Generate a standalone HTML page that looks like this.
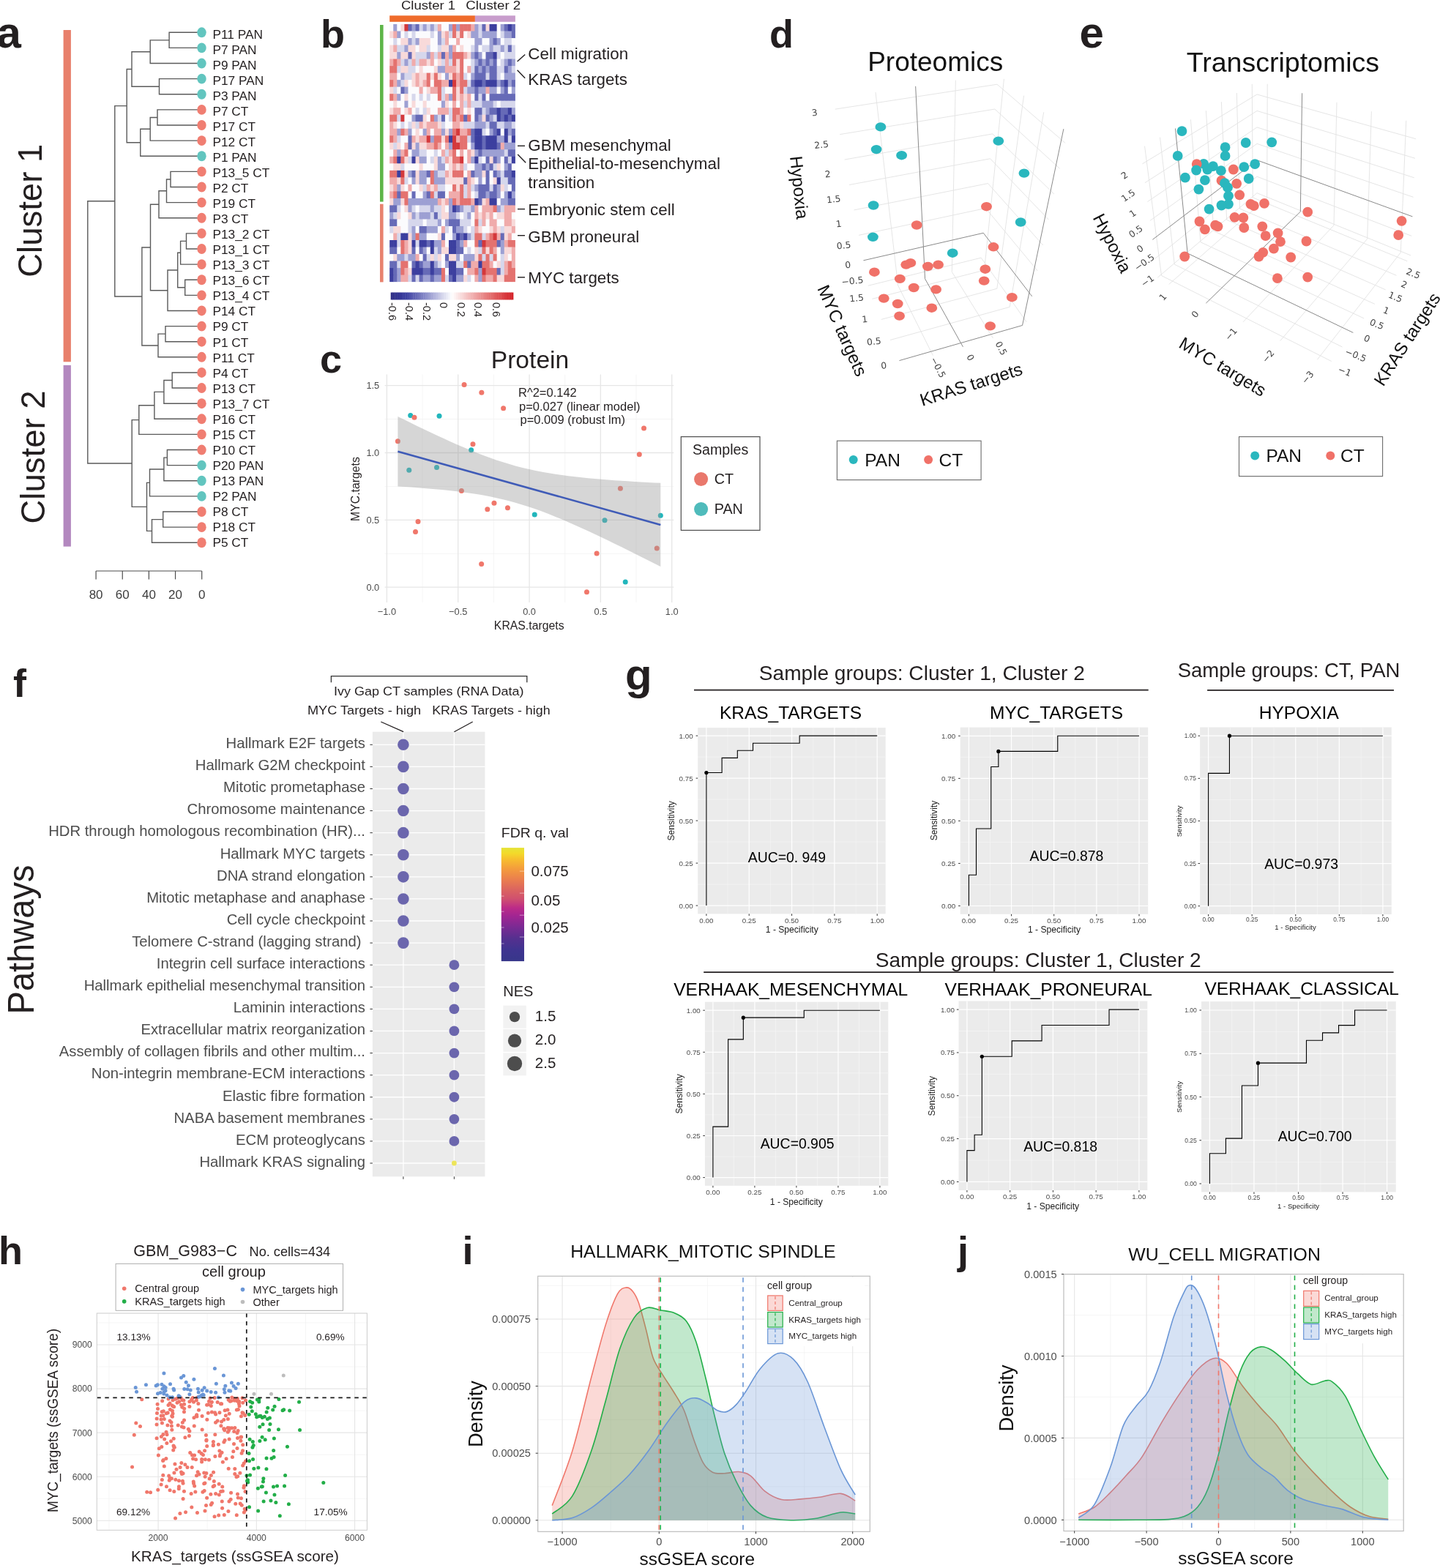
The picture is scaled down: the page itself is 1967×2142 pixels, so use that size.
<!DOCTYPE html>
<html><head><meta charset="utf-8"><title>Figure</title>
<style>html,body{margin:0;padding:0;background:#fff;}svg{display:block;}</style></head><body>
<svg width="1967" height="2142" viewBox="0 0 1967 2142" font-family='"Liberation Sans", Arial, Helvetica, sans-serif'>
<rect x="0" y="0" width="1967" height="2142" fill="#FFFFFF"/>
<path d="M275.5 44.3H231.1V65.42H275.5 M231.1 54.86H205.2V86.54H275.5 M275.5 107.66H217.5V128.78H275.5 M205.2 70.7H180V118.22H217.5 M275.5 149.9H215V171.02H275.5 M215 160.46H205.2V192.14H275.5 M205.2 176.3H191.8V213.26H275.5 M180 94.46H173.2V194.78H191.8 M275.5 234.38H233V255.5H275.5 M233 244.94H227.5V276.62H275.5 M227.5 260.78H217V297.74H275.5 M275.5 318.86H254.5V339.98H275.5 M254.5 329.42H246.6V361.1H275.5 M275.5 382.22H252.7V403.34H275.5 M246.6 345.26H242.7V392.78H252.7 M242.7 369.02H229V424.46H275.5 M217 279.26H205.5V396.74H229 M275.5 445.58H226V466.7H275.5 M226 456.14H216V487.82H275.5 M205.5 338H193.9V471.98H216 M173.2 144.62H156.8V404.99H193.9 M275.5 508.94H235.2V530.06H275.5 M235.2 519.5H223.9V551.18H275.5 M223.9 535.34H210.9V572.3H275.5 M210.9 553.82H189.8V593.42H275.5 M275.5 614.54H228.4V635.66H275.5 M228.4 625.1H223.9V656.78H275.5 M223.9 640.94H204.5V677.9H275.5 M275.5 699.02H222.7V720.14H275.5 M222.7 709.58H207.5V741.26H275.5 M204.5 659.42H200.5V725.42H207.5 M189.8 573.62H180.2V692.42H200.5 M156.8 274.81H119.8V633.02H180.2" stroke="#5A5A5A" stroke-width="1.4" fill="none"/>
<ellipse cx="275.5" cy="44.3" rx="6.2" ry="6.95" fill="#62C5BF"/>
<text x="290.4" y="52.9" font-size="17.3" fill="#231F20">P11 PAN</text>
<ellipse cx="275.5" cy="65.42" rx="6.2" ry="6.95" fill="#62C5BF"/>
<text x="290.4" y="73.93" font-size="17.3" fill="#231F20">P7 PAN</text>
<ellipse cx="275.5" cy="86.54" rx="6.2" ry="6.95" fill="#62C5BF"/>
<text x="290.4" y="94.96" font-size="17.3" fill="#231F20">P9 PAN</text>
<ellipse cx="275.5" cy="107.66" rx="6.2" ry="6.95" fill="#62C5BF"/>
<text x="290.4" y="115.99" font-size="17.3" fill="#231F20">P17 PAN</text>
<ellipse cx="275.5" cy="128.78" rx="6.2" ry="6.95" fill="#62C5BF"/>
<text x="290.4" y="137.02" font-size="17.3" fill="#231F20">P3 PAN</text>
<ellipse cx="275.5" cy="149.9" rx="6.2" ry="6.95" fill="#F07E72"/>
<text x="290.4" y="158.05" font-size="17.3" fill="#231F20">P7 CT</text>
<ellipse cx="275.5" cy="171.02" rx="6.2" ry="6.95" fill="#F07E72"/>
<text x="290.4" y="179.08" font-size="17.3" fill="#231F20">P17 CT</text>
<ellipse cx="275.5" cy="192.14" rx="6.2" ry="6.95" fill="#F07E72"/>
<text x="290.4" y="200.11" font-size="17.3" fill="#231F20">P12 CT</text>
<ellipse cx="275.5" cy="213.26" rx="6.2" ry="6.95" fill="#62C5BF"/>
<text x="290.4" y="221.14" font-size="17.3" fill="#231F20">P1 PAN</text>
<ellipse cx="275.5" cy="234.38" rx="6.2" ry="6.95" fill="#F07E72"/>
<text x="290.4" y="242.17" font-size="17.3" fill="#231F20">P13_5 CT</text>
<ellipse cx="275.5" cy="255.5" rx="6.2" ry="6.95" fill="#F07E72"/>
<text x="290.4" y="263.2" font-size="17.3" fill="#231F20">P2 CT</text>
<ellipse cx="275.5" cy="276.62" rx="6.2" ry="6.95" fill="#F07E72"/>
<text x="290.4" y="284.23" font-size="17.3" fill="#231F20">P19 CT</text>
<ellipse cx="275.5" cy="297.74" rx="6.2" ry="6.95" fill="#F07E72"/>
<text x="290.4" y="305.26" font-size="17.3" fill="#231F20">P3 CT</text>
<ellipse cx="275.5" cy="318.86" rx="6.2" ry="6.95" fill="#F07E72"/>
<text x="290.4" y="326.29" font-size="17.3" fill="#231F20">P13_2 CT</text>
<ellipse cx="275.5" cy="339.98" rx="6.2" ry="6.95" fill="#F07E72"/>
<text x="290.4" y="347.32" font-size="17.3" fill="#231F20">P13_1 CT</text>
<ellipse cx="275.5" cy="361.1" rx="6.2" ry="6.95" fill="#F07E72"/>
<text x="290.4" y="368.35" font-size="17.3" fill="#231F20">P13_3 CT</text>
<ellipse cx="275.5" cy="382.22" rx="6.2" ry="6.95" fill="#F07E72"/>
<text x="290.4" y="389.38" font-size="17.3" fill="#231F20">P13_6 CT</text>
<ellipse cx="275.5" cy="403.34" rx="6.2" ry="6.95" fill="#F07E72"/>
<text x="290.4" y="410.41" font-size="17.3" fill="#231F20">P13_4 CT</text>
<ellipse cx="275.5" cy="424.46" rx="6.2" ry="6.95" fill="#F07E72"/>
<text x="290.4" y="431.44" font-size="17.3" fill="#231F20">P14 CT</text>
<ellipse cx="275.5" cy="445.58" rx="6.2" ry="6.95" fill="#F07E72"/>
<text x="290.4" y="452.47" font-size="17.3" fill="#231F20">P9 CT</text>
<ellipse cx="275.5" cy="466.7" rx="6.2" ry="6.95" fill="#F07E72"/>
<text x="290.4" y="473.5" font-size="17.3" fill="#231F20">P1 CT</text>
<ellipse cx="275.5" cy="487.82" rx="6.2" ry="6.95" fill="#F07E72"/>
<text x="290.4" y="494.53" font-size="17.3" fill="#231F20">P11 CT</text>
<ellipse cx="275.5" cy="508.94" rx="6.2" ry="6.95" fill="#F07E72"/>
<text x="290.4" y="515.56" font-size="17.3" fill="#231F20">P4 CT</text>
<ellipse cx="275.5" cy="530.06" rx="6.2" ry="6.95" fill="#F07E72"/>
<text x="290.4" y="536.59" font-size="17.3" fill="#231F20">P13 CT</text>
<ellipse cx="275.5" cy="551.18" rx="6.2" ry="6.95" fill="#F07E72"/>
<text x="290.4" y="557.62" font-size="17.3" fill="#231F20">P13_7 CT</text>
<ellipse cx="275.5" cy="572.3" rx="6.2" ry="6.95" fill="#F07E72"/>
<text x="290.4" y="578.65" font-size="17.3" fill="#231F20">P16 CT</text>
<ellipse cx="275.5" cy="593.42" rx="6.2" ry="6.95" fill="#F07E72"/>
<text x="290.4" y="599.68" font-size="17.3" fill="#231F20">P15 CT</text>
<ellipse cx="275.5" cy="614.54" rx="6.2" ry="6.95" fill="#F07E72"/>
<text x="290.4" y="620.71" font-size="17.3" fill="#231F20">P10 CT</text>
<ellipse cx="275.5" cy="635.66" rx="6.2" ry="6.95" fill="#62C5BF"/>
<text x="290.4" y="641.74" font-size="17.3" fill="#231F20">P20 PAN</text>
<ellipse cx="275.5" cy="656.78" rx="6.2" ry="6.95" fill="#62C5BF"/>
<text x="290.4" y="662.77" font-size="17.3" fill="#231F20">P13 PAN</text>
<ellipse cx="275.5" cy="677.9" rx="6.2" ry="6.95" fill="#62C5BF"/>
<text x="290.4" y="683.8" font-size="17.3" fill="#231F20">P2 PAN</text>
<ellipse cx="275.5" cy="699.02" rx="6.2" ry="6.95" fill="#F07E72"/>
<text x="290.4" y="704.83" font-size="17.3" fill="#231F20">P8 CT</text>
<ellipse cx="275.5" cy="720.14" rx="6.2" ry="6.95" fill="#F07E72"/>
<text x="290.4" y="725.86" font-size="17.3" fill="#231F20">P18 CT</text>
<ellipse cx="275.5" cy="741.26" rx="6.2" ry="6.95" fill="#F07E72"/>
<text x="290.4" y="746.89" font-size="17.3" fill="#231F20">P5 CT</text>
<line x1="131.1" y1="780" x2="275.7" y2="780" stroke="#4D4D4D" stroke-width="1.2"/>
<line x1="275.7" y1="780" x2="275.7" y2="791.4" stroke="#4D4D4D" stroke-width="1.2"/>
<text x="275.7" y="818" font-size="17" text-anchor="middle" fill="#3C3C3C">0</text>
<line x1="239.55" y1="780" x2="239.55" y2="791.4" stroke="#4D4D4D" stroke-width="1.2"/>
<text x="239.55" y="818" font-size="17" text-anchor="middle" fill="#3C3C3C">20</text>
<line x1="203.4" y1="780" x2="203.4" y2="791.4" stroke="#4D4D4D" stroke-width="1.2"/>
<text x="203.4" y="818" font-size="17" text-anchor="middle" fill="#3C3C3C">40</text>
<line x1="167.25" y1="780" x2="167.25" y2="791.4" stroke="#4D4D4D" stroke-width="1.2"/>
<text x="167.25" y="818" font-size="17" text-anchor="middle" fill="#3C3C3C">60</text>
<line x1="131.1" y1="780" x2="131.1" y2="791.4" stroke="#4D4D4D" stroke-width="1.2"/>
<text x="131.1" y="818" font-size="17" text-anchor="middle" fill="#3C3C3C">80</text>
<rect x="86.6" y="41" width="10.3" height="453.3" fill="#E8806C"/>
<rect x="86.6" y="498.9" width="10.3" height="247.7" fill="#B388BF"/>
<text transform="translate(56.9 287.8) rotate(-90)" font-size="45.5" text-anchor="middle" fill="#231F20">Cluster 1</text>
<text transform="translate(60.9 624.5) rotate(-90)" font-size="45.5" text-anchor="middle" fill="#231F20">Cluster 2</text>
<rect x="532.2" y="33" width="5.65" height="10.12" fill="#FBFBFD"/>
<rect x="537.25" y="33" width="5.65" height="10.12" fill="#9DA0D3"/>
<rect x="542.3" y="33" width="5.65" height="10.12" fill="#FBFBFD"/>
<rect x="547.35" y="33" width="5.65" height="10.12" fill="#F8DADA"/>
<rect x="552.4" y="33" width="5.65" height="10.12" fill="#D4383B"/>
<rect x="557.45" y="33" width="5.65" height="10.12" fill="#666AB7"/>
<rect x="562.5" y="33" width="5.65" height="10.12" fill="#9DA0D3"/>
<rect x="567.55" y="33" width="5.65" height="10.12" fill="#666AB7"/>
<rect x="572.6" y="33" width="5.65" height="10.12" fill="#D6D7EC"/>
<rect x="577.65" y="33" width="5.65" height="10.12" fill="#9DA0D3"/>
<rect x="582.7" y="33" width="5.65" height="10.12" fill="#D6D7EC"/>
<rect x="587.75" y="33" width="5.65" height="10.12" fill="#9DA0D3"/>
<rect x="592.8" y="33" width="5.65" height="10.12" fill="#D6D7EC"/>
<rect x="597.85" y="33" width="5.65" height="10.12" fill="#F0ABAB"/>
<rect x="602.9" y="33" width="5.65" height="10.12" fill="#FBFBFD"/>
<rect x="607.95" y="33" width="5.65" height="10.12" fill="#FBFBFD"/>
<rect x="613" y="33" width="5.65" height="10.12" fill="#9DA0D3"/>
<rect x="618.05" y="33" width="5.65" height="10.12" fill="#E4726F"/>
<rect x="623.1" y="33" width="5.65" height="10.12" fill="#9DA0D3"/>
<rect x="628.15" y="33" width="5.65" height="10.12" fill="#E4726F"/>
<rect x="633.2" y="33" width="5.65" height="10.12" fill="#E4726F"/>
<rect x="638.25" y="33" width="5.65" height="10.12" fill="#E4726F"/>
<rect x="643.3" y="33" width="5.65" height="10.12" fill="#F0ABAB"/>
<rect x="648.35" y="33" width="5.65" height="10.12" fill="#9DA0D3"/>
<rect x="653.4" y="33" width="5.65" height="10.12" fill="#D6D7EC"/>
<rect x="658.45" y="33" width="5.65" height="10.12" fill="#666AB7"/>
<rect x="663.5" y="33" width="5.65" height="10.12" fill="#F8DADA"/>
<rect x="668.55" y="33" width="5.65" height="10.12" fill="#3C3F9F"/>
<rect x="673.6" y="33" width="5.65" height="10.12" fill="#3C3F9F"/>
<rect x="678.65" y="33" width="5.65" height="10.12" fill="#FBFBFD"/>
<rect x="683.7" y="33" width="5.65" height="10.12" fill="#9DA0D3"/>
<rect x="688.75" y="33" width="5.65" height="10.12" fill="#666AB7"/>
<rect x="693.8" y="33" width="5.65" height="10.12" fill="#3C3F9F"/>
<rect x="698.85" y="33" width="5.05" height="10.12" fill="#666AB7"/>
<rect x="532.2" y="42.52" width="5.65" height="10.12" fill="#F8DADA"/>
<rect x="537.25" y="42.52" width="5.65" height="10.12" fill="#F0ABAB"/>
<rect x="542.3" y="42.52" width="5.65" height="10.12" fill="#9DA0D3"/>
<rect x="547.35" y="42.52" width="5.65" height="10.12" fill="#FBFBFD"/>
<rect x="552.4" y="42.52" width="5.65" height="10.12" fill="#D6D7EC"/>
<rect x="557.45" y="42.52" width="5.65" height="10.12" fill="#FBFBFD"/>
<rect x="562.5" y="42.52" width="5.65" height="10.12" fill="#D6D7EC"/>
<rect x="567.55" y="42.52" width="5.65" height="10.12" fill="#FBFBFD"/>
<rect x="572.6" y="42.52" width="5.65" height="10.12" fill="#FBFBFD"/>
<rect x="577.65" y="42.52" width="5.65" height="10.12" fill="#FBFBFD"/>
<rect x="582.7" y="42.52" width="5.65" height="10.12" fill="#FBFBFD"/>
<rect x="587.75" y="42.52" width="5.65" height="10.12" fill="#D6D7EC"/>
<rect x="592.8" y="42.52" width="5.65" height="10.12" fill="#FBFBFD"/>
<rect x="597.85" y="42.52" width="5.65" height="10.12" fill="#9DA0D3"/>
<rect x="602.9" y="42.52" width="5.65" height="10.12" fill="#F8DADA"/>
<rect x="607.95" y="42.52" width="5.65" height="10.12" fill="#F0ABAB"/>
<rect x="613" y="42.52" width="5.65" height="10.12" fill="#D6D7EC"/>
<rect x="618.05" y="42.52" width="5.65" height="10.12" fill="#E4726F"/>
<rect x="623.1" y="42.52" width="5.65" height="10.12" fill="#F8DADA"/>
<rect x="628.15" y="42.52" width="5.65" height="10.12" fill="#E4726F"/>
<rect x="633.2" y="42.52" width="5.65" height="10.12" fill="#FBFBFD"/>
<rect x="638.25" y="42.52" width="5.65" height="10.12" fill="#F8DADA"/>
<rect x="643.3" y="42.52" width="5.65" height="10.12" fill="#9DA0D3"/>
<rect x="648.35" y="42.52" width="5.65" height="10.12" fill="#9DA0D3"/>
<rect x="653.4" y="42.52" width="5.65" height="10.12" fill="#D6D7EC"/>
<rect x="658.45" y="42.52" width="5.65" height="10.12" fill="#9DA0D3"/>
<rect x="663.5" y="42.52" width="5.65" height="10.12" fill="#9DA0D3"/>
<rect x="668.55" y="42.52" width="5.65" height="10.12" fill="#9DA0D3"/>
<rect x="673.6" y="42.52" width="5.65" height="10.12" fill="#9DA0D3"/>
<rect x="678.65" y="42.52" width="5.65" height="10.12" fill="#FBFBFD"/>
<rect x="683.7" y="42.52" width="5.65" height="10.12" fill="#D6D7EC"/>
<rect x="688.75" y="42.52" width="5.65" height="10.12" fill="#9DA0D3"/>
<rect x="693.8" y="42.52" width="5.65" height="10.12" fill="#9DA0D3"/>
<rect x="698.85" y="42.52" width="5.05" height="10.12" fill="#666AB7"/>
<rect x="532.2" y="52.03" width="5.65" height="10.12" fill="#FBFBFD"/>
<rect x="537.25" y="52.03" width="5.65" height="10.12" fill="#D6D7EC"/>
<rect x="542.3" y="52.03" width="5.65" height="10.12" fill="#FBFBFD"/>
<rect x="547.35" y="52.03" width="5.65" height="10.12" fill="#F8DADA"/>
<rect x="552.4" y="52.03" width="5.65" height="10.12" fill="#F8DADA"/>
<rect x="557.45" y="52.03" width="5.65" height="10.12" fill="#9DA0D3"/>
<rect x="562.5" y="52.03" width="5.65" height="10.12" fill="#D6D7EC"/>
<rect x="567.55" y="52.03" width="5.65" height="10.12" fill="#9DA0D3"/>
<rect x="572.6" y="52.03" width="5.65" height="10.12" fill="#F8DADA"/>
<rect x="577.65" y="52.03" width="5.65" height="10.12" fill="#F8DADA"/>
<rect x="582.7" y="52.03" width="5.65" height="10.12" fill="#F8DADA"/>
<rect x="587.75" y="52.03" width="5.65" height="10.12" fill="#FBFBFD"/>
<rect x="592.8" y="52.03" width="5.65" height="10.12" fill="#FBFBFD"/>
<rect x="597.85" y="52.03" width="5.65" height="10.12" fill="#9DA0D3"/>
<rect x="602.9" y="52.03" width="5.65" height="10.12" fill="#D6D7EC"/>
<rect x="607.95" y="52.03" width="5.65" height="10.12" fill="#F0ABAB"/>
<rect x="613" y="52.03" width="5.65" height="10.12" fill="#FBFBFD"/>
<rect x="618.05" y="52.03" width="5.65" height="10.12" fill="#FBFBFD"/>
<rect x="623.1" y="52.03" width="5.65" height="10.12" fill="#F0ABAB"/>
<rect x="628.15" y="52.03" width="5.65" height="10.12" fill="#FBFBFD"/>
<rect x="633.2" y="52.03" width="5.65" height="10.12" fill="#FBFBFD"/>
<rect x="638.25" y="52.03" width="5.65" height="10.12" fill="#FBFBFD"/>
<rect x="643.3" y="52.03" width="5.65" height="10.12" fill="#FBFBFD"/>
<rect x="648.35" y="52.03" width="5.65" height="10.12" fill="#9DA0D3"/>
<rect x="653.4" y="52.03" width="5.65" height="10.12" fill="#9DA0D3"/>
<rect x="658.45" y="52.03" width="5.65" height="10.12" fill="#FBFBFD"/>
<rect x="663.5" y="52.03" width="5.65" height="10.12" fill="#FBFBFD"/>
<rect x="668.55" y="52.03" width="5.65" height="10.12" fill="#9DA0D3"/>
<rect x="673.6" y="52.03" width="5.65" height="10.12" fill="#666AB7"/>
<rect x="678.65" y="52.03" width="5.65" height="10.12" fill="#9DA0D3"/>
<rect x="683.7" y="52.03" width="5.65" height="10.12" fill="#FBFBFD"/>
<rect x="688.75" y="52.03" width="5.65" height="10.12" fill="#D6D7EC"/>
<rect x="693.8" y="52.03" width="5.65" height="10.12" fill="#D6D7EC"/>
<rect x="698.85" y="52.03" width="5.05" height="10.12" fill="#FBFBFD"/>
<rect x="532.2" y="61.55" width="5.65" height="10.12" fill="#F8DADA"/>
<rect x="537.25" y="61.55" width="5.65" height="10.12" fill="#F0ABAB"/>
<rect x="542.3" y="61.55" width="5.65" height="10.12" fill="#D6D7EC"/>
<rect x="547.35" y="61.55" width="5.65" height="10.12" fill="#D6D7EC"/>
<rect x="552.4" y="61.55" width="5.65" height="10.12" fill="#9DA0D3"/>
<rect x="557.45" y="61.55" width="5.65" height="10.12" fill="#F8DADA"/>
<rect x="562.5" y="61.55" width="5.65" height="10.12" fill="#F8DADA"/>
<rect x="567.55" y="61.55" width="5.65" height="10.12" fill="#FBFBFD"/>
<rect x="572.6" y="61.55" width="5.65" height="10.12" fill="#F8DADA"/>
<rect x="577.65" y="61.55" width="5.65" height="10.12" fill="#F8DADA"/>
<rect x="582.7" y="61.55" width="5.65" height="10.12" fill="#D6D7EC"/>
<rect x="587.75" y="61.55" width="5.65" height="10.12" fill="#FBFBFD"/>
<rect x="592.8" y="61.55" width="5.65" height="10.12" fill="#FBFBFD"/>
<rect x="597.85" y="61.55" width="5.65" height="10.12" fill="#D6D7EC"/>
<rect x="602.9" y="61.55" width="5.65" height="10.12" fill="#F8DADA"/>
<rect x="607.95" y="61.55" width="5.65" height="10.12" fill="#F8DADA"/>
<rect x="613" y="61.55" width="5.65" height="10.12" fill="#9DA0D3"/>
<rect x="618.05" y="61.55" width="5.65" height="10.12" fill="#F0ABAB"/>
<rect x="623.1" y="61.55" width="5.65" height="10.12" fill="#FBFBFD"/>
<rect x="628.15" y="61.55" width="5.65" height="10.12" fill="#F8DADA"/>
<rect x="633.2" y="61.55" width="5.65" height="10.12" fill="#FBFBFD"/>
<rect x="638.25" y="61.55" width="5.65" height="10.12" fill="#FBFBFD"/>
<rect x="643.3" y="61.55" width="5.65" height="10.12" fill="#D6D7EC"/>
<rect x="648.35" y="61.55" width="5.65" height="10.12" fill="#9DA0D3"/>
<rect x="653.4" y="61.55" width="5.65" height="10.12" fill="#FBFBFD"/>
<rect x="658.45" y="61.55" width="5.65" height="10.12" fill="#D6D7EC"/>
<rect x="663.5" y="61.55" width="5.65" height="10.12" fill="#D6D7EC"/>
<rect x="668.55" y="61.55" width="5.65" height="10.12" fill="#9DA0D3"/>
<rect x="673.6" y="61.55" width="5.65" height="10.12" fill="#D6D7EC"/>
<rect x="678.65" y="61.55" width="5.65" height="10.12" fill="#D6D7EC"/>
<rect x="683.7" y="61.55" width="5.65" height="10.12" fill="#9DA0D3"/>
<rect x="688.75" y="61.55" width="5.65" height="10.12" fill="#D6D7EC"/>
<rect x="693.8" y="61.55" width="5.65" height="10.12" fill="#666AB7"/>
<rect x="698.85" y="61.55" width="5.05" height="10.12" fill="#D6D7EC"/>
<rect x="532.2" y="71.06" width="5.65" height="10.12" fill="#F8DADA"/>
<rect x="537.25" y="71.06" width="5.65" height="10.12" fill="#F8DADA"/>
<rect x="542.3" y="71.06" width="5.65" height="10.12" fill="#9DA0D3"/>
<rect x="547.35" y="71.06" width="5.65" height="10.12" fill="#F8DADA"/>
<rect x="552.4" y="71.06" width="5.65" height="10.12" fill="#F8DADA"/>
<rect x="557.45" y="71.06" width="5.65" height="10.12" fill="#666AB7"/>
<rect x="562.5" y="71.06" width="5.65" height="10.12" fill="#F8DADA"/>
<rect x="567.55" y="71.06" width="5.65" height="10.12" fill="#D6D7EC"/>
<rect x="572.6" y="71.06" width="5.65" height="10.12" fill="#D6D7EC"/>
<rect x="577.65" y="71.06" width="5.65" height="10.12" fill="#D6D7EC"/>
<rect x="582.7" y="71.06" width="5.65" height="10.12" fill="#9DA0D3"/>
<rect x="587.75" y="71.06" width="5.65" height="10.12" fill="#F0ABAB"/>
<rect x="592.8" y="71.06" width="5.65" height="10.12" fill="#D6D7EC"/>
<rect x="597.85" y="71.06" width="5.65" height="10.12" fill="#F0ABAB"/>
<rect x="602.9" y="71.06" width="5.65" height="10.12" fill="#666AB7"/>
<rect x="607.95" y="71.06" width="5.65" height="10.12" fill="#F0ABAB"/>
<rect x="613" y="71.06" width="5.65" height="10.12" fill="#9DA0D3"/>
<rect x="618.05" y="71.06" width="5.65" height="10.12" fill="#E4726F"/>
<rect x="623.1" y="71.06" width="5.65" height="10.12" fill="#E4726F"/>
<rect x="628.15" y="71.06" width="5.65" height="10.12" fill="#E4726F"/>
<rect x="633.2" y="71.06" width="5.65" height="10.12" fill="#F0ABAB"/>
<rect x="638.25" y="71.06" width="5.65" height="10.12" fill="#F8DADA"/>
<rect x="643.3" y="71.06" width="5.65" height="10.12" fill="#9DA0D3"/>
<rect x="648.35" y="71.06" width="5.65" height="10.12" fill="#666AB7"/>
<rect x="653.4" y="71.06" width="5.65" height="10.12" fill="#9DA0D3"/>
<rect x="658.45" y="71.06" width="5.65" height="10.12" fill="#FBFBFD"/>
<rect x="663.5" y="71.06" width="5.65" height="10.12" fill="#666AB7"/>
<rect x="668.55" y="71.06" width="5.65" height="10.12" fill="#666AB7"/>
<rect x="673.6" y="71.06" width="5.65" height="10.12" fill="#3C3F9F"/>
<rect x="678.65" y="71.06" width="5.65" height="10.12" fill="#D6D7EC"/>
<rect x="683.7" y="71.06" width="5.65" height="10.12" fill="#FBFBFD"/>
<rect x="688.75" y="71.06" width="5.65" height="10.12" fill="#D6D7EC"/>
<rect x="693.8" y="71.06" width="5.65" height="10.12" fill="#D6D7EC"/>
<rect x="698.85" y="71.06" width="5.05" height="10.12" fill="#D6D7EC"/>
<rect x="532.2" y="80.58" width="5.65" height="10.12" fill="#F0ABAB"/>
<rect x="537.25" y="80.58" width="5.65" height="10.12" fill="#E4726F"/>
<rect x="542.3" y="80.58" width="5.65" height="10.12" fill="#F0ABAB"/>
<rect x="547.35" y="80.58" width="5.65" height="10.12" fill="#D6D7EC"/>
<rect x="552.4" y="80.58" width="5.65" height="10.12" fill="#9DA0D3"/>
<rect x="557.45" y="80.58" width="5.65" height="10.12" fill="#D6D7EC"/>
<rect x="562.5" y="80.58" width="5.65" height="10.12" fill="#F0ABAB"/>
<rect x="567.55" y="80.58" width="5.65" height="10.12" fill="#D6D7EC"/>
<rect x="572.6" y="80.58" width="5.65" height="10.12" fill="#F0ABAB"/>
<rect x="577.65" y="80.58" width="5.65" height="10.12" fill="#F0ABAB"/>
<rect x="582.7" y="80.58" width="5.65" height="10.12" fill="#F8DADA"/>
<rect x="587.75" y="80.58" width="5.65" height="10.12" fill="#F0ABAB"/>
<rect x="592.8" y="80.58" width="5.65" height="10.12" fill="#FBFBFD"/>
<rect x="597.85" y="80.58" width="5.65" height="10.12" fill="#F8DADA"/>
<rect x="602.9" y="80.58" width="5.65" height="10.12" fill="#D6D7EC"/>
<rect x="607.95" y="80.58" width="5.65" height="10.12" fill="#F0ABAB"/>
<rect x="613" y="80.58" width="5.65" height="10.12" fill="#D6D7EC"/>
<rect x="618.05" y="80.58" width="5.65" height="10.12" fill="#E4726F"/>
<rect x="623.1" y="80.58" width="5.65" height="10.12" fill="#F8DADA"/>
<rect x="628.15" y="80.58" width="5.65" height="10.12" fill="#E4726F"/>
<rect x="633.2" y="80.58" width="5.65" height="10.12" fill="#FBFBFD"/>
<rect x="638.25" y="80.58" width="5.65" height="10.12" fill="#FBFBFD"/>
<rect x="643.3" y="80.58" width="5.65" height="10.12" fill="#D6D7EC"/>
<rect x="648.35" y="80.58" width="5.65" height="10.12" fill="#9DA0D3"/>
<rect x="653.4" y="80.58" width="5.65" height="10.12" fill="#666AB7"/>
<rect x="658.45" y="80.58" width="5.65" height="10.12" fill="#9DA0D3"/>
<rect x="663.5" y="80.58" width="5.65" height="10.12" fill="#666AB7"/>
<rect x="668.55" y="80.58" width="5.65" height="10.12" fill="#9DA0D3"/>
<rect x="673.6" y="80.58" width="5.65" height="10.12" fill="#666AB7"/>
<rect x="678.65" y="80.58" width="5.65" height="10.12" fill="#FBFBFD"/>
<rect x="683.7" y="80.58" width="5.65" height="10.12" fill="#D6D7EC"/>
<rect x="688.75" y="80.58" width="5.65" height="10.12" fill="#9DA0D3"/>
<rect x="693.8" y="80.58" width="5.65" height="10.12" fill="#666AB7"/>
<rect x="698.85" y="80.58" width="5.05" height="10.12" fill="#9DA0D3"/>
<rect x="532.2" y="90.1" width="5.65" height="10.12" fill="#E4726F"/>
<rect x="537.25" y="90.1" width="5.65" height="10.12" fill="#E4726F"/>
<rect x="542.3" y="90.1" width="5.65" height="10.12" fill="#D6D7EC"/>
<rect x="547.35" y="90.1" width="5.65" height="10.12" fill="#F8DADA"/>
<rect x="552.4" y="90.1" width="5.65" height="10.12" fill="#F8DADA"/>
<rect x="557.45" y="90.1" width="5.65" height="10.12" fill="#D6D7EC"/>
<rect x="562.5" y="90.1" width="5.65" height="10.12" fill="#D6D7EC"/>
<rect x="567.55" y="90.1" width="5.65" height="10.12" fill="#FBFBFD"/>
<rect x="572.6" y="90.1" width="5.65" height="10.12" fill="#F8DADA"/>
<rect x="577.65" y="90.1" width="5.65" height="10.12" fill="#FBFBFD"/>
<rect x="582.7" y="90.1" width="5.65" height="10.12" fill="#FBFBFD"/>
<rect x="587.75" y="90.1" width="5.65" height="10.12" fill="#FBFBFD"/>
<rect x="592.8" y="90.1" width="5.65" height="10.12" fill="#F8DADA"/>
<rect x="597.85" y="90.1" width="5.65" height="10.12" fill="#9DA0D3"/>
<rect x="602.9" y="90.1" width="5.65" height="10.12" fill="#9DA0D3"/>
<rect x="607.95" y="90.1" width="5.65" height="10.12" fill="#F0ABAB"/>
<rect x="613" y="90.1" width="5.65" height="10.12" fill="#F0ABAB"/>
<rect x="618.05" y="90.1" width="5.65" height="10.12" fill="#F0ABAB"/>
<rect x="623.1" y="90.1" width="5.65" height="10.12" fill="#F8DADA"/>
<rect x="628.15" y="90.1" width="5.65" height="10.12" fill="#E4726F"/>
<rect x="633.2" y="90.1" width="5.65" height="10.12" fill="#FBFBFD"/>
<rect x="638.25" y="90.1" width="5.65" height="10.12" fill="#F0ABAB"/>
<rect x="643.3" y="90.1" width="5.65" height="10.12" fill="#D6D7EC"/>
<rect x="648.35" y="90.1" width="5.65" height="10.12" fill="#666AB7"/>
<rect x="653.4" y="90.1" width="5.65" height="10.12" fill="#9DA0D3"/>
<rect x="658.45" y="90.1" width="5.65" height="10.12" fill="#666AB7"/>
<rect x="663.5" y="90.1" width="5.65" height="10.12" fill="#9DA0D3"/>
<rect x="668.55" y="90.1" width="5.65" height="10.12" fill="#666AB7"/>
<rect x="673.6" y="90.1" width="5.65" height="10.12" fill="#666AB7"/>
<rect x="678.65" y="90.1" width="5.65" height="10.12" fill="#D6D7EC"/>
<rect x="683.7" y="90.1" width="5.65" height="10.12" fill="#D6D7EC"/>
<rect x="688.75" y="90.1" width="5.65" height="10.12" fill="#666AB7"/>
<rect x="693.8" y="90.1" width="5.65" height="10.12" fill="#9DA0D3"/>
<rect x="698.85" y="90.1" width="5.05" height="10.12" fill="#D6D7EC"/>
<rect x="532.2" y="99.61" width="5.65" height="10.12" fill="#F0ABAB"/>
<rect x="537.25" y="99.61" width="5.65" height="10.12" fill="#F0ABAB"/>
<rect x="542.3" y="99.61" width="5.65" height="10.12" fill="#FBFBFD"/>
<rect x="547.35" y="99.61" width="5.65" height="10.12" fill="#9DA0D3"/>
<rect x="552.4" y="99.61" width="5.65" height="10.12" fill="#D6D7EC"/>
<rect x="557.45" y="99.61" width="5.65" height="10.12" fill="#D6D7EC"/>
<rect x="562.5" y="99.61" width="5.65" height="10.12" fill="#F8DADA"/>
<rect x="567.55" y="99.61" width="5.65" height="10.12" fill="#F0ABAB"/>
<rect x="572.6" y="99.61" width="5.65" height="10.12" fill="#F8DADA"/>
<rect x="577.65" y="99.61" width="5.65" height="10.12" fill="#F8DADA"/>
<rect x="582.7" y="99.61" width="5.65" height="10.12" fill="#E4726F"/>
<rect x="587.75" y="99.61" width="5.65" height="10.12" fill="#F8DADA"/>
<rect x="592.8" y="99.61" width="5.65" height="10.12" fill="#E4726F"/>
<rect x="597.85" y="99.61" width="5.65" height="10.12" fill="#F8DADA"/>
<rect x="602.9" y="99.61" width="5.65" height="10.12" fill="#FBFBFD"/>
<rect x="607.95" y="99.61" width="5.65" height="10.12" fill="#9DA0D3"/>
<rect x="613" y="99.61" width="5.65" height="10.12" fill="#F8DADA"/>
<rect x="618.05" y="99.61" width="5.65" height="10.12" fill="#E4726F"/>
<rect x="623.1" y="99.61" width="5.65" height="10.12" fill="#F0ABAB"/>
<rect x="628.15" y="99.61" width="5.65" height="10.12" fill="#E4726F"/>
<rect x="633.2" y="99.61" width="5.65" height="10.12" fill="#D6D7EC"/>
<rect x="638.25" y="99.61" width="5.65" height="10.12" fill="#FBFBFD"/>
<rect x="643.3" y="99.61" width="5.65" height="10.12" fill="#9DA0D3"/>
<rect x="648.35" y="99.61" width="5.65" height="10.12" fill="#666AB7"/>
<rect x="653.4" y="99.61" width="5.65" height="10.12" fill="#666AB7"/>
<rect x="658.45" y="99.61" width="5.65" height="10.12" fill="#666AB7"/>
<rect x="663.5" y="99.61" width="5.65" height="10.12" fill="#D6D7EC"/>
<rect x="668.55" y="99.61" width="5.65" height="10.12" fill="#666AB7"/>
<rect x="673.6" y="99.61" width="5.65" height="10.12" fill="#666AB7"/>
<rect x="678.65" y="99.61" width="5.65" height="10.12" fill="#D6D7EC"/>
<rect x="683.7" y="99.61" width="5.65" height="10.12" fill="#FBFBFD"/>
<rect x="688.75" y="99.61" width="5.65" height="10.12" fill="#9DA0D3"/>
<rect x="693.8" y="99.61" width="5.65" height="10.12" fill="#9DA0D3"/>
<rect x="698.85" y="99.61" width="5.05" height="10.12" fill="#9DA0D3"/>
<rect x="532.2" y="109.13" width="5.65" height="10.12" fill="#E4726F"/>
<rect x="537.25" y="109.13" width="5.65" height="10.12" fill="#F0ABAB"/>
<rect x="542.3" y="109.13" width="5.65" height="10.12" fill="#9DA0D3"/>
<rect x="547.35" y="109.13" width="5.65" height="10.12" fill="#D6D7EC"/>
<rect x="552.4" y="109.13" width="5.65" height="10.12" fill="#F8DADA"/>
<rect x="557.45" y="109.13" width="5.65" height="10.12" fill="#FBFBFD"/>
<rect x="562.5" y="109.13" width="5.65" height="10.12" fill="#F8DADA"/>
<rect x="567.55" y="109.13" width="5.65" height="10.12" fill="#F0ABAB"/>
<rect x="572.6" y="109.13" width="5.65" height="10.12" fill="#F8DADA"/>
<rect x="577.65" y="109.13" width="5.65" height="10.12" fill="#F0ABAB"/>
<rect x="582.7" y="109.13" width="5.65" height="10.12" fill="#E4726F"/>
<rect x="587.75" y="109.13" width="5.65" height="10.12" fill="#FBFBFD"/>
<rect x="592.8" y="109.13" width="5.65" height="10.12" fill="#E4726F"/>
<rect x="597.85" y="109.13" width="5.65" height="10.12" fill="#E4726F"/>
<rect x="602.9" y="109.13" width="5.65" height="10.12" fill="#F0ABAB"/>
<rect x="607.95" y="109.13" width="5.65" height="10.12" fill="#F0ABAB"/>
<rect x="613" y="109.13" width="5.65" height="10.12" fill="#3C3F9F"/>
<rect x="618.05" y="109.13" width="5.65" height="10.12" fill="#D4383B"/>
<rect x="623.1" y="109.13" width="5.65" height="10.12" fill="#F0ABAB"/>
<rect x="628.15" y="109.13" width="5.65" height="10.12" fill="#E4726F"/>
<rect x="633.2" y="109.13" width="5.65" height="10.12" fill="#E4726F"/>
<rect x="638.25" y="109.13" width="5.65" height="10.12" fill="#D6D7EC"/>
<rect x="643.3" y="109.13" width="5.65" height="10.12" fill="#666AB7"/>
<rect x="648.35" y="109.13" width="5.65" height="10.12" fill="#3C3F9F"/>
<rect x="653.4" y="109.13" width="5.65" height="10.12" fill="#3C3F9F"/>
<rect x="658.45" y="109.13" width="5.65" height="10.12" fill="#666AB7"/>
<rect x="663.5" y="109.13" width="5.65" height="10.12" fill="#3C3F9F"/>
<rect x="668.55" y="109.13" width="5.65" height="10.12" fill="#3C3F9F"/>
<rect x="673.6" y="109.13" width="5.65" height="10.12" fill="#3C3F9F"/>
<rect x="678.65" y="109.13" width="5.65" height="10.12" fill="#9DA0D3"/>
<rect x="683.7" y="109.13" width="5.65" height="10.12" fill="#666AB7"/>
<rect x="688.75" y="109.13" width="5.65" height="10.12" fill="#3C3F9F"/>
<rect x="693.8" y="109.13" width="5.65" height="10.12" fill="#9DA0D3"/>
<rect x="698.85" y="109.13" width="5.05" height="10.12" fill="#666AB7"/>
<rect x="532.2" y="118.65" width="5.65" height="10.12" fill="#F8DADA"/>
<rect x="537.25" y="118.65" width="5.65" height="10.12" fill="#D6D7EC"/>
<rect x="542.3" y="118.65" width="5.65" height="10.12" fill="#FBFBFD"/>
<rect x="547.35" y="118.65" width="5.65" height="10.12" fill="#666AB7"/>
<rect x="552.4" y="118.65" width="5.65" height="10.12" fill="#9DA0D3"/>
<rect x="557.45" y="118.65" width="5.65" height="10.12" fill="#FBFBFD"/>
<rect x="562.5" y="118.65" width="5.65" height="10.12" fill="#FBFBFD"/>
<rect x="567.55" y="118.65" width="5.65" height="10.12" fill="#FBFBFD"/>
<rect x="572.6" y="118.65" width="5.65" height="10.12" fill="#F0ABAB"/>
<rect x="577.65" y="118.65" width="5.65" height="10.12" fill="#FBFBFD"/>
<rect x="582.7" y="118.65" width="5.65" height="10.12" fill="#F8DADA"/>
<rect x="587.75" y="118.65" width="5.65" height="10.12" fill="#F0ABAB"/>
<rect x="592.8" y="118.65" width="5.65" height="10.12" fill="#F0ABAB"/>
<rect x="597.85" y="118.65" width="5.65" height="10.12" fill="#E4726F"/>
<rect x="602.9" y="118.65" width="5.65" height="10.12" fill="#D6D7EC"/>
<rect x="607.95" y="118.65" width="5.65" height="10.12" fill="#FBFBFD"/>
<rect x="613" y="118.65" width="5.65" height="10.12" fill="#FBFBFD"/>
<rect x="618.05" y="118.65" width="5.65" height="10.12" fill="#E4726F"/>
<rect x="623.1" y="118.65" width="5.65" height="10.12" fill="#F8DADA"/>
<rect x="628.15" y="118.65" width="5.65" height="10.12" fill="#E4726F"/>
<rect x="633.2" y="118.65" width="5.65" height="10.12" fill="#D6D7EC"/>
<rect x="638.25" y="118.65" width="5.65" height="10.12" fill="#9DA0D3"/>
<rect x="643.3" y="118.65" width="5.65" height="10.12" fill="#9DA0D3"/>
<rect x="648.35" y="118.65" width="5.65" height="10.12" fill="#666AB7"/>
<rect x="653.4" y="118.65" width="5.65" height="10.12" fill="#9DA0D3"/>
<rect x="658.45" y="118.65" width="5.65" height="10.12" fill="#9DA0D3"/>
<rect x="663.5" y="118.65" width="5.65" height="10.12" fill="#F0ABAB"/>
<rect x="668.55" y="118.65" width="5.65" height="10.12" fill="#9DA0D3"/>
<rect x="673.6" y="118.65" width="5.65" height="10.12" fill="#9DA0D3"/>
<rect x="678.65" y="118.65" width="5.65" height="10.12" fill="#FBFBFD"/>
<rect x="683.7" y="118.65" width="5.65" height="10.12" fill="#9DA0D3"/>
<rect x="688.75" y="118.65" width="5.65" height="10.12" fill="#666AB7"/>
<rect x="693.8" y="118.65" width="5.65" height="10.12" fill="#FBFBFD"/>
<rect x="698.85" y="118.65" width="5.05" height="10.12" fill="#9DA0D3"/>
<rect x="532.2" y="128.16" width="5.65" height="10.12" fill="#E4726F"/>
<rect x="537.25" y="128.16" width="5.65" height="10.12" fill="#F0ABAB"/>
<rect x="542.3" y="128.16" width="5.65" height="10.12" fill="#9DA0D3"/>
<rect x="547.35" y="128.16" width="5.65" height="10.12" fill="#FBFBFD"/>
<rect x="552.4" y="128.16" width="5.65" height="10.12" fill="#F8DADA"/>
<rect x="557.45" y="128.16" width="5.65" height="10.12" fill="#FBFBFD"/>
<rect x="562.5" y="128.16" width="5.65" height="10.12" fill="#D6D7EC"/>
<rect x="567.55" y="128.16" width="5.65" height="10.12" fill="#FBFBFD"/>
<rect x="572.6" y="128.16" width="5.65" height="10.12" fill="#D6D7EC"/>
<rect x="577.65" y="128.16" width="5.65" height="10.12" fill="#FBFBFD"/>
<rect x="582.7" y="128.16" width="5.65" height="10.12" fill="#D6D7EC"/>
<rect x="587.75" y="128.16" width="5.65" height="10.12" fill="#FBFBFD"/>
<rect x="592.8" y="128.16" width="5.65" height="10.12" fill="#FBFBFD"/>
<rect x="597.85" y="128.16" width="5.65" height="10.12" fill="#E4726F"/>
<rect x="602.9" y="128.16" width="5.65" height="10.12" fill="#D6D7EC"/>
<rect x="607.95" y="128.16" width="5.65" height="10.12" fill="#F0ABAB"/>
<rect x="613" y="128.16" width="5.65" height="10.12" fill="#9DA0D3"/>
<rect x="618.05" y="128.16" width="5.65" height="10.12" fill="#E4726F"/>
<rect x="623.1" y="128.16" width="5.65" height="10.12" fill="#F8DADA"/>
<rect x="628.15" y="128.16" width="5.65" height="10.12" fill="#F0ABAB"/>
<rect x="633.2" y="128.16" width="5.65" height="10.12" fill="#F8DADA"/>
<rect x="638.25" y="128.16" width="5.65" height="10.12" fill="#F0ABAB"/>
<rect x="643.3" y="128.16" width="5.65" height="10.12" fill="#FBFBFD"/>
<rect x="648.35" y="128.16" width="5.65" height="10.12" fill="#666AB7"/>
<rect x="653.4" y="128.16" width="5.65" height="10.12" fill="#D6D7EC"/>
<rect x="658.45" y="128.16" width="5.65" height="10.12" fill="#666AB7"/>
<rect x="663.5" y="128.16" width="5.65" height="10.12" fill="#FBFBFD"/>
<rect x="668.55" y="128.16" width="5.65" height="10.12" fill="#666AB7"/>
<rect x="673.6" y="128.16" width="5.65" height="10.12" fill="#666AB7"/>
<rect x="678.65" y="128.16" width="5.65" height="10.12" fill="#666AB7"/>
<rect x="683.7" y="128.16" width="5.65" height="10.12" fill="#666AB7"/>
<rect x="688.75" y="128.16" width="5.65" height="10.12" fill="#666AB7"/>
<rect x="693.8" y="128.16" width="5.65" height="10.12" fill="#666AB7"/>
<rect x="698.85" y="128.16" width="5.05" height="10.12" fill="#666AB7"/>
<rect x="532.2" y="137.68" width="5.65" height="10.12" fill="#FBFBFD"/>
<rect x="537.25" y="137.68" width="5.65" height="10.12" fill="#F8DADA"/>
<rect x="542.3" y="137.68" width="5.65" height="10.12" fill="#FBFBFD"/>
<rect x="547.35" y="137.68" width="5.65" height="10.12" fill="#FBFBFD"/>
<rect x="552.4" y="137.68" width="5.65" height="10.12" fill="#9DA0D3"/>
<rect x="557.45" y="137.68" width="5.65" height="10.12" fill="#FBFBFD"/>
<rect x="562.5" y="137.68" width="5.65" height="10.12" fill="#F8DADA"/>
<rect x="567.55" y="137.68" width="5.65" height="10.12" fill="#FBFBFD"/>
<rect x="572.6" y="137.68" width="5.65" height="10.12" fill="#FBFBFD"/>
<rect x="577.65" y="137.68" width="5.65" height="10.12" fill="#F8DADA"/>
<rect x="582.7" y="137.68" width="5.65" height="10.12" fill="#FBFBFD"/>
<rect x="587.75" y="137.68" width="5.65" height="10.12" fill="#FBFBFD"/>
<rect x="592.8" y="137.68" width="5.65" height="10.12" fill="#FBFBFD"/>
<rect x="597.85" y="137.68" width="5.65" height="10.12" fill="#FBFBFD"/>
<rect x="602.9" y="137.68" width="5.65" height="10.12" fill="#9DA0D3"/>
<rect x="607.95" y="137.68" width="5.65" height="10.12" fill="#F8DADA"/>
<rect x="613" y="137.68" width="5.65" height="10.12" fill="#FBFBFD"/>
<rect x="618.05" y="137.68" width="5.65" height="10.12" fill="#F0ABAB"/>
<rect x="623.1" y="137.68" width="5.65" height="10.12" fill="#FBFBFD"/>
<rect x="628.15" y="137.68" width="5.65" height="10.12" fill="#F0ABAB"/>
<rect x="633.2" y="137.68" width="5.65" height="10.12" fill="#D6D7EC"/>
<rect x="638.25" y="137.68" width="5.65" height="10.12" fill="#F0ABAB"/>
<rect x="643.3" y="137.68" width="5.65" height="10.12" fill="#D6D7EC"/>
<rect x="648.35" y="137.68" width="5.65" height="10.12" fill="#D6D7EC"/>
<rect x="653.4" y="137.68" width="5.65" height="10.12" fill="#D6D7EC"/>
<rect x="658.45" y="137.68" width="5.65" height="10.12" fill="#9DA0D3"/>
<rect x="663.5" y="137.68" width="5.65" height="10.12" fill="#9DA0D3"/>
<rect x="668.55" y="137.68" width="5.65" height="10.12" fill="#9DA0D3"/>
<rect x="673.6" y="137.68" width="5.65" height="10.12" fill="#D6D7EC"/>
<rect x="678.65" y="137.68" width="5.65" height="10.12" fill="#FBFBFD"/>
<rect x="683.7" y="137.68" width="5.65" height="10.12" fill="#D6D7EC"/>
<rect x="688.75" y="137.68" width="5.65" height="10.12" fill="#D6D7EC"/>
<rect x="693.8" y="137.68" width="5.65" height="10.12" fill="#D6D7EC"/>
<rect x="698.85" y="137.68" width="5.05" height="10.12" fill="#D6D7EC"/>
<rect x="532.2" y="147.19" width="5.65" height="10.12" fill="#F8DADA"/>
<rect x="537.25" y="147.19" width="5.65" height="10.12" fill="#F0ABAB"/>
<rect x="542.3" y="147.19" width="5.65" height="10.12" fill="#F0ABAB"/>
<rect x="547.35" y="147.19" width="5.65" height="10.12" fill="#FBFBFD"/>
<rect x="552.4" y="147.19" width="5.65" height="10.12" fill="#F8DADA"/>
<rect x="557.45" y="147.19" width="5.65" height="10.12" fill="#F0ABAB"/>
<rect x="562.5" y="147.19" width="5.65" height="10.12" fill="#FBFBFD"/>
<rect x="567.55" y="147.19" width="5.65" height="10.12" fill="#D6D7EC"/>
<rect x="572.6" y="147.19" width="5.65" height="10.12" fill="#FBFBFD"/>
<rect x="577.65" y="147.19" width="5.65" height="10.12" fill="#D6D7EC"/>
<rect x="582.7" y="147.19" width="5.65" height="10.12" fill="#F8DADA"/>
<rect x="587.75" y="147.19" width="5.65" height="10.12" fill="#FBFBFD"/>
<rect x="592.8" y="147.19" width="5.65" height="10.12" fill="#FBFBFD"/>
<rect x="597.85" y="147.19" width="5.65" height="10.12" fill="#F0ABAB"/>
<rect x="602.9" y="147.19" width="5.65" height="10.12" fill="#F0ABAB"/>
<rect x="607.95" y="147.19" width="5.65" height="10.12" fill="#F0ABAB"/>
<rect x="613" y="147.19" width="5.65" height="10.12" fill="#D6D7EC"/>
<rect x="618.05" y="147.19" width="5.65" height="10.12" fill="#E4726F"/>
<rect x="623.1" y="147.19" width="5.65" height="10.12" fill="#E4726F"/>
<rect x="628.15" y="147.19" width="5.65" height="10.12" fill="#F0ABAB"/>
<rect x="633.2" y="147.19" width="5.65" height="10.12" fill="#FBFBFD"/>
<rect x="638.25" y="147.19" width="5.65" height="10.12" fill="#F8DADA"/>
<rect x="643.3" y="147.19" width="5.65" height="10.12" fill="#FBFBFD"/>
<rect x="648.35" y="147.19" width="5.65" height="10.12" fill="#666AB7"/>
<rect x="653.4" y="147.19" width="5.65" height="10.12" fill="#666AB7"/>
<rect x="658.45" y="147.19" width="5.65" height="10.12" fill="#D6D7EC"/>
<rect x="663.5" y="147.19" width="5.65" height="10.12" fill="#9DA0D3"/>
<rect x="668.55" y="147.19" width="5.65" height="10.12" fill="#666AB7"/>
<rect x="673.6" y="147.19" width="5.65" height="10.12" fill="#666AB7"/>
<rect x="678.65" y="147.19" width="5.65" height="10.12" fill="#3C3F9F"/>
<rect x="683.7" y="147.19" width="5.65" height="10.12" fill="#666AB7"/>
<rect x="688.75" y="147.19" width="5.65" height="10.12" fill="#666AB7"/>
<rect x="693.8" y="147.19" width="5.65" height="10.12" fill="#3C3F9F"/>
<rect x="698.85" y="147.19" width="5.05" height="10.12" fill="#9DA0D3"/>
<rect x="532.2" y="156.71" width="5.65" height="10.12" fill="#E4726F"/>
<rect x="537.25" y="156.71" width="5.65" height="10.12" fill="#E4726F"/>
<rect x="542.3" y="156.71" width="5.65" height="10.12" fill="#D6D7EC"/>
<rect x="547.35" y="156.71" width="5.65" height="10.12" fill="#D4383B"/>
<rect x="552.4" y="156.71" width="5.65" height="10.12" fill="#FBFBFD"/>
<rect x="557.45" y="156.71" width="5.65" height="10.12" fill="#FBFBFD"/>
<rect x="562.5" y="156.71" width="5.65" height="10.12" fill="#9DA0D3"/>
<rect x="567.55" y="156.71" width="5.65" height="10.12" fill="#666AB7"/>
<rect x="572.6" y="156.71" width="5.65" height="10.12" fill="#666AB7"/>
<rect x="577.65" y="156.71" width="5.65" height="10.12" fill="#F8DADA"/>
<rect x="582.7" y="156.71" width="5.65" height="10.12" fill="#FBFBFD"/>
<rect x="587.75" y="156.71" width="5.65" height="10.12" fill="#E4726F"/>
<rect x="592.8" y="156.71" width="5.65" height="10.12" fill="#9DA0D3"/>
<rect x="597.85" y="156.71" width="5.65" height="10.12" fill="#D6D7EC"/>
<rect x="602.9" y="156.71" width="5.65" height="10.12" fill="#666AB7"/>
<rect x="607.95" y="156.71" width="5.65" height="10.12" fill="#FBFBFD"/>
<rect x="613" y="156.71" width="5.65" height="10.12" fill="#D6D7EC"/>
<rect x="618.05" y="156.71" width="5.65" height="10.12" fill="#E4726F"/>
<rect x="623.1" y="156.71" width="5.65" height="10.12" fill="#F0ABAB"/>
<rect x="628.15" y="156.71" width="5.65" height="10.12" fill="#E4726F"/>
<rect x="633.2" y="156.71" width="5.65" height="10.12" fill="#666AB7"/>
<rect x="638.25" y="156.71" width="5.65" height="10.12" fill="#E4726F"/>
<rect x="643.3" y="156.71" width="5.65" height="10.12" fill="#FBFBFD"/>
<rect x="648.35" y="156.71" width="5.65" height="10.12" fill="#666AB7"/>
<rect x="653.4" y="156.71" width="5.65" height="10.12" fill="#9DA0D3"/>
<rect x="658.45" y="156.71" width="5.65" height="10.12" fill="#F8DADA"/>
<rect x="663.5" y="156.71" width="5.65" height="10.12" fill="#666AB7"/>
<rect x="668.55" y="156.71" width="5.65" height="10.12" fill="#9DA0D3"/>
<rect x="673.6" y="156.71" width="5.65" height="10.12" fill="#D6D7EC"/>
<rect x="678.65" y="156.71" width="5.65" height="10.12" fill="#3C3F9F"/>
<rect x="683.7" y="156.71" width="5.65" height="10.12" fill="#666AB7"/>
<rect x="688.75" y="156.71" width="5.65" height="10.12" fill="#3C3F9F"/>
<rect x="693.8" y="156.71" width="5.65" height="10.12" fill="#666AB7"/>
<rect x="698.85" y="156.71" width="5.05" height="10.12" fill="#3C3F9F"/>
<rect x="532.2" y="166.23" width="5.65" height="10.12" fill="#F0ABAB"/>
<rect x="537.25" y="166.23" width="5.65" height="10.12" fill="#F8DADA"/>
<rect x="542.3" y="166.23" width="5.65" height="10.12" fill="#FBFBFD"/>
<rect x="547.35" y="166.23" width="5.65" height="10.12" fill="#D6D7EC"/>
<rect x="552.4" y="166.23" width="5.65" height="10.12" fill="#FBFBFD"/>
<rect x="557.45" y="166.23" width="5.65" height="10.12" fill="#D6D7EC"/>
<rect x="562.5" y="166.23" width="5.65" height="10.12" fill="#F8DADA"/>
<rect x="567.55" y="166.23" width="5.65" height="10.12" fill="#D6D7EC"/>
<rect x="572.6" y="166.23" width="5.65" height="10.12" fill="#F0ABAB"/>
<rect x="577.65" y="166.23" width="5.65" height="10.12" fill="#F8DADA"/>
<rect x="582.7" y="166.23" width="5.65" height="10.12" fill="#F0ABAB"/>
<rect x="587.75" y="166.23" width="5.65" height="10.12" fill="#F0ABAB"/>
<rect x="592.8" y="166.23" width="5.65" height="10.12" fill="#F0ABAB"/>
<rect x="597.85" y="166.23" width="5.65" height="10.12" fill="#F8DADA"/>
<rect x="602.9" y="166.23" width="5.65" height="10.12" fill="#D6D7EC"/>
<rect x="607.95" y="166.23" width="5.65" height="10.12" fill="#FBFBFD"/>
<rect x="613" y="166.23" width="5.65" height="10.12" fill="#FBFBFD"/>
<rect x="618.05" y="166.23" width="5.65" height="10.12" fill="#F0ABAB"/>
<rect x="623.1" y="166.23" width="5.65" height="10.12" fill="#F0ABAB"/>
<rect x="628.15" y="166.23" width="5.65" height="10.12" fill="#F8DADA"/>
<rect x="633.2" y="166.23" width="5.65" height="10.12" fill="#D6D7EC"/>
<rect x="638.25" y="166.23" width="5.65" height="10.12" fill="#D6D7EC"/>
<rect x="643.3" y="166.23" width="5.65" height="10.12" fill="#D6D7EC"/>
<rect x="648.35" y="166.23" width="5.65" height="10.12" fill="#9DA0D3"/>
<rect x="653.4" y="166.23" width="5.65" height="10.12" fill="#9DA0D3"/>
<rect x="658.45" y="166.23" width="5.65" height="10.12" fill="#9DA0D3"/>
<rect x="663.5" y="166.23" width="5.65" height="10.12" fill="#D6D7EC"/>
<rect x="668.55" y="166.23" width="5.65" height="10.12" fill="#666AB7"/>
<rect x="673.6" y="166.23" width="5.65" height="10.12" fill="#666AB7"/>
<rect x="678.65" y="166.23" width="5.65" height="10.12" fill="#D6D7EC"/>
<rect x="683.7" y="166.23" width="5.65" height="10.12" fill="#D6D7EC"/>
<rect x="688.75" y="166.23" width="5.65" height="10.12" fill="#9DA0D3"/>
<rect x="693.8" y="166.23" width="5.65" height="10.12" fill="#9DA0D3"/>
<rect x="698.85" y="166.23" width="5.05" height="10.12" fill="#D6D7EC"/>
<rect x="532.2" y="175.74" width="5.65" height="10.12" fill="#F0ABAB"/>
<rect x="537.25" y="175.74" width="5.65" height="10.12" fill="#F0ABAB"/>
<rect x="542.3" y="175.74" width="5.65" height="10.12" fill="#9DA0D3"/>
<rect x="547.35" y="175.74" width="5.65" height="10.12" fill="#E4726F"/>
<rect x="552.4" y="175.74" width="5.65" height="10.12" fill="#F0ABAB"/>
<rect x="557.45" y="175.74" width="5.65" height="10.12" fill="#9DA0D3"/>
<rect x="562.5" y="175.74" width="5.65" height="10.12" fill="#FBFBFD"/>
<rect x="567.55" y="175.74" width="5.65" height="10.12" fill="#F8DADA"/>
<rect x="572.6" y="175.74" width="5.65" height="10.12" fill="#FBFBFD"/>
<rect x="577.65" y="175.74" width="5.65" height="10.12" fill="#9DA0D3"/>
<rect x="582.7" y="175.74" width="5.65" height="10.12" fill="#F0ABAB"/>
<rect x="587.75" y="175.74" width="5.65" height="10.12" fill="#FBFBFD"/>
<rect x="592.8" y="175.74" width="5.65" height="10.12" fill="#F0ABAB"/>
<rect x="597.85" y="175.74" width="5.65" height="10.12" fill="#F0ABAB"/>
<rect x="602.9" y="175.74" width="5.65" height="10.12" fill="#9DA0D3"/>
<rect x="607.95" y="175.74" width="5.65" height="10.12" fill="#F8DADA"/>
<rect x="613" y="175.74" width="5.65" height="10.12" fill="#9DA0D3"/>
<rect x="618.05" y="175.74" width="5.65" height="10.12" fill="#E4726F"/>
<rect x="623.1" y="175.74" width="5.65" height="10.12" fill="#D4383B"/>
<rect x="628.15" y="175.74" width="5.65" height="10.12" fill="#F0ABAB"/>
<rect x="633.2" y="175.74" width="5.65" height="10.12" fill="#F0ABAB"/>
<rect x="638.25" y="175.74" width="5.65" height="10.12" fill="#E4726F"/>
<rect x="643.3" y="175.74" width="5.65" height="10.12" fill="#666AB7"/>
<rect x="648.35" y="175.74" width="5.65" height="10.12" fill="#3C3F9F"/>
<rect x="653.4" y="175.74" width="5.65" height="10.12" fill="#3C3F9F"/>
<rect x="658.45" y="175.74" width="5.65" height="10.12" fill="#D6D7EC"/>
<rect x="663.5" y="175.74" width="5.65" height="10.12" fill="#FBFBFD"/>
<rect x="668.55" y="175.74" width="5.65" height="10.12" fill="#9DA0D3"/>
<rect x="673.6" y="175.74" width="5.65" height="10.12" fill="#666AB7"/>
<rect x="678.65" y="175.74" width="5.65" height="10.12" fill="#3C3F9F"/>
<rect x="683.7" y="175.74" width="5.65" height="10.12" fill="#FBFBFD"/>
<rect x="688.75" y="175.74" width="5.65" height="10.12" fill="#3C3F9F"/>
<rect x="693.8" y="175.74" width="5.65" height="10.12" fill="#9DA0D3"/>
<rect x="698.85" y="175.74" width="5.05" height="10.12" fill="#666AB7"/>
<rect x="532.2" y="185.26" width="5.65" height="10.12" fill="#E4726F"/>
<rect x="537.25" y="185.26" width="5.65" height="10.12" fill="#F0ABAB"/>
<rect x="542.3" y="185.26" width="5.65" height="10.12" fill="#D6D7EC"/>
<rect x="547.35" y="185.26" width="5.65" height="10.12" fill="#FBFBFD"/>
<rect x="552.4" y="185.26" width="5.65" height="10.12" fill="#FBFBFD"/>
<rect x="557.45" y="185.26" width="5.65" height="10.12" fill="#666AB7"/>
<rect x="562.5" y="185.26" width="5.65" height="10.12" fill="#F0ABAB"/>
<rect x="567.55" y="185.26" width="5.65" height="10.12" fill="#F8DADA"/>
<rect x="572.6" y="185.26" width="5.65" height="10.12" fill="#F0ABAB"/>
<rect x="577.65" y="185.26" width="5.65" height="10.12" fill="#F0ABAB"/>
<rect x="582.7" y="185.26" width="5.65" height="10.12" fill="#D4383B"/>
<rect x="587.75" y="185.26" width="5.65" height="10.12" fill="#9DA0D3"/>
<rect x="592.8" y="185.26" width="5.65" height="10.12" fill="#E4726F"/>
<rect x="597.85" y="185.26" width="5.65" height="10.12" fill="#E4726F"/>
<rect x="602.9" y="185.26" width="5.65" height="10.12" fill="#F8DADA"/>
<rect x="607.95" y="185.26" width="5.65" height="10.12" fill="#E4726F"/>
<rect x="613" y="185.26" width="5.65" height="10.12" fill="#3C3F9F"/>
<rect x="618.05" y="185.26" width="5.65" height="10.12" fill="#D4383B"/>
<rect x="623.1" y="185.26" width="5.65" height="10.12" fill="#F0ABAB"/>
<rect x="628.15" y="185.26" width="5.65" height="10.12" fill="#E4726F"/>
<rect x="633.2" y="185.26" width="5.65" height="10.12" fill="#E4726F"/>
<rect x="638.25" y="185.26" width="5.65" height="10.12" fill="#D6D7EC"/>
<rect x="643.3" y="185.26" width="5.65" height="10.12" fill="#666AB7"/>
<rect x="648.35" y="185.26" width="5.65" height="10.12" fill="#3C3F9F"/>
<rect x="653.4" y="185.26" width="5.65" height="10.12" fill="#3C3F9F"/>
<rect x="658.45" y="185.26" width="5.65" height="10.12" fill="#666AB7"/>
<rect x="663.5" y="185.26" width="5.65" height="10.12" fill="#3C3F9F"/>
<rect x="668.55" y="185.26" width="5.65" height="10.12" fill="#3C3F9F"/>
<rect x="673.6" y="185.26" width="5.65" height="10.12" fill="#3C3F9F"/>
<rect x="678.65" y="185.26" width="5.65" height="10.12" fill="#9DA0D3"/>
<rect x="683.7" y="185.26" width="5.65" height="10.12" fill="#9DA0D3"/>
<rect x="688.75" y="185.26" width="5.65" height="10.12" fill="#3C3F9F"/>
<rect x="693.8" y="185.26" width="5.65" height="10.12" fill="#D6D7EC"/>
<rect x="698.85" y="185.26" width="5.05" height="10.12" fill="#3C3F9F"/>
<rect x="532.2" y="194.78" width="5.65" height="10.12" fill="#F8DADA"/>
<rect x="537.25" y="194.78" width="5.65" height="10.12" fill="#D6D7EC"/>
<rect x="542.3" y="194.78" width="5.65" height="10.12" fill="#F8DADA"/>
<rect x="547.35" y="194.78" width="5.65" height="10.12" fill="#FBFBFD"/>
<rect x="552.4" y="194.78" width="5.65" height="10.12" fill="#F0ABAB"/>
<rect x="557.45" y="194.78" width="5.65" height="10.12" fill="#666AB7"/>
<rect x="562.5" y="194.78" width="5.65" height="10.12" fill="#F8DADA"/>
<rect x="567.55" y="194.78" width="5.65" height="10.12" fill="#9DA0D3"/>
<rect x="572.6" y="194.78" width="5.65" height="10.12" fill="#F8DADA"/>
<rect x="577.65" y="194.78" width="5.65" height="10.12" fill="#F8DADA"/>
<rect x="582.7" y="194.78" width="5.65" height="10.12" fill="#F0ABAB"/>
<rect x="587.75" y="194.78" width="5.65" height="10.12" fill="#F0ABAB"/>
<rect x="592.8" y="194.78" width="5.65" height="10.12" fill="#E4726F"/>
<rect x="597.85" y="194.78" width="5.65" height="10.12" fill="#F0ABAB"/>
<rect x="602.9" y="194.78" width="5.65" height="10.12" fill="#FBFBFD"/>
<rect x="607.95" y="194.78" width="5.65" height="10.12" fill="#F0ABAB"/>
<rect x="613" y="194.78" width="5.65" height="10.12" fill="#9DA0D3"/>
<rect x="618.05" y="194.78" width="5.65" height="10.12" fill="#D4383B"/>
<rect x="623.1" y="194.78" width="5.65" height="10.12" fill="#D4383B"/>
<rect x="628.15" y="194.78" width="5.65" height="10.12" fill="#E4726F"/>
<rect x="633.2" y="194.78" width="5.65" height="10.12" fill="#E4726F"/>
<rect x="638.25" y="194.78" width="5.65" height="10.12" fill="#FBFBFD"/>
<rect x="643.3" y="194.78" width="5.65" height="10.12" fill="#9DA0D3"/>
<rect x="648.35" y="194.78" width="5.65" height="10.12" fill="#3C3F9F"/>
<rect x="653.4" y="194.78" width="5.65" height="10.12" fill="#3C3F9F"/>
<rect x="658.45" y="194.78" width="5.65" height="10.12" fill="#666AB7"/>
<rect x="663.5" y="194.78" width="5.65" height="10.12" fill="#3C3F9F"/>
<rect x="668.55" y="194.78" width="5.65" height="10.12" fill="#3C3F9F"/>
<rect x="673.6" y="194.78" width="5.65" height="10.12" fill="#3C3F9F"/>
<rect x="678.65" y="194.78" width="5.65" height="10.12" fill="#666AB7"/>
<rect x="683.7" y="194.78" width="5.65" height="10.12" fill="#F0ABAB"/>
<rect x="688.75" y="194.78" width="5.65" height="10.12" fill="#9DA0D3"/>
<rect x="693.8" y="194.78" width="5.65" height="10.12" fill="#9DA0D3"/>
<rect x="698.85" y="194.78" width="5.05" height="10.12" fill="#9DA0D3"/>
<rect x="532.2" y="204.29" width="5.65" height="10.12" fill="#FBFBFD"/>
<rect x="537.25" y="204.29" width="5.65" height="10.12" fill="#F0ABAB"/>
<rect x="542.3" y="204.29" width="5.65" height="10.12" fill="#9DA0D3"/>
<rect x="547.35" y="204.29" width="5.65" height="10.12" fill="#F0ABAB"/>
<rect x="552.4" y="204.29" width="5.65" height="10.12" fill="#E4726F"/>
<rect x="557.45" y="204.29" width="5.65" height="10.12" fill="#FBFBFD"/>
<rect x="562.5" y="204.29" width="5.65" height="10.12" fill="#9DA0D3"/>
<rect x="567.55" y="204.29" width="5.65" height="10.12" fill="#9DA0D3"/>
<rect x="572.6" y="204.29" width="5.65" height="10.12" fill="#D6D7EC"/>
<rect x="577.65" y="204.29" width="5.65" height="10.12" fill="#D6D7EC"/>
<rect x="582.7" y="204.29" width="5.65" height="10.12" fill="#FBFBFD"/>
<rect x="587.75" y="204.29" width="5.65" height="10.12" fill="#FBFBFD"/>
<rect x="592.8" y="204.29" width="5.65" height="10.12" fill="#D6D7EC"/>
<rect x="597.85" y="204.29" width="5.65" height="10.12" fill="#FBFBFD"/>
<rect x="602.9" y="204.29" width="5.65" height="10.12" fill="#F0ABAB"/>
<rect x="607.95" y="204.29" width="5.65" height="10.12" fill="#D6D7EC"/>
<rect x="613" y="204.29" width="5.65" height="10.12" fill="#F0ABAB"/>
<rect x="618.05" y="204.29" width="5.65" height="10.12" fill="#E4726F"/>
<rect x="623.1" y="204.29" width="5.65" height="10.12" fill="#FBFBFD"/>
<rect x="628.15" y="204.29" width="5.65" height="10.12" fill="#F0ABAB"/>
<rect x="633.2" y="204.29" width="5.65" height="10.12" fill="#FBFBFD"/>
<rect x="638.25" y="204.29" width="5.65" height="10.12" fill="#F0ABAB"/>
<rect x="643.3" y="204.29" width="5.65" height="10.12" fill="#F8DADA"/>
<rect x="648.35" y="204.29" width="5.65" height="10.12" fill="#9DA0D3"/>
<rect x="653.4" y="204.29" width="5.65" height="10.12" fill="#666AB7"/>
<rect x="658.45" y="204.29" width="5.65" height="10.12" fill="#9DA0D3"/>
<rect x="663.5" y="204.29" width="5.65" height="10.12" fill="#9DA0D3"/>
<rect x="668.55" y="204.29" width="5.65" height="10.12" fill="#9DA0D3"/>
<rect x="673.6" y="204.29" width="5.65" height="10.12" fill="#9DA0D3"/>
<rect x="678.65" y="204.29" width="5.65" height="10.12" fill="#9DA0D3"/>
<rect x="683.7" y="204.29" width="5.65" height="10.12" fill="#9DA0D3"/>
<rect x="688.75" y="204.29" width="5.65" height="10.12" fill="#D6D7EC"/>
<rect x="693.8" y="204.29" width="5.65" height="10.12" fill="#666AB7"/>
<rect x="698.85" y="204.29" width="5.05" height="10.12" fill="#666AB7"/>
<rect x="532.2" y="213.81" width="5.65" height="10.12" fill="#F0ABAB"/>
<rect x="537.25" y="213.81" width="5.65" height="10.12" fill="#E4726F"/>
<rect x="542.3" y="213.81" width="5.65" height="10.12" fill="#3C3F9F"/>
<rect x="547.35" y="213.81" width="5.65" height="10.12" fill="#E4726F"/>
<rect x="552.4" y="213.81" width="5.65" height="10.12" fill="#F8DADA"/>
<rect x="557.45" y="213.81" width="5.65" height="10.12" fill="#D6D7EC"/>
<rect x="562.5" y="213.81" width="5.65" height="10.12" fill="#3C3F9F"/>
<rect x="567.55" y="213.81" width="5.65" height="10.12" fill="#F8DADA"/>
<rect x="572.6" y="213.81" width="5.65" height="10.12" fill="#9DA0D3"/>
<rect x="577.65" y="213.81" width="5.65" height="10.12" fill="#9DA0D3"/>
<rect x="582.7" y="213.81" width="5.65" height="10.12" fill="#FBFBFD"/>
<rect x="587.75" y="213.81" width="5.65" height="10.12" fill="#D6D7EC"/>
<rect x="592.8" y="213.81" width="5.65" height="10.12" fill="#F8DADA"/>
<rect x="597.85" y="213.81" width="5.65" height="10.12" fill="#9DA0D3"/>
<rect x="602.9" y="213.81" width="5.65" height="10.12" fill="#D6D7EC"/>
<rect x="607.95" y="213.81" width="5.65" height="10.12" fill="#F0ABAB"/>
<rect x="613" y="213.81" width="5.65" height="10.12" fill="#F8DADA"/>
<rect x="618.05" y="213.81" width="5.65" height="10.12" fill="#E4726F"/>
<rect x="623.1" y="213.81" width="5.65" height="10.12" fill="#E4726F"/>
<rect x="628.15" y="213.81" width="5.65" height="10.12" fill="#D4383B"/>
<rect x="633.2" y="213.81" width="5.65" height="10.12" fill="#FBFBFD"/>
<rect x="638.25" y="213.81" width="5.65" height="10.12" fill="#F0ABAB"/>
<rect x="643.3" y="213.81" width="5.65" height="10.12" fill="#9DA0D3"/>
<rect x="648.35" y="213.81" width="5.65" height="10.12" fill="#3C3F9F"/>
<rect x="653.4" y="213.81" width="5.65" height="10.12" fill="#D6D7EC"/>
<rect x="658.45" y="213.81" width="5.65" height="10.12" fill="#FBFBFD"/>
<rect x="663.5" y="213.81" width="5.65" height="10.12" fill="#666AB7"/>
<rect x="668.55" y="213.81" width="5.65" height="10.12" fill="#F8DADA"/>
<rect x="673.6" y="213.81" width="5.65" height="10.12" fill="#666AB7"/>
<rect x="678.65" y="213.81" width="5.65" height="10.12" fill="#9DA0D3"/>
<rect x="683.7" y="213.81" width="5.65" height="10.12" fill="#FBFBFD"/>
<rect x="688.75" y="213.81" width="5.65" height="10.12" fill="#666AB7"/>
<rect x="693.8" y="213.81" width="5.65" height="10.12" fill="#D6D7EC"/>
<rect x="698.85" y="213.81" width="5.05" height="10.12" fill="#3C3F9F"/>
<rect x="532.2" y="223.32" width="5.65" height="10.12" fill="#FBFBFD"/>
<rect x="537.25" y="223.32" width="5.65" height="10.12" fill="#F8DADA"/>
<rect x="542.3" y="223.32" width="5.65" height="10.12" fill="#F8DADA"/>
<rect x="547.35" y="223.32" width="5.65" height="10.12" fill="#D6D7EC"/>
<rect x="552.4" y="223.32" width="5.65" height="10.12" fill="#FBFBFD"/>
<rect x="557.45" y="223.32" width="5.65" height="10.12" fill="#FBFBFD"/>
<rect x="562.5" y="223.32" width="5.65" height="10.12" fill="#FBFBFD"/>
<rect x="567.55" y="223.32" width="5.65" height="10.12" fill="#FBFBFD"/>
<rect x="572.6" y="223.32" width="5.65" height="10.12" fill="#F8DADA"/>
<rect x="577.65" y="223.32" width="5.65" height="10.12" fill="#FBFBFD"/>
<rect x="582.7" y="223.32" width="5.65" height="10.12" fill="#FBFBFD"/>
<rect x="587.75" y="223.32" width="5.65" height="10.12" fill="#FBFBFD"/>
<rect x="592.8" y="223.32" width="5.65" height="10.12" fill="#F8DADA"/>
<rect x="597.85" y="223.32" width="5.65" height="10.12" fill="#9DA0D3"/>
<rect x="602.9" y="223.32" width="5.65" height="10.12" fill="#9DA0D3"/>
<rect x="607.95" y="223.32" width="5.65" height="10.12" fill="#FBFBFD"/>
<rect x="613" y="223.32" width="5.65" height="10.12" fill="#F8DADA"/>
<rect x="618.05" y="223.32" width="5.65" height="10.12" fill="#F0ABAB"/>
<rect x="623.1" y="223.32" width="5.65" height="10.12" fill="#F8DADA"/>
<rect x="628.15" y="223.32" width="5.65" height="10.12" fill="#F0ABAB"/>
<rect x="633.2" y="223.32" width="5.65" height="10.12" fill="#D6D7EC"/>
<rect x="638.25" y="223.32" width="5.65" height="10.12" fill="#FBFBFD"/>
<rect x="643.3" y="223.32" width="5.65" height="10.12" fill="#FBFBFD"/>
<rect x="648.35" y="223.32" width="5.65" height="10.12" fill="#9DA0D3"/>
<rect x="653.4" y="223.32" width="5.65" height="10.12" fill="#9DA0D3"/>
<rect x="658.45" y="223.32" width="5.65" height="10.12" fill="#666AB7"/>
<rect x="663.5" y="223.32" width="5.65" height="10.12" fill="#9DA0D3"/>
<rect x="668.55" y="223.32" width="5.65" height="10.12" fill="#666AB7"/>
<rect x="673.6" y="223.32" width="5.65" height="10.12" fill="#D6D7EC"/>
<rect x="678.65" y="223.32" width="5.65" height="10.12" fill="#F8DADA"/>
<rect x="683.7" y="223.32" width="5.65" height="10.12" fill="#FBFBFD"/>
<rect x="688.75" y="223.32" width="5.65" height="10.12" fill="#9DA0D3"/>
<rect x="693.8" y="223.32" width="5.65" height="10.12" fill="#666AB7"/>
<rect x="698.85" y="223.32" width="5.05" height="10.12" fill="#FBFBFD"/>
<rect x="532.2" y="232.84" width="5.65" height="10.12" fill="#E4726F"/>
<rect x="537.25" y="232.84" width="5.65" height="10.12" fill="#E4726F"/>
<rect x="542.3" y="232.84" width="5.65" height="10.12" fill="#3C3F9F"/>
<rect x="547.35" y="232.84" width="5.65" height="10.12" fill="#D4383B"/>
<rect x="552.4" y="232.84" width="5.65" height="10.12" fill="#F8DADA"/>
<rect x="557.45" y="232.84" width="5.65" height="10.12" fill="#9DA0D3"/>
<rect x="562.5" y="232.84" width="5.65" height="10.12" fill="#666AB7"/>
<rect x="567.55" y="232.84" width="5.65" height="10.12" fill="#F8DADA"/>
<rect x="572.6" y="232.84" width="5.65" height="10.12" fill="#9DA0D3"/>
<rect x="577.65" y="232.84" width="5.65" height="10.12" fill="#9DA0D3"/>
<rect x="582.7" y="232.84" width="5.65" height="10.12" fill="#666AB7"/>
<rect x="587.75" y="232.84" width="5.65" height="10.12" fill="#E4726F"/>
<rect x="592.8" y="232.84" width="5.65" height="10.12" fill="#9DA0D3"/>
<rect x="597.85" y="232.84" width="5.65" height="10.12" fill="#D6D7EC"/>
<rect x="602.9" y="232.84" width="5.65" height="10.12" fill="#D6D7EC"/>
<rect x="607.95" y="232.84" width="5.65" height="10.12" fill="#F0ABAB"/>
<rect x="613" y="232.84" width="5.65" height="10.12" fill="#F8DADA"/>
<rect x="618.05" y="232.84" width="5.65" height="10.12" fill="#E4726F"/>
<rect x="623.1" y="232.84" width="5.65" height="10.12" fill="#E4726F"/>
<rect x="628.15" y="232.84" width="5.65" height="10.12" fill="#E4726F"/>
<rect x="633.2" y="232.84" width="5.65" height="10.12" fill="#FBFBFD"/>
<rect x="638.25" y="232.84" width="5.65" height="10.12" fill="#F0ABAB"/>
<rect x="643.3" y="232.84" width="5.65" height="10.12" fill="#666AB7"/>
<rect x="648.35" y="232.84" width="5.65" height="10.12" fill="#9DA0D3"/>
<rect x="653.4" y="232.84" width="5.65" height="10.12" fill="#9DA0D3"/>
<rect x="658.45" y="232.84" width="5.65" height="10.12" fill="#F8DADA"/>
<rect x="663.5" y="232.84" width="5.65" height="10.12" fill="#666AB7"/>
<rect x="668.55" y="232.84" width="5.65" height="10.12" fill="#FBFBFD"/>
<rect x="673.6" y="232.84" width="5.65" height="10.12" fill="#666AB7"/>
<rect x="678.65" y="232.84" width="5.65" height="10.12" fill="#9DA0D3"/>
<rect x="683.7" y="232.84" width="5.65" height="10.12" fill="#D6D7EC"/>
<rect x="688.75" y="232.84" width="5.65" height="10.12" fill="#666AB7"/>
<rect x="693.8" y="232.84" width="5.65" height="10.12" fill="#666AB7"/>
<rect x="698.85" y="232.84" width="5.05" height="10.12" fill="#3C3F9F"/>
<rect x="532.2" y="242.36" width="5.65" height="10.12" fill="#F0ABAB"/>
<rect x="537.25" y="242.36" width="5.65" height="10.12" fill="#F0ABAB"/>
<rect x="542.3" y="242.36" width="5.65" height="10.12" fill="#F8DADA"/>
<rect x="547.35" y="242.36" width="5.65" height="10.12" fill="#E4726F"/>
<rect x="552.4" y="242.36" width="5.65" height="10.12" fill="#D6D7EC"/>
<rect x="557.45" y="242.36" width="5.65" height="10.12" fill="#FBFBFD"/>
<rect x="562.5" y="242.36" width="5.65" height="10.12" fill="#9DA0D3"/>
<rect x="567.55" y="242.36" width="5.65" height="10.12" fill="#F8DADA"/>
<rect x="572.6" y="242.36" width="5.65" height="10.12" fill="#9DA0D3"/>
<rect x="577.65" y="242.36" width="5.65" height="10.12" fill="#9DA0D3"/>
<rect x="582.7" y="242.36" width="5.65" height="10.12" fill="#FBFBFD"/>
<rect x="587.75" y="242.36" width="5.65" height="10.12" fill="#E4726F"/>
<rect x="592.8" y="242.36" width="5.65" height="10.12" fill="#9DA0D3"/>
<rect x="597.85" y="242.36" width="5.65" height="10.12" fill="#9DA0D3"/>
<rect x="602.9" y="242.36" width="5.65" height="10.12" fill="#9DA0D3"/>
<rect x="607.95" y="242.36" width="5.65" height="10.12" fill="#F8DADA"/>
<rect x="613" y="242.36" width="5.65" height="10.12" fill="#F8DADA"/>
<rect x="618.05" y="242.36" width="5.65" height="10.12" fill="#F8DADA"/>
<rect x="623.1" y="242.36" width="5.65" height="10.12" fill="#F8DADA"/>
<rect x="628.15" y="242.36" width="5.65" height="10.12" fill="#F8DADA"/>
<rect x="633.2" y="242.36" width="5.65" height="10.12" fill="#666AB7"/>
<rect x="638.25" y="242.36" width="5.65" height="10.12" fill="#F0ABAB"/>
<rect x="643.3" y="242.36" width="5.65" height="10.12" fill="#F8DADA"/>
<rect x="648.35" y="242.36" width="5.65" height="10.12" fill="#FBFBFD"/>
<rect x="653.4" y="242.36" width="5.65" height="10.12" fill="#9DA0D3"/>
<rect x="658.45" y="242.36" width="5.65" height="10.12" fill="#FBFBFD"/>
<rect x="663.5" y="242.36" width="5.65" height="10.12" fill="#666AB7"/>
<rect x="668.55" y="242.36" width="5.65" height="10.12" fill="#FBFBFD"/>
<rect x="673.6" y="242.36" width="5.65" height="10.12" fill="#F8DADA"/>
<rect x="678.65" y="242.36" width="5.65" height="10.12" fill="#3C3F9F"/>
<rect x="683.7" y="242.36" width="5.65" height="10.12" fill="#D6D7EC"/>
<rect x="688.75" y="242.36" width="5.65" height="10.12" fill="#D6D7EC"/>
<rect x="693.8" y="242.36" width="5.65" height="10.12" fill="#666AB7"/>
<rect x="698.85" y="242.36" width="5.05" height="10.12" fill="#666AB7"/>
<rect x="532.2" y="251.87" width="5.65" height="10.12" fill="#F8DADA"/>
<rect x="537.25" y="251.87" width="5.65" height="10.12" fill="#F0ABAB"/>
<rect x="542.3" y="251.87" width="5.65" height="10.12" fill="#9DA0D3"/>
<rect x="547.35" y="251.87" width="5.65" height="10.12" fill="#F8DADA"/>
<rect x="552.4" y="251.87" width="5.65" height="10.12" fill="#FBFBFD"/>
<rect x="557.45" y="251.87" width="5.65" height="10.12" fill="#F0ABAB"/>
<rect x="562.5" y="251.87" width="5.65" height="10.12" fill="#FBFBFD"/>
<rect x="567.55" y="251.87" width="5.65" height="10.12" fill="#FBFBFD"/>
<rect x="572.6" y="251.87" width="5.65" height="10.12" fill="#F8DADA"/>
<rect x="577.65" y="251.87" width="5.65" height="10.12" fill="#D6D7EC"/>
<rect x="582.7" y="251.87" width="5.65" height="10.12" fill="#F0ABAB"/>
<rect x="587.75" y="251.87" width="5.65" height="10.12" fill="#F8DADA"/>
<rect x="592.8" y="251.87" width="5.65" height="10.12" fill="#F0ABAB"/>
<rect x="597.85" y="251.87" width="5.65" height="10.12" fill="#D6D7EC"/>
<rect x="602.9" y="251.87" width="5.65" height="10.12" fill="#D6D7EC"/>
<rect x="607.95" y="251.87" width="5.65" height="10.12" fill="#FBFBFD"/>
<rect x="613" y="251.87" width="5.65" height="10.12" fill="#FBFBFD"/>
<rect x="618.05" y="251.87" width="5.65" height="10.12" fill="#E4726F"/>
<rect x="623.1" y="251.87" width="5.65" height="10.12" fill="#F8DADA"/>
<rect x="628.15" y="251.87" width="5.65" height="10.12" fill="#E4726F"/>
<rect x="633.2" y="251.87" width="5.65" height="10.12" fill="#D6D7EC"/>
<rect x="638.25" y="251.87" width="5.65" height="10.12" fill="#F0ABAB"/>
<rect x="643.3" y="251.87" width="5.65" height="10.12" fill="#D6D7EC"/>
<rect x="648.35" y="251.87" width="5.65" height="10.12" fill="#9DA0D3"/>
<rect x="653.4" y="251.87" width="5.65" height="10.12" fill="#666AB7"/>
<rect x="658.45" y="251.87" width="5.65" height="10.12" fill="#666AB7"/>
<rect x="663.5" y="251.87" width="5.65" height="10.12" fill="#666AB7"/>
<rect x="668.55" y="251.87" width="5.65" height="10.12" fill="#D6D7EC"/>
<rect x="673.6" y="251.87" width="5.65" height="10.12" fill="#666AB7"/>
<rect x="678.65" y="251.87" width="5.65" height="10.12" fill="#9DA0D3"/>
<rect x="683.7" y="251.87" width="5.65" height="10.12" fill="#F8DADA"/>
<rect x="688.75" y="251.87" width="5.65" height="10.12" fill="#D6D7EC"/>
<rect x="693.8" y="251.87" width="5.65" height="10.12" fill="#FBFBFD"/>
<rect x="698.85" y="251.87" width="5.05" height="10.12" fill="#666AB7"/>
<rect x="532.2" y="261.39" width="5.65" height="10.12" fill="#F0ABAB"/>
<rect x="537.25" y="261.39" width="5.65" height="10.12" fill="#E4726F"/>
<rect x="542.3" y="261.39" width="5.65" height="10.12" fill="#666AB7"/>
<rect x="547.35" y="261.39" width="5.65" height="10.12" fill="#E4726F"/>
<rect x="552.4" y="261.39" width="5.65" height="10.12" fill="#E4726F"/>
<rect x="557.45" y="261.39" width="5.65" height="10.12" fill="#FBFBFD"/>
<rect x="562.5" y="261.39" width="5.65" height="10.12" fill="#666AB7"/>
<rect x="567.55" y="261.39" width="5.65" height="10.12" fill="#FBFBFD"/>
<rect x="572.6" y="261.39" width="5.65" height="10.12" fill="#FBFBFD"/>
<rect x="577.65" y="261.39" width="5.65" height="10.12" fill="#9DA0D3"/>
<rect x="582.7" y="261.39" width="5.65" height="10.12" fill="#666AB7"/>
<rect x="587.75" y="261.39" width="5.65" height="10.12" fill="#E4726F"/>
<rect x="592.8" y="261.39" width="5.65" height="10.12" fill="#D6D7EC"/>
<rect x="597.85" y="261.39" width="5.65" height="10.12" fill="#666AB7"/>
<rect x="602.9" y="261.39" width="5.65" height="10.12" fill="#666AB7"/>
<rect x="607.95" y="261.39" width="5.65" height="10.12" fill="#FBFBFD"/>
<rect x="613" y="261.39" width="5.65" height="10.12" fill="#F0ABAB"/>
<rect x="618.05" y="261.39" width="5.65" height="10.12" fill="#F0ABAB"/>
<rect x="623.1" y="261.39" width="5.65" height="10.12" fill="#F0ABAB"/>
<rect x="628.15" y="261.39" width="5.65" height="10.12" fill="#E4726F"/>
<rect x="633.2" y="261.39" width="5.65" height="10.12" fill="#D6D7EC"/>
<rect x="638.25" y="261.39" width="5.65" height="10.12" fill="#F0ABAB"/>
<rect x="643.3" y="261.39" width="5.65" height="10.12" fill="#FBFBFD"/>
<rect x="648.35" y="261.39" width="5.65" height="10.12" fill="#D6D7EC"/>
<rect x="653.4" y="261.39" width="5.65" height="10.12" fill="#666AB7"/>
<rect x="658.45" y="261.39" width="5.65" height="10.12" fill="#666AB7"/>
<rect x="663.5" y="261.39" width="5.65" height="10.12" fill="#9DA0D3"/>
<rect x="668.55" y="261.39" width="5.65" height="10.12" fill="#666AB7"/>
<rect x="673.6" y="261.39" width="5.65" height="10.12" fill="#666AB7"/>
<rect x="678.65" y="261.39" width="5.65" height="10.12" fill="#9DA0D3"/>
<rect x="683.7" y="261.39" width="5.65" height="10.12" fill="#FBFBFD"/>
<rect x="688.75" y="261.39" width="5.65" height="10.12" fill="#9DA0D3"/>
<rect x="693.8" y="261.39" width="5.65" height="10.12" fill="#3C3F9F"/>
<rect x="698.85" y="261.39" width="5.05" height="10.12" fill="#9DA0D3"/>
<rect x="532.2" y="270.91" width="5.65" height="10.12" fill="#F8DADA"/>
<rect x="537.25" y="270.91" width="5.65" height="10.12" fill="#9DA0D3"/>
<rect x="542.3" y="270.91" width="5.65" height="10.12" fill="#9DA0D3"/>
<rect x="547.35" y="270.91" width="5.65" height="10.12" fill="#F8DADA"/>
<rect x="552.4" y="270.91" width="5.65" height="10.12" fill="#E4726F"/>
<rect x="557.45" y="270.91" width="5.65" height="10.12" fill="#9DA0D3"/>
<rect x="562.5" y="270.91" width="5.65" height="10.12" fill="#9DA0D3"/>
<rect x="567.55" y="270.91" width="5.65" height="10.12" fill="#9DA0D3"/>
<rect x="572.6" y="270.91" width="5.65" height="10.12" fill="#9DA0D3"/>
<rect x="577.65" y="270.91" width="5.65" height="10.12" fill="#9DA0D3"/>
<rect x="582.7" y="270.91" width="5.65" height="10.12" fill="#9DA0D3"/>
<rect x="587.75" y="270.91" width="5.65" height="10.12" fill="#9DA0D3"/>
<rect x="592.8" y="270.91" width="5.65" height="10.12" fill="#9DA0D3"/>
<rect x="597.85" y="270.91" width="5.65" height="10.12" fill="#F0ABAB"/>
<rect x="602.9" y="270.91" width="5.65" height="10.12" fill="#F8DADA"/>
<rect x="607.95" y="270.91" width="5.65" height="10.12" fill="#F0ABAB"/>
<rect x="613" y="270.91" width="5.65" height="10.12" fill="#9DA0D3"/>
<rect x="618.05" y="270.91" width="5.65" height="10.12" fill="#E4726F"/>
<rect x="623.1" y="270.91" width="5.65" height="10.12" fill="#F0ABAB"/>
<rect x="628.15" y="270.91" width="5.65" height="10.12" fill="#E4726F"/>
<rect x="633.2" y="270.91" width="5.65" height="10.12" fill="#E4726F"/>
<rect x="638.25" y="270.91" width="5.65" height="10.12" fill="#E4726F"/>
<rect x="643.3" y="270.91" width="5.65" height="10.12" fill="#F0ABAB"/>
<rect x="648.35" y="270.91" width="5.65" height="10.12" fill="#3C3F9F"/>
<rect x="653.4" y="270.91" width="5.65" height="10.12" fill="#666AB7"/>
<rect x="658.45" y="270.91" width="5.65" height="10.12" fill="#F8DADA"/>
<rect x="663.5" y="270.91" width="5.65" height="10.12" fill="#F0ABAB"/>
<rect x="668.55" y="270.91" width="5.65" height="10.12" fill="#3C3F9F"/>
<rect x="673.6" y="270.91" width="5.65" height="10.12" fill="#3C3F9F"/>
<rect x="678.65" y="270.91" width="5.65" height="10.12" fill="#FBFBFD"/>
<rect x="683.7" y="270.91" width="5.65" height="10.12" fill="#9DA0D3"/>
<rect x="688.75" y="270.91" width="5.65" height="10.12" fill="#9DA0D3"/>
<rect x="693.8" y="270.91" width="5.65" height="10.12" fill="#666AB7"/>
<rect x="698.85" y="270.91" width="5.05" height="10.12" fill="#666AB7"/>
<rect x="532.2" y="280.42" width="5.65" height="10.12" fill="#666AB7"/>
<rect x="537.25" y="280.42" width="5.65" height="10.12" fill="#666AB7"/>
<rect x="542.3" y="280.42" width="5.65" height="10.12" fill="#D6D7EC"/>
<rect x="547.35" y="280.42" width="5.65" height="10.12" fill="#FBFBFD"/>
<rect x="552.4" y="280.42" width="5.65" height="10.12" fill="#F8DADA"/>
<rect x="557.45" y="280.42" width="5.65" height="10.12" fill="#9DA0D3"/>
<rect x="562.5" y="280.42" width="5.65" height="10.12" fill="#D6D7EC"/>
<rect x="567.55" y="280.42" width="5.65" height="10.12" fill="#FBFBFD"/>
<rect x="572.6" y="280.42" width="5.65" height="10.12" fill="#D6D7EC"/>
<rect x="577.65" y="280.42" width="5.65" height="10.12" fill="#D6D7EC"/>
<rect x="582.7" y="280.42" width="5.65" height="10.12" fill="#D6D7EC"/>
<rect x="587.75" y="280.42" width="5.65" height="10.12" fill="#9DA0D3"/>
<rect x="592.8" y="280.42" width="5.65" height="10.12" fill="#D6D7EC"/>
<rect x="597.85" y="280.42" width="5.65" height="10.12" fill="#D6D7EC"/>
<rect x="602.9" y="280.42" width="5.65" height="10.12" fill="#F8DADA"/>
<rect x="607.95" y="280.42" width="5.65" height="10.12" fill="#FBFBFD"/>
<rect x="613" y="280.42" width="5.65" height="10.12" fill="#9DA0D3"/>
<rect x="618.05" y="280.42" width="5.65" height="10.12" fill="#3C3F9F"/>
<rect x="623.1" y="280.42" width="5.65" height="10.12" fill="#666AB7"/>
<rect x="628.15" y="280.42" width="5.65" height="10.12" fill="#9DA0D3"/>
<rect x="633.2" y="280.42" width="5.65" height="10.12" fill="#D6D7EC"/>
<rect x="638.25" y="280.42" width="5.65" height="10.12" fill="#D6D7EC"/>
<rect x="643.3" y="280.42" width="5.65" height="10.12" fill="#9DA0D3"/>
<rect x="648.35" y="280.42" width="5.65" height="10.12" fill="#F0ABAB"/>
<rect x="653.4" y="280.42" width="5.65" height="10.12" fill="#FBFBFD"/>
<rect x="658.45" y="280.42" width="5.65" height="10.12" fill="#F0ABAB"/>
<rect x="663.5" y="280.42" width="5.65" height="10.12" fill="#F0ABAB"/>
<rect x="668.55" y="280.42" width="5.65" height="10.12" fill="#F0ABAB"/>
<rect x="673.6" y="280.42" width="5.65" height="10.12" fill="#E4726F"/>
<rect x="678.65" y="280.42" width="5.65" height="10.12" fill="#9DA0D3"/>
<rect x="683.7" y="280.42" width="5.65" height="10.12" fill="#D6D7EC"/>
<rect x="688.75" y="280.42" width="5.65" height="10.12" fill="#F0ABAB"/>
<rect x="693.8" y="280.42" width="5.65" height="10.12" fill="#F0ABAB"/>
<rect x="698.85" y="280.42" width="5.05" height="10.12" fill="#F0ABAB"/>
<rect x="532.2" y="289.94" width="5.65" height="10.12" fill="#9DA0D3"/>
<rect x="537.25" y="289.94" width="5.65" height="10.12" fill="#D6D7EC"/>
<rect x="542.3" y="289.94" width="5.65" height="10.12" fill="#F8DADA"/>
<rect x="547.35" y="289.94" width="5.65" height="10.12" fill="#FBFBFD"/>
<rect x="552.4" y="289.94" width="5.65" height="10.12" fill="#FBFBFD"/>
<rect x="557.45" y="289.94" width="5.65" height="10.12" fill="#F8DADA"/>
<rect x="562.5" y="289.94" width="5.65" height="10.12" fill="#9DA0D3"/>
<rect x="567.55" y="289.94" width="5.65" height="10.12" fill="#D6D7EC"/>
<rect x="572.6" y="289.94" width="5.65" height="10.12" fill="#9DA0D3"/>
<rect x="577.65" y="289.94" width="5.65" height="10.12" fill="#9DA0D3"/>
<rect x="582.7" y="289.94" width="5.65" height="10.12" fill="#9DA0D3"/>
<rect x="587.75" y="289.94" width="5.65" height="10.12" fill="#D6D7EC"/>
<rect x="592.8" y="289.94" width="5.65" height="10.12" fill="#666AB7"/>
<rect x="597.85" y="289.94" width="5.65" height="10.12" fill="#D6D7EC"/>
<rect x="602.9" y="289.94" width="5.65" height="10.12" fill="#F8DADA"/>
<rect x="607.95" y="289.94" width="5.65" height="10.12" fill="#F8DADA"/>
<rect x="613" y="289.94" width="5.65" height="10.12" fill="#9DA0D3"/>
<rect x="618.05" y="289.94" width="5.65" height="10.12" fill="#9DA0D3"/>
<rect x="623.1" y="289.94" width="5.65" height="10.12" fill="#D6D7EC"/>
<rect x="628.15" y="289.94" width="5.65" height="10.12" fill="#FBFBFD"/>
<rect x="633.2" y="289.94" width="5.65" height="10.12" fill="#D6D7EC"/>
<rect x="638.25" y="289.94" width="5.65" height="10.12" fill="#9DA0D3"/>
<rect x="643.3" y="289.94" width="5.65" height="10.12" fill="#FBFBFD"/>
<rect x="648.35" y="289.94" width="5.65" height="10.12" fill="#F0ABAB"/>
<rect x="653.4" y="289.94" width="5.65" height="10.12" fill="#F8DADA"/>
<rect x="658.45" y="289.94" width="5.65" height="10.12" fill="#F0ABAB"/>
<rect x="663.5" y="289.94" width="5.65" height="10.12" fill="#F8DADA"/>
<rect x="668.55" y="289.94" width="5.65" height="10.12" fill="#F0ABAB"/>
<rect x="673.6" y="289.94" width="5.65" height="10.12" fill="#FBFBFD"/>
<rect x="678.65" y="289.94" width="5.65" height="10.12" fill="#F8DADA"/>
<rect x="683.7" y="289.94" width="5.65" height="10.12" fill="#F8DADA"/>
<rect x="688.75" y="289.94" width="5.65" height="10.12" fill="#F0ABAB"/>
<rect x="693.8" y="289.94" width="5.65" height="10.12" fill="#F0ABAB"/>
<rect x="698.85" y="289.94" width="5.05" height="10.12" fill="#FBFBFD"/>
<rect x="532.2" y="299.45" width="5.65" height="10.12" fill="#666AB7"/>
<rect x="537.25" y="299.45" width="5.65" height="10.12" fill="#666AB7"/>
<rect x="542.3" y="299.45" width="5.65" height="10.12" fill="#FBFBFD"/>
<rect x="547.35" y="299.45" width="5.65" height="10.12" fill="#FBFBFD"/>
<rect x="552.4" y="299.45" width="5.65" height="10.12" fill="#FBFBFD"/>
<rect x="557.45" y="299.45" width="5.65" height="10.12" fill="#D6D7EC"/>
<rect x="562.5" y="299.45" width="5.65" height="10.12" fill="#D6D7EC"/>
<rect x="567.55" y="299.45" width="5.65" height="10.12" fill="#D6D7EC"/>
<rect x="572.6" y="299.45" width="5.65" height="10.12" fill="#D6D7EC"/>
<rect x="577.65" y="299.45" width="5.65" height="10.12" fill="#FBFBFD"/>
<rect x="582.7" y="299.45" width="5.65" height="10.12" fill="#D6D7EC"/>
<rect x="587.75" y="299.45" width="5.65" height="10.12" fill="#D6D7EC"/>
<rect x="592.8" y="299.45" width="5.65" height="10.12" fill="#D6D7EC"/>
<rect x="597.85" y="299.45" width="5.65" height="10.12" fill="#9DA0D3"/>
<rect x="602.9" y="299.45" width="5.65" height="10.12" fill="#FBFBFD"/>
<rect x="607.95" y="299.45" width="5.65" height="10.12" fill="#9DA0D3"/>
<rect x="613" y="299.45" width="5.65" height="10.12" fill="#666AB7"/>
<rect x="618.05" y="299.45" width="5.65" height="10.12" fill="#666AB7"/>
<rect x="623.1" y="299.45" width="5.65" height="10.12" fill="#666AB7"/>
<rect x="628.15" y="299.45" width="5.65" height="10.12" fill="#D6D7EC"/>
<rect x="633.2" y="299.45" width="5.65" height="10.12" fill="#D6D7EC"/>
<rect x="638.25" y="299.45" width="5.65" height="10.12" fill="#D6D7EC"/>
<rect x="643.3" y="299.45" width="5.65" height="10.12" fill="#FBFBFD"/>
<rect x="648.35" y="299.45" width="5.65" height="10.12" fill="#E4726F"/>
<rect x="653.4" y="299.45" width="5.65" height="10.12" fill="#D6D7EC"/>
<rect x="658.45" y="299.45" width="5.65" height="10.12" fill="#F0ABAB"/>
<rect x="663.5" y="299.45" width="5.65" height="10.12" fill="#FBFBFD"/>
<rect x="668.55" y="299.45" width="5.65" height="10.12" fill="#F0ABAB"/>
<rect x="673.6" y="299.45" width="5.65" height="10.12" fill="#F0ABAB"/>
<rect x="678.65" y="299.45" width="5.65" height="10.12" fill="#FBFBFD"/>
<rect x="683.7" y="299.45" width="5.65" height="10.12" fill="#FBFBFD"/>
<rect x="688.75" y="299.45" width="5.65" height="10.12" fill="#F0ABAB"/>
<rect x="693.8" y="299.45" width="5.65" height="10.12" fill="#F0ABAB"/>
<rect x="698.85" y="299.45" width="5.05" height="10.12" fill="#F8DADA"/>
<rect x="532.2" y="308.97" width="5.65" height="10.12" fill="#D6D7EC"/>
<rect x="537.25" y="308.97" width="5.65" height="10.12" fill="#F8DADA"/>
<rect x="542.3" y="308.97" width="5.65" height="10.12" fill="#F8DADA"/>
<rect x="547.35" y="308.97" width="5.65" height="10.12" fill="#FBFBFD"/>
<rect x="552.4" y="308.97" width="5.65" height="10.12" fill="#FBFBFD"/>
<rect x="557.45" y="308.97" width="5.65" height="10.12" fill="#D6D7EC"/>
<rect x="562.5" y="308.97" width="5.65" height="10.12" fill="#9DA0D3"/>
<rect x="567.55" y="308.97" width="5.65" height="10.12" fill="#FBFBFD"/>
<rect x="572.6" y="308.97" width="5.65" height="10.12" fill="#666AB7"/>
<rect x="577.65" y="308.97" width="5.65" height="10.12" fill="#666AB7"/>
<rect x="582.7" y="308.97" width="5.65" height="10.12" fill="#9DA0D3"/>
<rect x="587.75" y="308.97" width="5.65" height="10.12" fill="#9DA0D3"/>
<rect x="592.8" y="308.97" width="5.65" height="10.12" fill="#9DA0D3"/>
<rect x="597.85" y="308.97" width="5.65" height="10.12" fill="#FBFBFD"/>
<rect x="602.9" y="308.97" width="5.65" height="10.12" fill="#F0ABAB"/>
<rect x="607.95" y="308.97" width="5.65" height="10.12" fill="#D6D7EC"/>
<rect x="613" y="308.97" width="5.65" height="10.12" fill="#FBFBFD"/>
<rect x="618.05" y="308.97" width="5.65" height="10.12" fill="#666AB7"/>
<rect x="623.1" y="308.97" width="5.65" height="10.12" fill="#9DA0D3"/>
<rect x="628.15" y="308.97" width="5.65" height="10.12" fill="#9DA0D3"/>
<rect x="633.2" y="308.97" width="5.65" height="10.12" fill="#D6D7EC"/>
<rect x="638.25" y="308.97" width="5.65" height="10.12" fill="#FBFBFD"/>
<rect x="643.3" y="308.97" width="5.65" height="10.12" fill="#D6D7EC"/>
<rect x="648.35" y="308.97" width="5.65" height="10.12" fill="#F0ABAB"/>
<rect x="653.4" y="308.97" width="5.65" height="10.12" fill="#F8DADA"/>
<rect x="658.45" y="308.97" width="5.65" height="10.12" fill="#FBFBFD"/>
<rect x="663.5" y="308.97" width="5.65" height="10.12" fill="#FBFBFD"/>
<rect x="668.55" y="308.97" width="5.65" height="10.12" fill="#F8DADA"/>
<rect x="673.6" y="308.97" width="5.65" height="10.12" fill="#F0ABAB"/>
<rect x="678.65" y="308.97" width="5.65" height="10.12" fill="#F8DADA"/>
<rect x="683.7" y="308.97" width="5.65" height="10.12" fill="#D6D7EC"/>
<rect x="688.75" y="308.97" width="5.65" height="10.12" fill="#F8DADA"/>
<rect x="693.8" y="308.97" width="5.65" height="10.12" fill="#F8DADA"/>
<rect x="698.85" y="308.97" width="5.05" height="10.12" fill="#F0ABAB"/>
<rect x="532.2" y="318.49" width="5.65" height="10.12" fill="#FBFBFD"/>
<rect x="537.25" y="318.49" width="5.65" height="10.12" fill="#F0ABAB"/>
<rect x="542.3" y="318.49" width="5.65" height="10.12" fill="#D6D7EC"/>
<rect x="547.35" y="318.49" width="5.65" height="10.12" fill="#3C3F9F"/>
<rect x="552.4" y="318.49" width="5.65" height="10.12" fill="#3C3F9F"/>
<rect x="557.45" y="318.49" width="5.65" height="10.12" fill="#F8DADA"/>
<rect x="562.5" y="318.49" width="5.65" height="10.12" fill="#9DA0D3"/>
<rect x="567.55" y="318.49" width="5.65" height="10.12" fill="#E4726F"/>
<rect x="572.6" y="318.49" width="5.65" height="10.12" fill="#9DA0D3"/>
<rect x="577.65" y="318.49" width="5.65" height="10.12" fill="#9DA0D3"/>
<rect x="582.7" y="318.49" width="5.65" height="10.12" fill="#FBFBFD"/>
<rect x="587.75" y="318.49" width="5.65" height="10.12" fill="#FBFBFD"/>
<rect x="592.8" y="318.49" width="5.65" height="10.12" fill="#FBFBFD"/>
<rect x="597.85" y="318.49" width="5.65" height="10.12" fill="#F8DADA"/>
<rect x="602.9" y="318.49" width="5.65" height="10.12" fill="#666AB7"/>
<rect x="607.95" y="318.49" width="5.65" height="10.12" fill="#FBFBFD"/>
<rect x="613" y="318.49" width="5.65" height="10.12" fill="#FBFBFD"/>
<rect x="618.05" y="318.49" width="5.65" height="10.12" fill="#9DA0D3"/>
<rect x="623.1" y="318.49" width="5.65" height="10.12" fill="#3C3F9F"/>
<rect x="628.15" y="318.49" width="5.65" height="10.12" fill="#666AB7"/>
<rect x="633.2" y="318.49" width="5.65" height="10.12" fill="#3C3F9F"/>
<rect x="638.25" y="318.49" width="5.65" height="10.12" fill="#9DA0D3"/>
<rect x="643.3" y="318.49" width="5.65" height="10.12" fill="#D6D7EC"/>
<rect x="648.35" y="318.49" width="5.65" height="10.12" fill="#E4726F"/>
<rect x="653.4" y="318.49" width="5.65" height="10.12" fill="#E4726F"/>
<rect x="658.45" y="318.49" width="5.65" height="10.12" fill="#D6D7EC"/>
<rect x="663.5" y="318.49" width="5.65" height="10.12" fill="#F0ABAB"/>
<rect x="668.55" y="318.49" width="5.65" height="10.12" fill="#E4726F"/>
<rect x="673.6" y="318.49" width="5.65" height="10.12" fill="#D4383B"/>
<rect x="678.65" y="318.49" width="5.65" height="10.12" fill="#F0ABAB"/>
<rect x="683.7" y="318.49" width="5.65" height="10.12" fill="#666AB7"/>
<rect x="688.75" y="318.49" width="5.65" height="10.12" fill="#F8DADA"/>
<rect x="693.8" y="318.49" width="5.65" height="10.12" fill="#F0ABAB"/>
<rect x="698.85" y="318.49" width="5.05" height="10.12" fill="#FBFBFD"/>
<rect x="532.2" y="328" width="5.65" height="10.12" fill="#3C3F9F"/>
<rect x="537.25" y="328" width="5.65" height="10.12" fill="#3C3F9F"/>
<rect x="542.3" y="328" width="5.65" height="10.12" fill="#D6D7EC"/>
<rect x="547.35" y="328" width="5.65" height="10.12" fill="#E4726F"/>
<rect x="552.4" y="328" width="5.65" height="10.12" fill="#F0ABAB"/>
<rect x="557.45" y="328" width="5.65" height="10.12" fill="#F8DADA"/>
<rect x="562.5" y="328" width="5.65" height="10.12" fill="#3C3F9F"/>
<rect x="567.55" y="328" width="5.65" height="10.12" fill="#D6D7EC"/>
<rect x="572.6" y="328" width="5.65" height="10.12" fill="#3C3F9F"/>
<rect x="577.65" y="328" width="5.65" height="10.12" fill="#3C3F9F"/>
<rect x="582.7" y="328" width="5.65" height="10.12" fill="#666AB7"/>
<rect x="587.75" y="328" width="5.65" height="10.12" fill="#3C3F9F"/>
<rect x="592.8" y="328" width="5.65" height="10.12" fill="#9DA0D3"/>
<rect x="597.85" y="328" width="5.65" height="10.12" fill="#9DA0D3"/>
<rect x="602.9" y="328" width="5.65" height="10.12" fill="#F0ABAB"/>
<rect x="607.95" y="328" width="5.65" height="10.12" fill="#FBFBFD"/>
<rect x="613" y="328" width="5.65" height="10.12" fill="#3C3F9F"/>
<rect x="618.05" y="328" width="5.65" height="10.12" fill="#3C3F9F"/>
<rect x="623.1" y="328" width="5.65" height="10.12" fill="#666AB7"/>
<rect x="628.15" y="328" width="5.65" height="10.12" fill="#9DA0D3"/>
<rect x="633.2" y="328" width="5.65" height="10.12" fill="#F0ABAB"/>
<rect x="638.25" y="328" width="5.65" height="10.12" fill="#FBFBFD"/>
<rect x="643.3" y="328" width="5.65" height="10.12" fill="#FBFBFD"/>
<rect x="648.35" y="328" width="5.65" height="10.12" fill="#E4726F"/>
<rect x="653.4" y="328" width="5.65" height="10.12" fill="#666AB7"/>
<rect x="658.45" y="328" width="5.65" height="10.12" fill="#D4383B"/>
<rect x="663.5" y="328" width="5.65" height="10.12" fill="#E4726F"/>
<rect x="668.55" y="328" width="5.65" height="10.12" fill="#E4726F"/>
<rect x="673.6" y="328" width="5.65" height="10.12" fill="#E4726F"/>
<rect x="678.65" y="328" width="5.65" height="10.12" fill="#666AB7"/>
<rect x="683.7" y="328" width="5.65" height="10.12" fill="#9DA0D3"/>
<rect x="688.75" y="328" width="5.65" height="10.12" fill="#F0ABAB"/>
<rect x="693.8" y="328" width="5.65" height="10.12" fill="#E4726F"/>
<rect x="698.85" y="328" width="5.05" height="10.12" fill="#E4726F"/>
<rect x="532.2" y="337.52" width="5.65" height="10.12" fill="#666AB7"/>
<rect x="537.25" y="337.52" width="5.65" height="10.12" fill="#666AB7"/>
<rect x="542.3" y="337.52" width="5.65" height="10.12" fill="#FBFBFD"/>
<rect x="547.35" y="337.52" width="5.65" height="10.12" fill="#E4726F"/>
<rect x="552.4" y="337.52" width="5.65" height="10.12" fill="#F0ABAB"/>
<rect x="557.45" y="337.52" width="5.65" height="10.12" fill="#F8DADA"/>
<rect x="562.5" y="337.52" width="5.65" height="10.12" fill="#666AB7"/>
<rect x="567.55" y="337.52" width="5.65" height="10.12" fill="#FBFBFD"/>
<rect x="572.6" y="337.52" width="5.65" height="10.12" fill="#666AB7"/>
<rect x="577.65" y="337.52" width="5.65" height="10.12" fill="#9DA0D3"/>
<rect x="582.7" y="337.52" width="5.65" height="10.12" fill="#FBFBFD"/>
<rect x="587.75" y="337.52" width="5.65" height="10.12" fill="#3C3F9F"/>
<rect x="592.8" y="337.52" width="5.65" height="10.12" fill="#D6D7EC"/>
<rect x="597.85" y="337.52" width="5.65" height="10.12" fill="#9DA0D3"/>
<rect x="602.9" y="337.52" width="5.65" height="10.12" fill="#F8DADA"/>
<rect x="607.95" y="337.52" width="5.65" height="10.12" fill="#F8DADA"/>
<rect x="613" y="337.52" width="5.65" height="10.12" fill="#3C3F9F"/>
<rect x="618.05" y="337.52" width="5.65" height="10.12" fill="#3C3F9F"/>
<rect x="623.1" y="337.52" width="5.65" height="10.12" fill="#666AB7"/>
<rect x="628.15" y="337.52" width="5.65" height="10.12" fill="#666AB7"/>
<rect x="633.2" y="337.52" width="5.65" height="10.12" fill="#FBFBFD"/>
<rect x="638.25" y="337.52" width="5.65" height="10.12" fill="#D6D7EC"/>
<rect x="643.3" y="337.52" width="5.65" height="10.12" fill="#FBFBFD"/>
<rect x="648.35" y="337.52" width="5.65" height="10.12" fill="#F8DADA"/>
<rect x="653.4" y="337.52" width="5.65" height="10.12" fill="#D6D7EC"/>
<rect x="658.45" y="337.52" width="5.65" height="10.12" fill="#E4726F"/>
<rect x="663.5" y="337.52" width="5.65" height="10.12" fill="#F8DADA"/>
<rect x="668.55" y="337.52" width="5.65" height="10.12" fill="#E4726F"/>
<rect x="673.6" y="337.52" width="5.65" height="10.12" fill="#F0ABAB"/>
<rect x="678.65" y="337.52" width="5.65" height="10.12" fill="#FBFBFD"/>
<rect x="683.7" y="337.52" width="5.65" height="10.12" fill="#9DA0D3"/>
<rect x="688.75" y="337.52" width="5.65" height="10.12" fill="#F8DADA"/>
<rect x="693.8" y="337.52" width="5.65" height="10.12" fill="#F8DADA"/>
<rect x="698.85" y="337.52" width="5.05" height="10.12" fill="#F0ABAB"/>
<rect x="532.2" y="347.04" width="5.65" height="10.12" fill="#FBFBFD"/>
<rect x="537.25" y="347.04" width="5.65" height="10.12" fill="#F8DADA"/>
<rect x="542.3" y="347.04" width="5.65" height="10.12" fill="#9DA0D3"/>
<rect x="547.35" y="347.04" width="5.65" height="10.12" fill="#9DA0D3"/>
<rect x="552.4" y="347.04" width="5.65" height="10.12" fill="#D6D7EC"/>
<rect x="557.45" y="347.04" width="5.65" height="10.12" fill="#9DA0D3"/>
<rect x="562.5" y="347.04" width="5.65" height="10.12" fill="#9DA0D3"/>
<rect x="567.55" y="347.04" width="5.65" height="10.12" fill="#F0ABAB"/>
<rect x="572.6" y="347.04" width="5.65" height="10.12" fill="#FBFBFD"/>
<rect x="577.65" y="347.04" width="5.65" height="10.12" fill="#666AB7"/>
<rect x="582.7" y="347.04" width="5.65" height="10.12" fill="#D6D7EC"/>
<rect x="587.75" y="347.04" width="5.65" height="10.12" fill="#F8DADA"/>
<rect x="592.8" y="347.04" width="5.65" height="10.12" fill="#D6D7EC"/>
<rect x="597.85" y="347.04" width="5.65" height="10.12" fill="#F8DADA"/>
<rect x="602.9" y="347.04" width="5.65" height="10.12" fill="#FBFBFD"/>
<rect x="607.95" y="347.04" width="5.65" height="10.12" fill="#666AB7"/>
<rect x="613" y="347.04" width="5.65" height="10.12" fill="#F8DADA"/>
<rect x="618.05" y="347.04" width="5.65" height="10.12" fill="#F8DADA"/>
<rect x="623.1" y="347.04" width="5.65" height="10.12" fill="#9DA0D3"/>
<rect x="628.15" y="347.04" width="5.65" height="10.12" fill="#FBFBFD"/>
<rect x="633.2" y="347.04" width="5.65" height="10.12" fill="#9DA0D3"/>
<rect x="638.25" y="347.04" width="5.65" height="10.12" fill="#9DA0D3"/>
<rect x="643.3" y="347.04" width="5.65" height="10.12" fill="#9DA0D3"/>
<rect x="648.35" y="347.04" width="5.65" height="10.12" fill="#F8DADA"/>
<rect x="653.4" y="347.04" width="5.65" height="10.12" fill="#E4726F"/>
<rect x="658.45" y="347.04" width="5.65" height="10.12" fill="#D6D7EC"/>
<rect x="663.5" y="347.04" width="5.65" height="10.12" fill="#E4726F"/>
<rect x="668.55" y="347.04" width="5.65" height="10.12" fill="#D6D7EC"/>
<rect x="673.6" y="347.04" width="5.65" height="10.12" fill="#E4726F"/>
<rect x="678.65" y="347.04" width="5.65" height="10.12" fill="#FBFBFD"/>
<rect x="683.7" y="347.04" width="5.65" height="10.12" fill="#D6D7EC"/>
<rect x="688.75" y="347.04" width="5.65" height="10.12" fill="#F8DADA"/>
<rect x="693.8" y="347.04" width="5.65" height="10.12" fill="#FBFBFD"/>
<rect x="698.85" y="347.04" width="5.05" height="10.12" fill="#F0ABAB"/>
<rect x="532.2" y="356.55" width="5.65" height="10.12" fill="#666AB7"/>
<rect x="537.25" y="356.55" width="5.65" height="10.12" fill="#666AB7"/>
<rect x="542.3" y="356.55" width="5.65" height="10.12" fill="#D6D7EC"/>
<rect x="547.35" y="356.55" width="5.65" height="10.12" fill="#E4726F"/>
<rect x="552.4" y="356.55" width="5.65" height="10.12" fill="#E4726F"/>
<rect x="557.45" y="356.55" width="5.65" height="10.12" fill="#FBFBFD"/>
<rect x="562.5" y="356.55" width="5.65" height="10.12" fill="#666AB7"/>
<rect x="567.55" y="356.55" width="5.65" height="10.12" fill="#3C3F9F"/>
<rect x="572.6" y="356.55" width="5.65" height="10.12" fill="#666AB7"/>
<rect x="577.65" y="356.55" width="5.65" height="10.12" fill="#9DA0D3"/>
<rect x="582.7" y="356.55" width="5.65" height="10.12" fill="#9DA0D3"/>
<rect x="587.75" y="356.55" width="5.65" height="10.12" fill="#3C3F9F"/>
<rect x="592.8" y="356.55" width="5.65" height="10.12" fill="#9DA0D3"/>
<rect x="597.85" y="356.55" width="5.65" height="10.12" fill="#D6D7EC"/>
<rect x="602.9" y="356.55" width="5.65" height="10.12" fill="#FBFBFD"/>
<rect x="607.95" y="356.55" width="5.65" height="10.12" fill="#9DA0D3"/>
<rect x="613" y="356.55" width="5.65" height="10.12" fill="#3C3F9F"/>
<rect x="618.05" y="356.55" width="5.65" height="10.12" fill="#3C3F9F"/>
<rect x="623.1" y="356.55" width="5.65" height="10.12" fill="#D6D7EC"/>
<rect x="628.15" y="356.55" width="5.65" height="10.12" fill="#D6D7EC"/>
<rect x="633.2" y="356.55" width="5.65" height="10.12" fill="#E4726F"/>
<rect x="638.25" y="356.55" width="5.65" height="10.12" fill="#666AB7"/>
<rect x="643.3" y="356.55" width="5.65" height="10.12" fill="#F0ABAB"/>
<rect x="648.35" y="356.55" width="5.65" height="10.12" fill="#F0ABAB"/>
<rect x="653.4" y="356.55" width="5.65" height="10.12" fill="#3C3F9F"/>
<rect x="658.45" y="356.55" width="5.65" height="10.12" fill="#E4726F"/>
<rect x="663.5" y="356.55" width="5.65" height="10.12" fill="#E4726F"/>
<rect x="668.55" y="356.55" width="5.65" height="10.12" fill="#F0ABAB"/>
<rect x="673.6" y="356.55" width="5.65" height="10.12" fill="#FBFBFD"/>
<rect x="678.65" y="356.55" width="5.65" height="10.12" fill="#F8DADA"/>
<rect x="683.7" y="356.55" width="5.65" height="10.12" fill="#D6D7EC"/>
<rect x="688.75" y="356.55" width="5.65" height="10.12" fill="#F0ABAB"/>
<rect x="693.8" y="356.55" width="5.65" height="10.12" fill="#E4726F"/>
<rect x="698.85" y="356.55" width="5.05" height="10.12" fill="#F0ABAB"/>
<rect x="532.2" y="366.07" width="5.65" height="10.12" fill="#3C3F9F"/>
<rect x="537.25" y="366.07" width="5.65" height="10.12" fill="#666AB7"/>
<rect x="542.3" y="366.07" width="5.65" height="10.12" fill="#9DA0D3"/>
<rect x="547.35" y="366.07" width="5.65" height="10.12" fill="#E4726F"/>
<rect x="552.4" y="366.07" width="5.65" height="10.12" fill="#F0ABAB"/>
<rect x="557.45" y="366.07" width="5.65" height="10.12" fill="#F8DADA"/>
<rect x="562.5" y="366.07" width="5.65" height="10.12" fill="#3C3F9F"/>
<rect x="567.55" y="366.07" width="5.65" height="10.12" fill="#3C3F9F"/>
<rect x="572.6" y="366.07" width="5.65" height="10.12" fill="#3C3F9F"/>
<rect x="577.65" y="366.07" width="5.65" height="10.12" fill="#666AB7"/>
<rect x="582.7" y="366.07" width="5.65" height="10.12" fill="#666AB7"/>
<rect x="587.75" y="366.07" width="5.65" height="10.12" fill="#3C3F9F"/>
<rect x="592.8" y="366.07" width="5.65" height="10.12" fill="#666AB7"/>
<rect x="597.85" y="366.07" width="5.65" height="10.12" fill="#666AB7"/>
<rect x="602.9" y="366.07" width="5.65" height="10.12" fill="#E4726F"/>
<rect x="607.95" y="366.07" width="5.65" height="10.12" fill="#FBFBFD"/>
<rect x="613" y="366.07" width="5.65" height="10.12" fill="#3C3F9F"/>
<rect x="618.05" y="366.07" width="5.65" height="10.12" fill="#3C3F9F"/>
<rect x="623.1" y="366.07" width="5.65" height="10.12" fill="#666AB7"/>
<rect x="628.15" y="366.07" width="5.65" height="10.12" fill="#666AB7"/>
<rect x="633.2" y="366.07" width="5.65" height="10.12" fill="#FBFBFD"/>
<rect x="638.25" y="366.07" width="5.65" height="10.12" fill="#F0ABAB"/>
<rect x="643.3" y="366.07" width="5.65" height="10.12" fill="#F0ABAB"/>
<rect x="648.35" y="366.07" width="5.65" height="10.12" fill="#E4726F"/>
<rect x="653.4" y="366.07" width="5.65" height="10.12" fill="#9DA0D3"/>
<rect x="658.45" y="366.07" width="5.65" height="10.12" fill="#D4383B"/>
<rect x="663.5" y="366.07" width="5.65" height="10.12" fill="#E4726F"/>
<rect x="668.55" y="366.07" width="5.65" height="10.12" fill="#E4726F"/>
<rect x="673.6" y="366.07" width="5.65" height="10.12" fill="#E4726F"/>
<rect x="678.65" y="366.07" width="5.65" height="10.12" fill="#666AB7"/>
<rect x="683.7" y="366.07" width="5.65" height="10.12" fill="#D6D7EC"/>
<rect x="688.75" y="366.07" width="5.65" height="10.12" fill="#F0ABAB"/>
<rect x="693.8" y="366.07" width="5.65" height="10.12" fill="#E4726F"/>
<rect x="698.85" y="366.07" width="5.05" height="10.12" fill="#E4726F"/>
<rect x="532.2" y="375.58" width="5.65" height="9.52" fill="#3C3F9F"/>
<rect x="537.25" y="375.58" width="5.65" height="9.52" fill="#666AB7"/>
<rect x="542.3" y="375.58" width="5.65" height="9.52" fill="#9DA0D3"/>
<rect x="547.35" y="375.58" width="5.65" height="9.52" fill="#F0ABAB"/>
<rect x="552.4" y="375.58" width="5.65" height="9.52" fill="#F0ABAB"/>
<rect x="557.45" y="375.58" width="5.65" height="9.52" fill="#D6D7EC"/>
<rect x="562.5" y="375.58" width="5.65" height="9.52" fill="#666AB7"/>
<rect x="567.55" y="375.58" width="5.65" height="9.52" fill="#D6D7EC"/>
<rect x="572.6" y="375.58" width="5.65" height="9.52" fill="#666AB7"/>
<rect x="577.65" y="375.58" width="5.65" height="9.52" fill="#9DA0D3"/>
<rect x="582.7" y="375.58" width="5.65" height="9.52" fill="#9DA0D3"/>
<rect x="587.75" y="375.58" width="5.65" height="9.52" fill="#666AB7"/>
<rect x="592.8" y="375.58" width="5.65" height="9.52" fill="#9DA0D3"/>
<rect x="597.85" y="375.58" width="5.65" height="9.52" fill="#9DA0D3"/>
<rect x="602.9" y="375.58" width="5.65" height="9.52" fill="#E4726F"/>
<rect x="607.95" y="375.58" width="5.65" height="9.52" fill="#D6D7EC"/>
<rect x="613" y="375.58" width="5.65" height="9.52" fill="#666AB7"/>
<rect x="618.05" y="375.58" width="5.65" height="9.52" fill="#3C3F9F"/>
<rect x="623.1" y="375.58" width="5.65" height="9.52" fill="#9DA0D3"/>
<rect x="628.15" y="375.58" width="5.65" height="9.52" fill="#9DA0D3"/>
<rect x="633.2" y="375.58" width="5.65" height="9.52" fill="#F8DADA"/>
<rect x="638.25" y="375.58" width="5.65" height="9.52" fill="#D6D7EC"/>
<rect x="643.3" y="375.58" width="5.65" height="9.52" fill="#FBFBFD"/>
<rect x="648.35" y="375.58" width="5.65" height="9.52" fill="#F0ABAB"/>
<rect x="653.4" y="375.58" width="5.65" height="9.52" fill="#9DA0D3"/>
<rect x="658.45" y="375.58" width="5.65" height="9.52" fill="#E4726F"/>
<rect x="663.5" y="375.58" width="5.65" height="9.52" fill="#F0ABAB"/>
<rect x="668.55" y="375.58" width="5.65" height="9.52" fill="#F0ABAB"/>
<rect x="673.6" y="375.58" width="5.65" height="9.52" fill="#E4726F"/>
<rect x="678.65" y="375.58" width="5.65" height="9.52" fill="#F8DADA"/>
<rect x="683.7" y="375.58" width="5.65" height="9.52" fill="#F8DADA"/>
<rect x="688.75" y="375.58" width="5.65" height="9.52" fill="#E4726F"/>
<rect x="693.8" y="375.58" width="5.65" height="9.52" fill="#E4726F"/>
<rect x="698.85" y="375.58" width="5.05" height="9.52" fill="#E4726F"/>
<rect x="532.2" y="21.3" width="116.7" height="8.5" fill="#EF6B2B"/>
<rect x="648.9" y="21.3" width="55" height="8.5" fill="#C89DCC"/>
<text x="548" y="13.2" font-size="16" fill="#231F20" textLength="74" lengthAdjust="spacingAndGlyphs">Cluster 1</text>
<text x="636.3" y="13.2" font-size="16" fill="#231F20" textLength="75" lengthAdjust="spacingAndGlyphs">Cluster 2</text>
<rect x="519" y="34" width="4.6" height="241.6" fill="#5DB548"/>
<rect x="519" y="278.7" width="4.6" height="106.7" fill="#E8826E"/>
<text x="721.3" y="81" font-size="22.4" fill="#231F20">Cell migration</text>
<text x="721.3" y="116" font-size="22.4" fill="#231F20">KRAS targets</text>
<text x="721.3" y="205.6" font-size="22.4" fill="#231F20">GBM mesenchymal</text>
<text x="721.3" y="230.7" font-size="22.4" fill="#231F20">Epithelial-to-mesenchymal</text>
<text x="721.3" y="256.7" font-size="22.4" fill="#231F20">transition</text>
<text x="721.3" y="294.4" font-size="22.4" fill="#231F20">Embryonic stem cell</text>
<text x="721.3" y="330.5" font-size="22.4" fill="#231F20">GBM proneural</text>
<text x="721.3" y="386.7" font-size="22.4" fill="#231F20">MYC targets</text>
<line x1="706.6" y1="84.1" x2="717.2" y2="74.4" stroke="#231F20" stroke-width="1.4"/>
<line x1="706.6" y1="95.7" x2="717.2" y2="106.7" stroke="#231F20" stroke-width="1.4"/>
<line x1="707" y1="199.3" x2="717" y2="199.3" stroke="#231F20" stroke-width="1.4"/>
<line x1="707.2" y1="210.9" x2="718.2" y2="222.2" stroke="#231F20" stroke-width="1.4"/>
<line x1="707" y1="285.6" x2="717" y2="285.6" stroke="#231F20" stroke-width="1.4"/>
<line x1="707" y1="321.7" x2="717" y2="321.7" stroke="#231F20" stroke-width="1.4"/>
<line x1="707" y1="378.8" x2="717" y2="378.8" stroke="#231F20" stroke-width="1.4"/>
<rect x="533.7" y="399.5" width="3.19" height="10" fill="#2F2F87"/>
<rect x="536.49" y="399.5" width="3.19" height="10" fill="#31318B"/>
<rect x="539.28" y="399.5" width="3.19" height="10" fill="#32338E"/>
<rect x="542.07" y="399.5" width="3.19" height="10" fill="#343592"/>
<rect x="544.85" y="399.5" width="3.19" height="10" fill="#363796"/>
<rect x="547.64" y="399.5" width="3.19" height="10" fill="#37399A"/>
<rect x="550.43" y="399.5" width="3.19" height="10" fill="#393C9D"/>
<rect x="553.22" y="399.5" width="3.19" height="10" fill="#3D40A1"/>
<rect x="556.01" y="399.5" width="3.19" height="10" fill="#4548A5"/>
<rect x="558.8" y="399.5" width="3.19" height="10" fill="#4D50AA"/>
<rect x="561.58" y="399.5" width="3.19" height="10" fill="#5558AE"/>
<rect x="564.37" y="399.5" width="3.19" height="10" fill="#5D60B2"/>
<rect x="567.16" y="399.5" width="3.19" height="10" fill="#6568B6"/>
<rect x="569.95" y="399.5" width="3.19" height="10" fill="#6D70BA"/>
<rect x="572.74" y="399.5" width="3.19" height="10" fill="#7578BE"/>
<rect x="575.52" y="399.5" width="3.19" height="10" fill="#7D80C3"/>
<rect x="578.31" y="399.5" width="3.19" height="10" fill="#8588C7"/>
<rect x="581.1" y="399.5" width="3.19" height="10" fill="#8D90CB"/>
<rect x="583.89" y="399.5" width="3.19" height="10" fill="#9699CF"/>
<rect x="586.68" y="399.5" width="3.19" height="10" fill="#9FA2D3"/>
<rect x="589.47" y="399.5" width="3.19" height="10" fill="#A8AAD7"/>
<rect x="592.25" y="399.5" width="3.19" height="10" fill="#B1B3DC"/>
<rect x="595.04" y="399.5" width="3.19" height="10" fill="#BABCE0"/>
<rect x="597.83" y="399.5" width="3.19" height="10" fill="#C4C5E4"/>
<rect x="600.62" y="399.5" width="3.19" height="10" fill="#CDCEE8"/>
<rect x="603.41" y="399.5" width="3.19" height="10" fill="#D6D7EC"/>
<rect x="606.2" y="399.5" width="3.19" height="10" fill="#DFE0F0"/>
<rect x="608.99" y="399.5" width="3.19" height="10" fill="#E8E9F5"/>
<rect x="611.77" y="399.5" width="3.19" height="10" fill="#F1F2F9"/>
<rect x="614.56" y="399.5" width="3.19" height="10" fill="#FAFBFD"/>
<rect x="617.35" y="399.5" width="3.19" height="10" fill="#FEFBFB"/>
<rect x="620.14" y="399.5" width="3.19" height="10" fill="#FDF3F3"/>
<rect x="622.93" y="399.5" width="3.19" height="10" fill="#FBEBEB"/>
<rect x="625.72" y="399.5" width="3.19" height="10" fill="#FAE3E3"/>
<rect x="628.5" y="399.5" width="3.19" height="10" fill="#F8DBDB"/>
<rect x="631.29" y="399.5" width="3.19" height="10" fill="#F7D3D3"/>
<rect x="634.08" y="399.5" width="3.19" height="10" fill="#F5CBCB"/>
<rect x="636.87" y="399.5" width="3.19" height="10" fill="#F4C3C3"/>
<rect x="639.66" y="399.5" width="3.19" height="10" fill="#F3BBBB"/>
<rect x="642.45" y="399.5" width="3.19" height="10" fill="#F1B3B3"/>
<rect x="645.23" y="399.5" width="3.19" height="10" fill="#F0ACAC"/>
<rect x="648.02" y="399.5" width="3.19" height="10" fill="#EEA5A5"/>
<rect x="650.81" y="399.5" width="3.19" height="10" fill="#ED9D9D"/>
<rect x="653.6" y="399.5" width="3.19" height="10" fill="#EB9696"/>
<rect x="656.39" y="399.5" width="3.19" height="10" fill="#E98E8E"/>
<rect x="659.17" y="399.5" width="3.19" height="10" fill="#E88787"/>
<rect x="661.96" y="399.5" width="3.19" height="10" fill="#E68080"/>
<rect x="664.75" y="399.5" width="3.19" height="10" fill="#E57878"/>
<rect x="667.54" y="399.5" width="3.19" height="10" fill="#E37171"/>
<rect x="670.33" y="399.5" width="3.19" height="10" fill="#E26A6A"/>
<rect x="673.12" y="399.5" width="3.19" height="10" fill="#E06263"/>
<rect x="675.9" y="399.5" width="3.19" height="10" fill="#DF5B5D"/>
<rect x="678.69" y="399.5" width="3.19" height="10" fill="#DE5456"/>
<rect x="681.48" y="399.5" width="3.19" height="10" fill="#DC4D50"/>
<rect x="684.27" y="399.5" width="3.19" height="10" fill="#DB4649"/>
<rect x="687.06" y="399.5" width="3.19" height="10" fill="#D93F43"/>
<rect x="689.85" y="399.5" width="3.19" height="10" fill="#D8383D"/>
<rect x="692.63" y="399.5" width="3.19" height="10" fill="#D73136"/>
<rect x="695.42" y="399.5" width="3.19" height="10" fill="#D52A30"/>
<rect x="698.21" y="399.5" width="3.19" height="10" fill="#D42329"/>
<text transform="translate(530.6 413) rotate(90)" font-size="14.5" fill="#231F20">-0.6</text>
<text transform="translate(554.2 413) rotate(90)" font-size="14.5" fill="#231F20">-0.4</text>
<text transform="translate(577.9 413) rotate(90)" font-size="14.5" fill="#231F20">-0.2</text>
<text transform="translate(601 413) rotate(90)" font-size="14.5" fill="#231F20">0</text>
<text transform="translate(625.2 413) rotate(90)" font-size="14.5" fill="#231F20">0.2</text>
<text transform="translate(648.3 413) rotate(90)" font-size="14.5" fill="#231F20">0.4</text>
<text transform="translate(672.5 413) rotate(90)" font-size="14.5" fill="#231F20">0.6</text>
<line x1="577.06" y1="511.6" x2="577.06" y2="823" stroke="#F3F3F3" stroke-width="0.8"/>
<line x1="674.39" y1="511.6" x2="674.39" y2="823" stroke="#F3F3F3" stroke-width="0.8"/>
<line x1="771.71" y1="511.6" x2="771.71" y2="823" stroke="#F3F3F3" stroke-width="0.8"/>
<line x1="869.04" y1="511.6" x2="869.04" y2="823" stroke="#F3F3F3" stroke-width="0.8"/>
<line x1="525.6" y1="756.28" x2="920.3" y2="756.28" stroke="#F3F3F3" stroke-width="0.8"/>
<line x1="525.6" y1="664.43" x2="920.3" y2="664.43" stroke="#F3F3F3" stroke-width="0.8"/>
<line x1="525.6" y1="572.58" x2="920.3" y2="572.58" stroke="#F3F3F3" stroke-width="0.8"/>
<line x1="528.4" y1="511.6" x2="528.4" y2="823" stroke="#E6E6E6" stroke-width="1.3"/>
<line x1="625.72" y1="511.6" x2="625.72" y2="823" stroke="#E6E6E6" stroke-width="1.3"/>
<line x1="723.05" y1="511.6" x2="723.05" y2="823" stroke="#E6E6E6" stroke-width="1.3"/>
<line x1="820.38" y1="511.6" x2="820.38" y2="823" stroke="#E6E6E6" stroke-width="1.3"/>
<line x1="917.7" y1="511.6" x2="917.7" y2="823" stroke="#E6E6E6" stroke-width="1.3"/>
<line x1="525.6" y1="802.2" x2="920.3" y2="802.2" stroke="#E6E6E6" stroke-width="1.3"/>
<line x1="525.6" y1="710.35" x2="920.3" y2="710.35" stroke="#E6E6E6" stroke-width="1.3"/>
<line x1="525.6" y1="618.5" x2="920.3" y2="618.5" stroke="#E6E6E6" stroke-width="1.3"/>
<line x1="525.6" y1="526.65" x2="920.3" y2="526.65" stroke="#E6E6E6" stroke-width="1.3"/>
<circle cx="634.09" cy="525.55" r="3.5" fill="#F0776B"/>
<circle cx="657.84" cy="536.2" r="3.5" fill="#F0776B"/>
<circle cx="687.62" cy="557.7" r="3.5" fill="#F0776B"/>
<circle cx="560.71" cy="567.62" r="3.5" fill="#22B6BC"/>
<circle cx="565.97" cy="570.37" r="3.5" fill="#F0776B"/>
<circle cx="600.03" cy="568.17" r="3.5" fill="#22B6BC"/>
<circle cx="879.55" cy="584.88" r="3.5" fill="#F0776B"/>
<circle cx="543.39" cy="602.7" r="3.5" fill="#F0776B"/>
<circle cx="645.97" cy="606.74" r="3.5" fill="#F0776B"/>
<circle cx="643.63" cy="614.64" r="3.5" fill="#22B6BC"/>
<circle cx="873.32" cy="620.7" r="3.5" fill="#F0776B"/>
<circle cx="558.77" cy="642.2" r="3.5" fill="#22B6BC"/>
<circle cx="596.53" cy="638.52" r="3.5" fill="#22B6BC"/>
<circle cx="630.4" cy="670.49" r="3.5" fill="#F0776B"/>
<circle cx="847.43" cy="667.18" r="3.5" fill="#F0776B"/>
<circle cx="674.97" cy="687.2" r="3.5" fill="#F0776B"/>
<circle cx="665.82" cy="695.84" r="3.5" fill="#F0776B"/>
<circle cx="693.46" cy="693.82" r="3.5" fill="#F0776B"/>
<circle cx="730.25" cy="703" r="3.5" fill="#22B6BC"/>
<circle cx="571.03" cy="712.55" r="3.5" fill="#F0776B"/>
<circle cx="826.02" cy="710.72" r="3.5" fill="#22B6BC"/>
<circle cx="902.32" cy="704.29" r="3.5" fill="#22B6BC"/>
<circle cx="567.52" cy="726.52" r="3.5" fill="#F0776B"/>
<circle cx="897.26" cy="748.93" r="3.5" fill="#F0776B"/>
<circle cx="815.12" cy="755.91" r="3.5" fill="#F0776B"/>
<circle cx="657.65" cy="770.42" r="3.5" fill="#F0776B"/>
<circle cx="854.24" cy="795.04" r="3.5" fill="#22B6BC"/>
<circle cx="801.49" cy="808.63" r="3.5" fill="#F0776B"/>
<path d="M543.39 568.9 L552.36 573.35 L561.33 577.76 L570.31 582.13 L579.28 586.45 L588.25 590.73 L597.23 594.94 L606.2 599.09 L615.17 603.16 L624.15 607.15 L633.12 611.03 L642.1 614.79 L651.07 618.43 L660.04 621.92 L669.02 625.24 L677.99 628.39 L686.96 631.34 L695.94 634.1 L704.91 636.64 L713.88 638.97 L722.86 641.1 L731.83 643.04 L740.8 644.79 L749.78 646.37 L758.75 647.8 L767.72 649.09 L776.7 650.26 L785.67 651.33 L794.64 652.3 L803.62 653.19 L812.59 654.01 L821.56 654.77 L830.54 655.48 L839.51 656.14 L848.48 656.76 L857.46 657.34 L866.43 657.89 L875.4 658.41 L884.38 658.91 L893.35 659.38 L902.32 659.83 L902.32 774.09 L893.35 769.53 L884.38 764.99 L875.4 760.47 L866.43 755.98 L857.46 751.51 L848.48 747.08 L839.51 742.68 L830.54 738.33 L821.56 734.02 L812.59 729.76 L803.62 725.57 L794.64 721.45 L785.67 717.41 L776.7 713.46 L767.72 709.61 L758.75 705.89 L749.78 702.3 L740.8 698.87 L731.83 695.6 L722.86 692.52 L713.88 689.64 L704.91 686.96 L695.94 684.49 L686.96 682.22 L677.99 680.16 L669.02 678.29 L660.04 676.6 L651.07 675.08 L642.1 673.7 L633.12 672.45 L624.15 671.31 L615.17 670.28 L606.2 669.34 L597.23 668.47 L588.25 667.67 L579.28 666.93 L570.31 666.24 L561.33 665.6 L552.36 664.99 L543.39 664.42Z" stroke="none" stroke-width="1" fill="#999999" fill-opacity="0.4"/>
<line x1="543.39" y1="616.66" x2="902.32" y2="716.96" stroke="#3F5BB7" stroke-width="2.6"/>
<text x="518.2" y="806.7" font-size="12.8" text-anchor="end" fill="#4D4D4D">0.0</text>
<text x="518.2" y="714.85" font-size="12.8" text-anchor="end" fill="#4D4D4D">0.5</text>
<text x="518.2" y="623" font-size="12.8" text-anchor="end" fill="#4D4D4D">1.0</text>
<text x="518.2" y="531.15" font-size="12.8" text-anchor="end" fill="#4D4D4D">1.5</text>
<text x="528.4" y="840.3" font-size="12.8" text-anchor="middle" fill="#4D4D4D">−1.0</text>
<text x="625.72" y="840.3" font-size="12.8" text-anchor="middle" fill="#4D4D4D">−0.5</text>
<text x="723.05" y="840.3" font-size="12.8" text-anchor="middle" fill="#4D4D4D">0.0</text>
<text x="820.38" y="840.3" font-size="12.8" text-anchor="middle" fill="#4D4D4D">0.5</text>
<text x="917.7" y="840.3" font-size="12.8" text-anchor="middle" fill="#4D4D4D">1.0</text>
<text x="722.7" y="859.5" font-size="15.8" text-anchor="middle" fill="#231F20">KRAS.targets</text>
<text transform="translate(490.8 668) rotate(-90)" font-size="15.8" text-anchor="middle" fill="#231F20">MYC.targets</text>
<text x="724" y="502.8" font-size="34" text-anchor="middle" fill="#231F20" textLength="106.5" lengthAdjust="spacingAndGlyphs">Protein</text>
<text x="708" y="542" font-size="16.5" fill="#231F20">R^2=0.142</text>
<text x="709" y="560.8" font-size="16.5" fill="#231F20">p=0.027 (linear model)</text>
<text x="710.5" y="578.9" font-size="16.5" fill="#231F20">p=0.009 (robust lm)</text>
<rect x="930.3" y="596.6" width="107.7" height="127.8" fill="#FFFFFF" stroke="#4D4D4D" stroke-width="1.2"/>
<text x="946" y="620.5" font-size="19.6" fill="#231F20">Samples</text>
<circle cx="957.6" cy="654.5" r="9.5" fill="#E9786C"/>
<text x="975.7" y="661.4" font-size="19.8" fill="#231F20">CT</text>
<circle cx="957.6" cy="695.5" r="9.5" fill="#4FBBBB"/>
<text x="975.7" y="702.3" font-size="19.8" fill="#231F20">PAN</text>
<line x1="1185.89" y1="390.26" x2="1340.17" y2="352.12" stroke="#E2E2E2" stroke-width="0.9"/>
<line x1="1340.17" y1="352.12" x2="1402.12" y2="439.73" stroke="#E2E2E2" stroke-width="0.9"/>
<line x1="1172.98" y1="321.37" x2="1346.41" y2="284.44" stroke="#E2E2E2" stroke-width="0.9"/>
<line x1="1346.41" y1="284.44" x2="1417.26" y2="369.91" stroke="#E2E2E2" stroke-width="0.9"/>
<line x1="1166.53" y1="286.93" x2="1349.52" y2="250.59" stroke="#E2E2E2" stroke-width="0.9"/>
<line x1="1349.52" y1="250.59" x2="1424.83" y2="335" stroke="#E2E2E2" stroke-width="0.9"/>
<line x1="1160.07" y1="252.49" x2="1352.64" y2="216.75" stroke="#E2E2E2" stroke-width="0.9"/>
<line x1="1352.64" y1="216.75" x2="1432.41" y2="300.09" stroke="#E2E2E2" stroke-width="0.9"/>
<line x1="1153.62" y1="218.05" x2="1355.76" y2="182.9" stroke="#E2E2E2" stroke-width="0.9"/>
<line x1="1355.76" y1="182.9" x2="1439.98" y2="265.18" stroke="#E2E2E2" stroke-width="0.9"/>
<line x1="1147.17" y1="183.61" x2="1358.87" y2="149.06" stroke="#E2E2E2" stroke-width="0.9"/>
<line x1="1358.87" y1="149.06" x2="1447.55" y2="230.27" stroke="#E2E2E2" stroke-width="0.9"/>
<line x1="1140.71" y1="149.17" x2="1361.99" y2="115.21" stroke="#E2E2E2" stroke-width="0.9"/>
<line x1="1361.99" y1="115.21" x2="1455.12" y2="195.36" stroke="#E2E2E2" stroke-width="0.9"/>
<line x1="1226.7" y1="390.05" x2="1195.97" y2="126.03" stroke="#E2E2E2" stroke-width="0.9"/>
<line x1="1226.7" y1="390.05" x2="1274.41" y2="485.67" stroke="#E2E2E2" stroke-width="0.9"/>
<line x1="1300.3" y1="371.45" x2="1305.33" y2="109.67" stroke="#E2E2E2" stroke-width="0.9"/>
<line x1="1300.3" y1="371.45" x2="1356.49" y2="462.03" stroke="#E2E2E2" stroke-width="0.9"/>
<line x1="1379.19" y1="419.36" x2="1425.73" y2="153.37" stroke="#E2E2E2" stroke-width="0.9"/>
<line x1="1216.09" y1="464.5" x2="1379.19" y2="419.36" stroke="#E2E2E2" stroke-width="0.9"/>
<line x1="1361.85" y1="394.25" x2="1398.59" y2="130.6" stroke="#E2E2E2" stroke-width="0.9"/>
<line x1="1203.75" y1="436.41" x2="1361.85" y2="394.25" stroke="#E2E2E2" stroke-width="0.9"/>
<line x1="1344.5" y1="369.13" x2="1371.44" y2="107.83" stroke="#E2E2E2" stroke-width="0.9"/>
<line x1="1191.4" y1="408.33" x2="1344.5" y2="369.13" stroke="#E2E2E2" stroke-width="0.9"/>
<line x1="1179.44" y1="355.81" x2="1343.29" y2="318.28" stroke="#8A8A8A" stroke-width="1"/>
<line x1="1343.29" y1="318.28" x2="1409.69" y2="404.82" stroke="#8A8A8A" stroke-width="1"/>
<line x1="1263.5" y1="380.75" x2="1250.65" y2="117.85" stroke="#8A8A8A" stroke-width="1"/>
<line x1="1263.5" y1="380.75" x2="1315.45" y2="473.85" stroke="#8A8A8A" stroke-width="1"/>
<line x1="1396.53" y1="444.48" x2="1452.87" y2="176.15" stroke="#8A8A8A" stroke-width="1"/>
<line x1="1228.43" y1="492.58" x2="1396.53" y2="444.48" stroke="#8A8A8A" stroke-width="1"/>
<text x="1112.7" y="158.2" font-size="12.3" text-anchor="middle" fill="#444" font-family="DejaVu Sans, sans-serif" transform="rotate(-6 1112.7 153.8)">3</text>
<text x="1122" y="202.1" font-size="12.3" text-anchor="middle" fill="#444" font-family="DejaVu Sans, sans-serif" transform="rotate(-6 1122 197.7)">2.5</text>
<text x="1130.6" y="242" font-size="12.3" text-anchor="middle" fill="#444" font-family="DejaVu Sans, sans-serif" transform="rotate(-6 1130.6 237.6)">2</text>
<text x="1138.7" y="276.4" font-size="12.3" text-anchor="middle" fill="#444" font-family="DejaVu Sans, sans-serif" transform="rotate(-6 1138.7 272)">1.5</text>
<text x="1145.8" y="310.2" font-size="12.3" text-anchor="middle" fill="#444" font-family="DejaVu Sans, sans-serif" transform="rotate(-6 1145.8 305.8)">1</text>
<text x="1152.5" y="339.6" font-size="12.3" text-anchor="middle" fill="#444" font-family="DejaVu Sans, sans-serif" transform="rotate(-6 1152.5 335.2)">0.5</text>
<text x="1158.3" y="366" font-size="12.3" text-anchor="middle" fill="#444" font-family="DejaVu Sans, sans-serif" transform="rotate(-6 1158.3 361.6)">0</text>
<text x="1164.4" y="388" font-size="12.3" text-anchor="middle" fill="#444" font-family="DejaVu Sans, sans-serif" transform="rotate(-6 1164.4 383.6)">−0.5</text>
<text x="1170" y="411.6" font-size="12.3" text-anchor="middle" fill="#444" font-family="DejaVu Sans, sans-serif" transform="rotate(-6 1170 407.2)">1.5</text>
<text x="1181.3" y="440.4" font-size="12.3" text-anchor="middle" fill="#444" font-family="DejaVu Sans, sans-serif" transform="rotate(-6 1181.3 436)">1</text>
<text x="1193.8" y="470.8" font-size="12.3" text-anchor="middle" fill="#444" font-family="DejaVu Sans, sans-serif" transform="rotate(-6 1193.8 466.4)">0.5</text>
<text x="1207.3" y="503.6" font-size="12.3" text-anchor="middle" fill="#444" font-family="DejaVu Sans, sans-serif" transform="rotate(-6 1207.3 499.2)">0</text>
<text x="1281.6" y="506.3" font-size="12.3" text-anchor="middle" fill="#444" font-family="DejaVu Sans, sans-serif" transform="rotate(62 1281.6 501.9)">−0.5</text>
<text x="1325.6" y="492.7" font-size="12.3" text-anchor="middle" fill="#444" font-family="DejaVu Sans, sans-serif" transform="rotate(62 1325.6 488.3)">0</text>
<text x="1367.8" y="480.2" font-size="12.3" text-anchor="middle" fill="#444" font-family="DejaVu Sans, sans-serif" transform="rotate(62 1367.8 475.8)">0.5</text>
<text transform="translate(1083.5 257) rotate(84)" font-size="24" text-anchor="middle" fill="#111">Hypoxia</text>
<text transform="translate(1143 455) rotate(66)" font-size="24" text-anchor="middle" fill="#111">MYC targets</text>
<text transform="translate(1329 533) rotate(-17.6)" font-size="24" text-anchor="middle" fill="#111">KRAS targets</text>
<text x="1277.7" y="97.3" font-size="36.8" text-anchor="middle" fill="#111" textLength="185" lengthAdjust="spacingAndGlyphs">Proteomics</text>
<ellipse cx="1347.5" cy="282.2" rx="7.4" ry="6.2" fill="#F07168"/>
<ellipse cx="1252.2" cy="307.5" rx="7.4" ry="6.2" fill="#F07168"/>
<ellipse cx="1357" cy="337.3" rx="7.4" ry="6.2" fill="#F07168"/>
<ellipse cx="1243.8" cy="359.2" rx="7.4" ry="6.2" fill="#F07168"/>
<ellipse cx="1237.7" cy="361.6" rx="7.4" ry="6.2" fill="#F07168"/>
<ellipse cx="1267.4" cy="364" rx="7.4" ry="6.2" fill="#F07168"/>
<ellipse cx="1281.6" cy="361.6" rx="7.4" ry="6.2" fill="#F07168"/>
<ellipse cx="1194.4" cy="371.7" rx="7.4" ry="6.2" fill="#F07168"/>
<ellipse cx="1345.8" cy="367.7" rx="7.4" ry="6.2" fill="#F07168"/>
<ellipse cx="1229.3" cy="380.9" rx="7.4" ry="6.2" fill="#F07168"/>
<ellipse cx="1344.2" cy="383.6" rx="7.4" ry="6.2" fill="#F07168"/>
<ellipse cx="1248.2" cy="393" rx="7.4" ry="6.2" fill="#F07168"/>
<ellipse cx="1278.6" cy="395.4" rx="7.4" ry="6.2" fill="#F07168"/>
<ellipse cx="1207.3" cy="407.6" rx="7.4" ry="6.2" fill="#F07168"/>
<ellipse cx="1382.3" cy="406.2" rx="7.4" ry="6.2" fill="#F07168"/>
<ellipse cx="1226.2" cy="415" rx="7.4" ry="6.2" fill="#F07168"/>
<ellipse cx="1272.8" cy="420.7" rx="7.4" ry="6.2" fill="#F07168"/>
<ellipse cx="1228.6" cy="431.6" rx="7.4" ry="6.2" fill="#F07168"/>
<ellipse cx="1352.6" cy="445.4" rx="7.4" ry="6.2" fill="#F07168"/>
<ellipse cx="1202.9" cy="173.4" rx="7.4" ry="6.2" fill="#2AB7BE"/>
<ellipse cx="1197.1" cy="204.1" rx="7.4" ry="6.2" fill="#2AB7BE"/>
<ellipse cx="1231.6" cy="212.2" rx="7.4" ry="6.2" fill="#2AB7BE"/>
<ellipse cx="1363.8" cy="192.6" rx="7.4" ry="6.2" fill="#2AB7BE"/>
<ellipse cx="1398.9" cy="236.6" rx="7.4" ry="6.2" fill="#2AB7BE"/>
<ellipse cx="1193.1" cy="280.5" rx="7.4" ry="6.2" fill="#2AB7BE"/>
<ellipse cx="1394.2" cy="303.5" rx="7.4" ry="6.2" fill="#2AB7BE"/>
<ellipse cx="1192.4" cy="323.8" rx="7.4" ry="6.2" fill="#2AB7BE"/>
<ellipse cx="1301.2" cy="345.7" rx="7.4" ry="6.2" fill="#2AB7BE"/>
<rect x="1143.4" y="602.2" width="196.7" height="53.4" fill="#FFFFFF" stroke="#6B6B6B" stroke-width="1.1"/>
<circle cx="1165.7" cy="627.9" r="6" fill="#2AB7BE"/>
<text x="1181.3" y="637" font-size="24.5" fill="#111">PAN</text>
<circle cx="1268.1" cy="627.9" r="6" fill="#F07168"/>
<text x="1282.6" y="637" font-size="24.5" fill="#111">CT</text>
<line x1="1581.29" y1="379.15" x2="1717" y2="263.65" stroke="#E2E2E2" stroke-width="0.9"/>
<line x1="1717" y1="263.65" x2="1927.07" y2="348.91" stroke="#E2E2E2" stroke-width="0.9"/>
<line x1="1577.82" y1="353.26" x2="1717" y2="241.2" stroke="#E2E2E2" stroke-width="0.9"/>
<line x1="1717" y1="241.2" x2="1928.24" y2="322.38" stroke="#E2E2E2" stroke-width="0.9"/>
<line x1="1570.88" y1="301.48" x2="1717" y2="196.31" stroke="#E2E2E2" stroke-width="0.9"/>
<line x1="1717" y1="196.31" x2="1930.57" y2="269.32" stroke="#E2E2E2" stroke-width="0.9"/>
<line x1="1567.41" y1="275.59" x2="1717" y2="173.86" stroke="#E2E2E2" stroke-width="0.9"/>
<line x1="1717" y1="173.86" x2="1931.73" y2="242.79" stroke="#E2E2E2" stroke-width="0.9"/>
<line x1="1563.94" y1="249.7" x2="1717" y2="151.41" stroke="#E2E2E2" stroke-width="0.9"/>
<line x1="1717" y1="151.41" x2="1932.9" y2="216.26" stroke="#E2E2E2" stroke-width="0.9"/>
<line x1="1560.48" y1="223.81" x2="1717" y2="128.96" stroke="#E2E2E2" stroke-width="0.9"/>
<line x1="1717" y1="128.96" x2="1934.07" y2="189.72" stroke="#E2E2E2" stroke-width="0.9"/>
<line x1="1586.49" y1="376.44" x2="1563.57" y2="199.71" stroke="#E2E2E2" stroke-width="0.9"/>
<line x1="1586.49" y1="376.44" x2="1818.74" y2="493.53" stroke="#E2E2E2" stroke-width="0.9"/>
<line x1="1604.32" y1="361.21" x2="1584.53" y2="187.59" stroke="#E2E2E2" stroke-width="0.9"/>
<line x1="1604.32" y1="361.21" x2="1833.53" y2="473.99" stroke="#E2E2E2" stroke-width="0.9"/>
<line x1="1639.98" y1="330.77" x2="1626.45" y2="163.35" stroke="#E2E2E2" stroke-width="0.9"/>
<line x1="1639.98" y1="330.77" x2="1863.11" y2="434.91" stroke="#E2E2E2" stroke-width="0.9"/>
<line x1="1657.81" y1="315.54" x2="1647.41" y2="151.23" stroke="#E2E2E2" stroke-width="0.9"/>
<line x1="1657.81" y1="315.54" x2="1877.9" y2="415.37" stroke="#E2E2E2" stroke-width="0.9"/>
<line x1="1675.64" y1="300.32" x2="1668.37" y2="139.11" stroke="#E2E2E2" stroke-width="0.9"/>
<line x1="1675.64" y1="300.32" x2="1892.69" y2="395.83" stroke="#E2E2E2" stroke-width="0.9"/>
<line x1="1693.47" y1="285.1" x2="1689.33" y2="127" stroke="#E2E2E2" stroke-width="0.9"/>
<line x1="1693.47" y1="285.1" x2="1907.48" y2="376.29" stroke="#E2E2E2" stroke-width="0.9"/>
<line x1="1711.29" y1="269.87" x2="1710.29" y2="114.88" stroke="#E2E2E2" stroke-width="0.9"/>
<line x1="1711.29" y1="269.87" x2="1922.27" y2="356.75" stroke="#E2E2E2" stroke-width="0.9"/>
<line x1="1730.7" y1="270.58" x2="1731.22" y2="114.75" stroke="#E2E2E2" stroke-width="0.9"/>
<line x1="1596.7" y1="388.42" x2="1730.7" y2="270.58" stroke="#E2E2E2" stroke-width="0.9"/>
<line x1="1822" y1="307.75" x2="1826" y2="139.75" stroke="#E2E2E2" stroke-width="0.9"/>
<line x1="1698.05" y1="439.85" x2="1822" y2="307.75" stroke="#E2E2E2" stroke-width="0.9"/>
<line x1="1867.65" y1="326.34" x2="1873.39" y2="152.25" stroke="#E2E2E2" stroke-width="0.9"/>
<line x1="1748.72" y1="465.57" x2="1867.65" y2="326.34" stroke="#E2E2E2" stroke-width="0.9"/>
<line x1="1913.3" y1="344.92" x2="1920.78" y2="164.75" stroke="#E2E2E2" stroke-width="0.9"/>
<line x1="1799.4" y1="491.28" x2="1913.3" y2="344.92" stroke="#E2E2E2" stroke-width="0.9"/>
<line x1="1574.35" y1="327.37" x2="1717" y2="218.76" stroke="#8A8A8A" stroke-width="1"/>
<line x1="1717" y1="218.76" x2="1929.4" y2="295.85" stroke="#8A8A8A" stroke-width="1"/>
<line x1="1622.15" y1="345.99" x2="1605.49" y2="175.47" stroke="#8A8A8A" stroke-width="1"/>
<line x1="1622.15" y1="345.99" x2="1848.32" y2="454.45" stroke="#8A8A8A" stroke-width="1"/>
<line x1="1776.35" y1="289.16" x2="1778.61" y2="127.25" stroke="#8A8A8A" stroke-width="1"/>
<line x1="1647.38" y1="414.13" x2="1776.35" y2="289.16" stroke="#8A8A8A" stroke-width="1"/>
<text x="1536" y="243.7" font-size="12.3" text-anchor="middle" fill="#444" font-family="DejaVu Sans, sans-serif" transform="rotate(-35 1536 239.3)">2</text>
<text x="1541.1" y="271.4" font-size="12.3" text-anchor="middle" fill="#444" font-family="DejaVu Sans, sans-serif" transform="rotate(-35 1541.1 267)">1.5</text>
<text x="1547.2" y="295.8" font-size="12.3" text-anchor="middle" fill="#444" font-family="DejaVu Sans, sans-serif" transform="rotate(-35 1547.2 291.4)">1</text>
<text x="1551.3" y="320.4" font-size="12.3" text-anchor="middle" fill="#444" font-family="DejaVu Sans, sans-serif" transform="rotate(-35 1551.3 316)">0.5</text>
<text x="1557.3" y="344.1" font-size="12.3" text-anchor="middle" fill="#444" font-family="DejaVu Sans, sans-serif" transform="rotate(-35 1557.3 339.7)">0</text>
<text x="1563.1" y="362.7" font-size="12.3" text-anchor="middle" fill="#444" font-family="DejaVu Sans, sans-serif" transform="rotate(-35 1563.1 358.3)">−0.5</text>
<text x="1567.5" y="388" font-size="12.3" text-anchor="middle" fill="#444" font-family="DejaVu Sans, sans-serif" transform="rotate(-35 1567.5 383.6)">−1</text>
<text x="1588.4" y="410" font-size="12.3" text-anchor="middle" fill="#444" font-family="DejaVu Sans, sans-serif" transform="rotate(-50 1588.4 405.6)">1</text>
<text x="1632.4" y="433.7" font-size="12.3" text-anchor="middle" fill="#444" font-family="DejaVu Sans, sans-serif" transform="rotate(-50 1632.4 429.3)">0</text>
<text x="1681.4" y="460.7" font-size="12.3" text-anchor="middle" fill="#444" font-family="DejaVu Sans, sans-serif" transform="rotate(-50 1681.4 456.3)">−1</text>
<text x="1732.1" y="491.1" font-size="12.3" text-anchor="middle" fill="#444" font-family="DejaVu Sans, sans-serif" transform="rotate(-50 1732.1 486.7)">−2</text>
<text x="1786.2" y="519.8" font-size="12.3" text-anchor="middle" fill="#444" font-family="DejaVu Sans, sans-serif" transform="rotate(-50 1786.2 515.4)">−3</text>
<text x="1930.5" y="377.9" font-size="12.3" text-anchor="middle" fill="#444" font-family="DejaVu Sans, sans-serif" transform="rotate(22 1930.5 373.5)">2.5</text>
<text x="1918" y="393.1" font-size="12.3" text-anchor="middle" fill="#444" font-family="DejaVu Sans, sans-serif" transform="rotate(22 1918 388.7)">2</text>
<text x="1906.2" y="410" font-size="12.3" text-anchor="middle" fill="#444" font-family="DejaVu Sans, sans-serif" transform="rotate(22 1906.2 405.6)">1.5</text>
<text x="1893.6" y="428.6" font-size="12.3" text-anchor="middle" fill="#444" font-family="DejaVu Sans, sans-serif" transform="rotate(22 1893.6 424.2)">1</text>
<text x="1880.8" y="447.2" font-size="12.3" text-anchor="middle" fill="#444" font-family="DejaVu Sans, sans-serif" transform="rotate(22 1880.8 442.8)">0.5</text>
<text x="1867.3" y="466.8" font-size="12.3" text-anchor="middle" fill="#444" font-family="DejaVu Sans, sans-serif" transform="rotate(22 1867.3 462.4)">0</text>
<text x="1852.1" y="489.4" font-size="12.3" text-anchor="middle" fill="#444" font-family="DejaVu Sans, sans-serif" transform="rotate(22 1852.1 485)">−0.5</text>
<text x="1836.9" y="511.4" font-size="12.3" text-anchor="middle" fill="#444" font-family="DejaVu Sans, sans-serif" transform="rotate(22 1836.9 507)">−1</text>
<text transform="translate(1512 336) rotate(63)" font-size="24" text-anchor="middle" fill="#111">Hypoxia</text>
<text transform="translate(1666 508) rotate(31)" font-size="24" text-anchor="middle" fill="#111">MYC targets</text>
<text transform="translate(1929 468) rotate(-57)" font-size="24" text-anchor="middle" fill="#111">KRAS targets</text>
<text x="1752.4" y="98" font-size="37" text-anchor="middle" fill="#111" textLength="263.5" lengthAdjust="spacingAndGlyphs">Transcriptomics</text>
<circle cx="1614.5" cy="179.1" r="6.9" fill="#2AB7BE"/>
<circle cx="1737.2" cy="194.3" r="6.9" fill="#2AB7BE"/>
<circle cx="1701.7" cy="195" r="6.9" fill="#2AB7BE"/>
<circle cx="1673.6" cy="201.1" r="6.9" fill="#2AB7BE"/>
<circle cx="1608.7" cy="212.9" r="6.9" fill="#2AB7BE"/>
<circle cx="1673.6" cy="212.9" r="6.9" fill="#2AB7BE"/>
<circle cx="1644.2" cy="223.8" r="6.9" fill="#2AB7BE"/>
<circle cx="1634.7" cy="224.1" r="6.9" fill="#F07168"/>
<circle cx="1714.2" cy="224.1" r="6.9" fill="#2AB7BE"/>
<circle cx="1657" cy="227.1" r="6.9" fill="#2AB7BE"/>
<circle cx="1699.3" cy="228.2" r="6.9" fill="#2AB7BE"/>
<circle cx="1684.8" cy="231.5" r="6.9" fill="#F07168"/>
<circle cx="1649.3" cy="231.5" r="6.9" fill="#2AB7BE"/>
<circle cx="1634.1" cy="232.5" r="6.9" fill="#2AB7BE"/>
<circle cx="1667.9" cy="233.2" r="6.9" fill="#2AB7BE"/>
<circle cx="1618.9" cy="242.7" r="6.9" fill="#2AB7BE"/>
<circle cx="1705.7" cy="244" r="6.9" fill="#2AB7BE"/>
<circle cx="1645.9" cy="246.1" r="6.9" fill="#2AB7BE"/>
<circle cx="1668.5" cy="246.7" r="6.9" fill="#F07168"/>
<circle cx="1672.9" cy="250.1" r="6.9" fill="#2AB7BE"/>
<circle cx="1689.2" cy="250.8" r="6.9" fill="#F07168"/>
<circle cx="1677" cy="256.2" r="6.9" fill="#2AB7BE"/>
<circle cx="1637.4" cy="258.6" r="6.9" fill="#2AB7BE"/>
<circle cx="1693.2" cy="266.3" r="6.9" fill="#F07168"/>
<circle cx="1678" cy="267.7" r="6.9" fill="#2AB7BE"/>
<circle cx="1727" cy="277.8" r="6.9" fill="#F07168"/>
<circle cx="1708.4" cy="278.8" r="6.9" fill="#F07168"/>
<circle cx="1678" cy="278.8" r="6.9" fill="#2AB7BE"/>
<circle cx="1668.5" cy="280.5" r="6.9" fill="#2AB7BE"/>
<circle cx="1712.8" cy="281.2" r="6.9" fill="#F07168"/>
<circle cx="1651.6" cy="285.6" r="6.9" fill="#2AB7BE"/>
<circle cx="1786.2" cy="289.7" r="6.9" fill="#F07168"/>
<circle cx="1686.5" cy="296.8" r="6.9" fill="#F07168"/>
<circle cx="1698.3" cy="297.4" r="6.9" fill="#F07168"/>
<circle cx="1914.6" cy="301.8" r="6.9" fill="#F07168"/>
<circle cx="1638.5" cy="302.5" r="6.9" fill="#F07168"/>
<circle cx="1660.1" cy="307.6" r="6.9" fill="#F07168"/>
<circle cx="1663.5" cy="309.3" r="6.9" fill="#F07168"/>
<circle cx="1724.3" cy="309.3" r="6.9" fill="#F07168"/>
<circle cx="1699.3" cy="311" r="6.9" fill="#F07168"/>
<circle cx="1645.9" cy="313.3" r="6.9" fill="#F07168"/>
<circle cx="1745.6" cy="318.4" r="6.9" fill="#F07168"/>
<circle cx="1910.2" cy="321.1" r="6.9" fill="#F07168"/>
<circle cx="1728.7" cy="322.1" r="6.9" fill="#F07168"/>
<circle cx="1784.5" cy="329.5" r="6.9" fill="#F07168"/>
<circle cx="1749" cy="330.2" r="6.9" fill="#F07168"/>
<circle cx="1739.9" cy="339.7" r="6.9" fill="#F07168"/>
<circle cx="1725.3" cy="344.8" r="6.9" fill="#F07168"/>
<circle cx="1719.6" cy="350.5" r="6.9" fill="#F07168"/>
<circle cx="1618.2" cy="350.5" r="6.9" fill="#F07168"/>
<circle cx="1763.2" cy="351.5" r="6.9" fill="#F07168"/>
<circle cx="1786.2" cy="378.6" r="6.9" fill="#F07168"/>
<circle cx="1744.9" cy="380.2" r="6.9" fill="#F07168"/>
<rect x="1692.5" y="596.6" width="196.1" height="54" fill="#FFFFFF" stroke="#6B6B6B" stroke-width="1.1"/>
<circle cx="1714.2" cy="622.6" r="6" fill="#2AB7BE"/>
<text x="1729.4" y="631.4" font-size="24.5" fill="#111">PAN</text>
<circle cx="1817.3" cy="622.6" r="6" fill="#F07168"/>
<text x="1831.1" y="631.4" font-size="24.5" fill="#111">CT</text>
<rect x="508.9" y="999.7" width="153.5" height="607.6" fill="#EBEBEB"/>
<line x1="508.9" y1="1017.3" x2="662.4" y2="1017.3" stroke="#FFFFFF" stroke-width="1.3"/>
<line x1="508.9" y1="1047.39" x2="662.4" y2="1047.39" stroke="#FFFFFF" stroke-width="1.3"/>
<line x1="508.9" y1="1077.48" x2="662.4" y2="1077.48" stroke="#FFFFFF" stroke-width="1.3"/>
<line x1="508.9" y1="1107.57" x2="662.4" y2="1107.57" stroke="#FFFFFF" stroke-width="1.3"/>
<line x1="508.9" y1="1137.66" x2="662.4" y2="1137.66" stroke="#FFFFFF" stroke-width="1.3"/>
<line x1="508.9" y1="1167.75" x2="662.4" y2="1167.75" stroke="#FFFFFF" stroke-width="1.3"/>
<line x1="508.9" y1="1197.84" x2="662.4" y2="1197.84" stroke="#FFFFFF" stroke-width="1.3"/>
<line x1="508.9" y1="1227.93" x2="662.4" y2="1227.93" stroke="#FFFFFF" stroke-width="1.3"/>
<line x1="508.9" y1="1258.02" x2="662.4" y2="1258.02" stroke="#FFFFFF" stroke-width="1.3"/>
<line x1="508.9" y1="1288.11" x2="662.4" y2="1288.11" stroke="#FFFFFF" stroke-width="1.3"/>
<line x1="508.9" y1="1318.2" x2="662.4" y2="1318.2" stroke="#FFFFFF" stroke-width="1.3"/>
<line x1="508.9" y1="1348.29" x2="662.4" y2="1348.29" stroke="#FFFFFF" stroke-width="1.3"/>
<line x1="508.9" y1="1378.38" x2="662.4" y2="1378.38" stroke="#FFFFFF" stroke-width="1.3"/>
<line x1="508.9" y1="1408.47" x2="662.4" y2="1408.47" stroke="#FFFFFF" stroke-width="1.3"/>
<line x1="508.9" y1="1438.56" x2="662.4" y2="1438.56" stroke="#FFFFFF" stroke-width="1.3"/>
<line x1="508.9" y1="1468.65" x2="662.4" y2="1468.65" stroke="#FFFFFF" stroke-width="1.3"/>
<line x1="508.9" y1="1498.74" x2="662.4" y2="1498.74" stroke="#FFFFFF" stroke-width="1.3"/>
<line x1="508.9" y1="1528.83" x2="662.4" y2="1528.83" stroke="#FFFFFF" stroke-width="1.3"/>
<line x1="508.9" y1="1558.92" x2="662.4" y2="1558.92" stroke="#FFFFFF" stroke-width="1.3"/>
<line x1="508.9" y1="1589.01" x2="662.4" y2="1589.01" stroke="#FFFFFF" stroke-width="1.3"/>
<line x1="550.9" y1="999.7" x2="550.9" y2="1607.3" stroke="#FFFFFF" stroke-width="1.3"/>
<line x1="550.9" y1="1607.3" x2="550.9" y2="1610.8" stroke="#333333" stroke-width="1"/>
<line x1="620.4" y1="999.7" x2="620.4" y2="1607.3" stroke="#FFFFFF" stroke-width="1.3"/>
<line x1="620.4" y1="1607.3" x2="620.4" y2="1610.8" stroke="#333333" stroke-width="1"/>
<line x1="505.4" y1="1017.3" x2="508.9" y2="1017.3" stroke="#333333" stroke-width="1"/>
<text x="499" y="1022.1" font-size="20.3" text-anchor="end" fill="#4D4D4D">Hallmark E2F targets</text>
<circle cx="550.9" cy="1017.3" r="7.8" fill="#6B66AD"/>
<line x1="505.4" y1="1047.39" x2="508.9" y2="1047.39" stroke="#333333" stroke-width="1"/>
<text x="499" y="1052.19" font-size="20.3" text-anchor="end" fill="#4D4D4D">Hallmark G2M checkpoint</text>
<circle cx="550.9" cy="1047.39" r="7.8" fill="#6B66AD"/>
<line x1="505.4" y1="1077.48" x2="508.9" y2="1077.48" stroke="#333333" stroke-width="1"/>
<text x="499" y="1082.28" font-size="20.3" text-anchor="end" fill="#4D4D4D">Mitotic prometaphase</text>
<circle cx="550.9" cy="1077.48" r="7.8" fill="#6B66AD"/>
<line x1="505.4" y1="1107.57" x2="508.9" y2="1107.57" stroke="#333333" stroke-width="1"/>
<text x="499" y="1112.37" font-size="20.3" text-anchor="end" fill="#4D4D4D">Chromosome maintenance</text>
<circle cx="550.9" cy="1107.57" r="7.8" fill="#6B66AD"/>
<line x1="505.4" y1="1137.66" x2="508.9" y2="1137.66" stroke="#333333" stroke-width="1"/>
<text x="499" y="1142.46" font-size="20.3" text-anchor="end" fill="#4D4D4D">HDR through homologous recombination (HR)...</text>
<circle cx="550.9" cy="1137.66" r="7.8" fill="#6B66AD"/>
<line x1="505.4" y1="1167.75" x2="508.9" y2="1167.75" stroke="#333333" stroke-width="1"/>
<text x="499" y="1172.55" font-size="20.3" text-anchor="end" fill="#4D4D4D">Hallmark MYC targets</text>
<circle cx="550.9" cy="1167.75" r="7.8" fill="#6B66AD"/>
<line x1="505.4" y1="1197.84" x2="508.9" y2="1197.84" stroke="#333333" stroke-width="1"/>
<text x="499" y="1202.64" font-size="20.3" text-anchor="end" fill="#4D4D4D">DNA strand elongation</text>
<circle cx="550.9" cy="1197.84" r="7.8" fill="#6B66AD"/>
<line x1="505.4" y1="1227.93" x2="508.9" y2="1227.93" stroke="#333333" stroke-width="1"/>
<text x="499" y="1232.73" font-size="20.3" text-anchor="end" fill="#4D4D4D">Mitotic metaphase and anaphase</text>
<circle cx="550.9" cy="1227.93" r="7.8" fill="#6B66AD"/>
<line x1="505.4" y1="1258.02" x2="508.9" y2="1258.02" stroke="#333333" stroke-width="1"/>
<text x="499" y="1262.82" font-size="20.3" text-anchor="end" fill="#4D4D4D">Cell cycle checkpoint</text>
<circle cx="550.9" cy="1258.02" r="7.8" fill="#6B66AD"/>
<line x1="505.4" y1="1288.11" x2="508.9" y2="1288.11" stroke="#333333" stroke-width="1"/>
<text x="493.5" y="1292.91" font-size="20.3" text-anchor="end" fill="#4D4D4D">Telomere C-strand (lagging strand)</text>
<circle cx="550.9" cy="1288.11" r="7.8" fill="#6B66AD"/>
<line x1="505.4" y1="1318.2" x2="508.9" y2="1318.2" stroke="#333333" stroke-width="1"/>
<text x="499" y="1323" font-size="20.3" text-anchor="end" fill="#4D4D4D">Integrin cell surface interactions</text>
<circle cx="620.4" cy="1318.2" r="6.9" fill="#6B66AD"/>
<line x1="505.4" y1="1348.29" x2="508.9" y2="1348.29" stroke="#333333" stroke-width="1"/>
<text x="499" y="1353.09" font-size="20.3" text-anchor="end" fill="#4D4D4D">Hallmark epithelial mesenchymal transition</text>
<circle cx="620.4" cy="1348.29" r="6.9" fill="#6B66AD"/>
<line x1="505.4" y1="1378.38" x2="508.9" y2="1378.38" stroke="#333333" stroke-width="1"/>
<text x="499" y="1383.18" font-size="20.3" text-anchor="end" fill="#4D4D4D">Laminin interactions</text>
<circle cx="620.4" cy="1378.38" r="6.9" fill="#6B66AD"/>
<line x1="505.4" y1="1408.47" x2="508.9" y2="1408.47" stroke="#333333" stroke-width="1"/>
<text x="499" y="1413.27" font-size="20.3" text-anchor="end" fill="#4D4D4D">Extracellular matrix reorganization</text>
<circle cx="620.4" cy="1408.47" r="6.9" fill="#6B66AD"/>
<line x1="505.4" y1="1438.56" x2="508.9" y2="1438.56" stroke="#333333" stroke-width="1"/>
<text x="499" y="1443.36" font-size="20.3" text-anchor="end" fill="#4D4D4D">Assembly of collagen fibrils and other multim...</text>
<circle cx="620.4" cy="1438.56" r="6.9" fill="#6B66AD"/>
<line x1="505.4" y1="1468.65" x2="508.9" y2="1468.65" stroke="#333333" stroke-width="1"/>
<text x="499" y="1473.45" font-size="20.3" text-anchor="end" fill="#4D4D4D">Non-integrin membrane-ECM interactions</text>
<circle cx="620.4" cy="1468.65" r="6.9" fill="#6B66AD"/>
<line x1="505.4" y1="1498.74" x2="508.9" y2="1498.74" stroke="#333333" stroke-width="1"/>
<text x="499" y="1503.54" font-size="20.3" text-anchor="end" fill="#4D4D4D">Elastic fibre formation</text>
<circle cx="620.4" cy="1498.74" r="6.9" fill="#6B66AD"/>
<line x1="505.4" y1="1528.83" x2="508.9" y2="1528.83" stroke="#333333" stroke-width="1"/>
<text x="499" y="1533.63" font-size="20.3" text-anchor="end" fill="#4D4D4D">NABA basement membranes</text>
<circle cx="620.4" cy="1528.83" r="6.9" fill="#6B66AD"/>
<line x1="505.4" y1="1558.92" x2="508.9" y2="1558.92" stroke="#333333" stroke-width="1"/>
<text x="499" y="1563.72" font-size="20.3" text-anchor="end" fill="#4D4D4D">ECM proteoglycans</text>
<circle cx="620.4" cy="1558.92" r="6.9" fill="#6B66AD"/>
<line x1="505.4" y1="1589.01" x2="508.9" y2="1589.01" stroke="#333333" stroke-width="1"/>
<text x="499" y="1593.81" font-size="20.3" text-anchor="end" fill="#4D4D4D">Hallmark KRAS signaling</text>
<circle cx="620.4" cy="1589.01" r="3.4" fill="#EDE55A"/>
<path d="M452.4 932.3V923.6H719.8V932.3" stroke="#333333" stroke-width="1.3" fill="none"/>
<text x="455.9" y="950.4" font-size="17.4" fill="#231F20" textLength="259.7" lengthAdjust="spacingAndGlyphs">Ivy Gap CT samples (RNA Data)</text>
<text x="419.9" y="975.7" font-size="17.4" fill="#231F20" textLength="155.3" lengthAdjust="spacingAndGlyphs">MYC Targets - high</text>
<text x="590.2" y="975.7" font-size="17.4" fill="#231F20" textLength="161.4" lengthAdjust="spacingAndGlyphs">KRAS Targets - high</text>
<line x1="520.3" y1="986" x2="551.1" y2="999.7" stroke="#231F20" stroke-width="1.3"/>
<line x1="645.7" y1="986" x2="620.4" y2="999.7" stroke="#231F20" stroke-width="1.3"/>
<text transform="translate(45.5 1283.5) rotate(-90)" font-size="50" text-anchor="middle" fill="#231F20" textLength="204" lengthAdjust="spacingAndGlyphs">Pathways</text>
<text x="684.8" y="1144.1" font-size="18.5" fill="#231F20" textLength="92" lengthAdjust="spacingAndGlyphs">FDR q. val</text>
<defs><linearGradient id="plasma" x1="0" y1="1" x2="0" y2="0"><stop offset="0.000" stop-color="#37378A"/><stop offset="0.100" stop-color="#3F3490"/><stop offset="0.200" stop-color="#55308F"/><stop offset="0.300" stop-color="#7A2A93"/><stop offset="0.400" stop-color="#A22592"/><stop offset="0.470" stop-color="#BC2B88"/><stop offset="0.550" stop-color="#D0506F"/><stop offset="0.630" stop-color="#DB6460"/><stop offset="0.720" stop-color="#EA7E4E"/><stop offset="0.820" stop-color="#F49E3C"/><stop offset="0.900" stop-color="#F7BF2E"/><stop offset="0.950" stop-color="#F3DA2A"/><stop offset="1.000" stop-color="#E5E337"/></linearGradient></defs>
<rect x="684.8" y="1158.1" width="31.2" height="155" fill="url(#plasma)"/>
<text x="725.4" y="1197.1" font-size="20.5" fill="#231F20">0.075</text>
<text x="725.4" y="1237.4" font-size="20.5" fill="#231F20">0.05</text>
<text x="725.4" y="1274" font-size="20.5" fill="#231F20">0.025</text>
<line x1="709.8" y1="1190.1" x2="716" y2="1190.1" stroke="#FFFFFF" stroke-width="0.8" stroke-opacity="0.6"/>
<line x1="709.8" y1="1220.1" x2="716" y2="1220.1" stroke="#FFFFFF" stroke-width="0.8" stroke-opacity="0.6"/>
<line x1="709.8" y1="1250.2" x2="716" y2="1250.2" stroke="#FFFFFF" stroke-width="0.8" stroke-opacity="0.6"/>
<line x1="709.8" y1="1280" x2="716" y2="1280" stroke="#FFFFFF" stroke-width="0.8" stroke-opacity="0.6"/>
<line x1="684.8" y1="1224.1" x2="688.5" y2="1224.1" stroke="#FFFFFF" stroke-width="0.8" stroke-opacity="0.6"/>
<line x1="684.8" y1="1245.2" x2="688.5" y2="1245.2" stroke="#FFFFFF" stroke-width="0.8" stroke-opacity="0.6"/>
<line x1="684.8" y1="1267" x2="688.5" y2="1267" stroke="#FFFFFF" stroke-width="0.8" stroke-opacity="0.6"/>
<line x1="684.8" y1="1289" x2="688.5" y2="1289" stroke="#FFFFFF" stroke-width="0.8" stroke-opacity="0.6"/>
<text x="687.3" y="1360.5" font-size="20" fill="#231F20">NES</text>
<rect x="687.3" y="1373.6" width="31.5" height="31" fill="#F2F2F2"/>
<circle cx="703" cy="1389.1" r="7.2" fill="#4D4D4D"/>
<text x="730.8" y="1394.5" font-size="20.5" fill="#231F20">1.5</text>
<rect x="687.3" y="1405.8" width="31.5" height="31" fill="#F2F2F2"/>
<circle cx="703" cy="1421.7" r="9.1" fill="#4D4D4D"/>
<text x="730.8" y="1426.7" font-size="20.5" fill="#231F20">2.0</text>
<rect x="687.3" y="1438.3" width="31.5" height="31" fill="#F2F2F2"/>
<circle cx="703" cy="1453" r="10.2" fill="#4D4D4D"/>
<text x="730.8" y="1458.9" font-size="20.5" fill="#231F20">2.5</text>
<rect x="953.2" y="994.1" width="256.5" height="254.3" fill="#EBEBEB"/>
<line x1="994.06" y1="994.1" x2="994.06" y2="1248.4" stroke="#F7F7F7" stroke-width="0.6"/>
<line x1="953.2" y1="1208.1" x2="1209.7" y2="1208.1" stroke="#F7F7F7" stroke-width="0.6"/>
<line x1="1052.39" y1="994.1" x2="1052.39" y2="1248.4" stroke="#F7F7F7" stroke-width="0.6"/>
<line x1="953.2" y1="1150.1" x2="1209.7" y2="1150.1" stroke="#F7F7F7" stroke-width="0.6"/>
<line x1="1110.71" y1="994.1" x2="1110.71" y2="1248.4" stroke="#F7F7F7" stroke-width="0.6"/>
<line x1="953.2" y1="1092.1" x2="1209.7" y2="1092.1" stroke="#F7F7F7" stroke-width="0.6"/>
<line x1="1169.04" y1="994.1" x2="1169.04" y2="1248.4" stroke="#F7F7F7" stroke-width="0.6"/>
<line x1="953.2" y1="1034.1" x2="1209.7" y2="1034.1" stroke="#F7F7F7" stroke-width="0.6"/>
<line x1="964.9" y1="994.1" x2="964.9" y2="1248.4" stroke="#FFFFFF" stroke-width="1.2"/>
<line x1="953.2" y1="1237.1" x2="1209.7" y2="1237.1" stroke="#FFFFFF" stroke-width="1.2"/>
<line x1="950.6" y1="1237.1" x2="953.2" y2="1237.1" stroke="#333333" stroke-width="1"/>
<line x1="964.9" y1="1248.4" x2="964.9" y2="1251" stroke="#333333" stroke-width="1"/>
<text x="946.7" y="1240.63" font-size="9.8" text-anchor="end" fill="#4D4D4D">0.00</text>
<text x="964.9" y="1261.4" font-size="9.8" text-anchor="middle" fill="#4D4D4D">0.00</text>
<line x1="1023.23" y1="994.1" x2="1023.23" y2="1248.4" stroke="#FFFFFF" stroke-width="1.2"/>
<line x1="953.2" y1="1179.1" x2="1209.7" y2="1179.1" stroke="#FFFFFF" stroke-width="1.2"/>
<line x1="950.6" y1="1179.1" x2="953.2" y2="1179.1" stroke="#333333" stroke-width="1"/>
<line x1="1023.23" y1="1248.4" x2="1023.23" y2="1251" stroke="#333333" stroke-width="1"/>
<text x="946.7" y="1182.63" font-size="9.8" text-anchor="end" fill="#4D4D4D">0.25</text>
<text x="1023.23" y="1261.4" font-size="9.8" text-anchor="middle" fill="#4D4D4D">0.25</text>
<line x1="1081.55" y1="994.1" x2="1081.55" y2="1248.4" stroke="#FFFFFF" stroke-width="1.2"/>
<line x1="953.2" y1="1121.1" x2="1209.7" y2="1121.1" stroke="#FFFFFF" stroke-width="1.2"/>
<line x1="950.6" y1="1121.1" x2="953.2" y2="1121.1" stroke="#333333" stroke-width="1"/>
<line x1="1081.55" y1="1248.4" x2="1081.55" y2="1251" stroke="#333333" stroke-width="1"/>
<text x="946.7" y="1124.63" font-size="9.8" text-anchor="end" fill="#4D4D4D">0.50</text>
<text x="1081.55" y="1261.4" font-size="9.8" text-anchor="middle" fill="#4D4D4D">0.50</text>
<line x1="1139.88" y1="994.1" x2="1139.88" y2="1248.4" stroke="#FFFFFF" stroke-width="1.2"/>
<line x1="953.2" y1="1063.1" x2="1209.7" y2="1063.1" stroke="#FFFFFF" stroke-width="1.2"/>
<line x1="950.6" y1="1063.1" x2="953.2" y2="1063.1" stroke="#333333" stroke-width="1"/>
<line x1="1139.88" y1="1248.4" x2="1139.88" y2="1251" stroke="#333333" stroke-width="1"/>
<text x="946.7" y="1066.63" font-size="9.8" text-anchor="end" fill="#4D4D4D">0.75</text>
<text x="1139.88" y="1261.4" font-size="9.8" text-anchor="middle" fill="#4D4D4D">0.75</text>
<line x1="1198.2" y1="994.1" x2="1198.2" y2="1248.4" stroke="#FFFFFF" stroke-width="1.2"/>
<line x1="953.2" y1="1005.1" x2="1209.7" y2="1005.1" stroke="#FFFFFF" stroke-width="1.2"/>
<line x1="950.6" y1="1005.1" x2="953.2" y2="1005.1" stroke="#333333" stroke-width="1"/>
<line x1="1198.2" y1="1248.4" x2="1198.2" y2="1251" stroke="#333333" stroke-width="1"/>
<text x="946.7" y="1008.63" font-size="9.8" text-anchor="end" fill="#4D4D4D">1.00</text>
<text x="1198.2" y="1261.4" font-size="9.8" text-anchor="middle" fill="#4D4D4D">1.00</text>
<path d="M964.9 1237.1 L964.9 1055.53 L986.11 1055.53 L986.11 1035.36 L1007.32 1035.36 L1007.32 1025.27 L1028.53 1025.27 L1028.53 1015.19 L1092.15 1015.19 L1092.15 1005.1 L1198.2 1005.1" stroke="#000000" stroke-width="1.1" fill="none"/>
<circle cx="964.9" cy="1055.53" r="2.6" fill="#000000"/>
<text x="1021.8" y="1177.6" font-size="19.4" fill="#000000">AUC=0. 949</text>
<text x="1080" y="981.7" font-size="24.5" text-anchor="middle" fill="#000000">KRAS_TARGETS</text>
<text x="1081.8" y="1274" font-size="12.1" text-anchor="middle" fill="#1A1A1A">1 - Specificity</text>
<text transform="translate(921.2 1121.3) rotate(-90)" font-size="12.1" text-anchor="middle" fill="#1A1A1A">Sensitivity</text>
<rect x="1311.7" y="993.6" width="256.5" height="255.2" fill="#EBEBEB"/>
<line x1="1352.48" y1="993.6" x2="1352.48" y2="1248.8" stroke="#F7F7F7" stroke-width="0.6"/>
<line x1="1311.7" y1="1208.47" x2="1568.2" y2="1208.47" stroke="#F7F7F7" stroke-width="0.6"/>
<line x1="1410.62" y1="993.6" x2="1410.62" y2="1248.8" stroke="#F7F7F7" stroke-width="0.6"/>
<line x1="1311.7" y1="1150.42" x2="1568.2" y2="1150.42" stroke="#F7F7F7" stroke-width="0.6"/>
<line x1="1468.78" y1="993.6" x2="1468.78" y2="1248.8" stroke="#F7F7F7" stroke-width="0.6"/>
<line x1="1311.7" y1="1092.38" x2="1568.2" y2="1092.38" stroke="#F7F7F7" stroke-width="0.6"/>
<line x1="1526.92" y1="993.6" x2="1526.92" y2="1248.8" stroke="#F7F7F7" stroke-width="0.6"/>
<line x1="1311.7" y1="1034.33" x2="1568.2" y2="1034.33" stroke="#F7F7F7" stroke-width="0.6"/>
<line x1="1323.4" y1="993.6" x2="1323.4" y2="1248.8" stroke="#FFFFFF" stroke-width="1.2"/>
<line x1="1311.7" y1="1237.5" x2="1568.2" y2="1237.5" stroke="#FFFFFF" stroke-width="1.2"/>
<line x1="1309.1" y1="1237.5" x2="1311.7" y2="1237.5" stroke="#333333" stroke-width="1"/>
<line x1="1323.4" y1="1248.8" x2="1323.4" y2="1251.4" stroke="#333333" stroke-width="1"/>
<text x="1305.2" y="1241.03" font-size="9.8" text-anchor="end" fill="#4D4D4D">0.00</text>
<text x="1323.4" y="1261.2" font-size="9.8" text-anchor="middle" fill="#4D4D4D">0.00</text>
<line x1="1381.55" y1="993.6" x2="1381.55" y2="1248.8" stroke="#FFFFFF" stroke-width="1.2"/>
<line x1="1311.7" y1="1179.45" x2="1568.2" y2="1179.45" stroke="#FFFFFF" stroke-width="1.2"/>
<line x1="1309.1" y1="1179.45" x2="1311.7" y2="1179.45" stroke="#333333" stroke-width="1"/>
<line x1="1381.55" y1="1248.8" x2="1381.55" y2="1251.4" stroke="#333333" stroke-width="1"/>
<text x="1305.2" y="1182.98" font-size="9.8" text-anchor="end" fill="#4D4D4D">0.25</text>
<text x="1381.55" y="1261.2" font-size="9.8" text-anchor="middle" fill="#4D4D4D">0.25</text>
<line x1="1439.7" y1="993.6" x2="1439.7" y2="1248.8" stroke="#FFFFFF" stroke-width="1.2"/>
<line x1="1311.7" y1="1121.4" x2="1568.2" y2="1121.4" stroke="#FFFFFF" stroke-width="1.2"/>
<line x1="1309.1" y1="1121.4" x2="1311.7" y2="1121.4" stroke="#333333" stroke-width="1"/>
<line x1="1439.7" y1="1248.8" x2="1439.7" y2="1251.4" stroke="#333333" stroke-width="1"/>
<text x="1305.2" y="1124.93" font-size="9.8" text-anchor="end" fill="#4D4D4D">0.50</text>
<text x="1439.7" y="1261.2" font-size="9.8" text-anchor="middle" fill="#4D4D4D">0.50</text>
<line x1="1497.85" y1="993.6" x2="1497.85" y2="1248.8" stroke="#FFFFFF" stroke-width="1.2"/>
<line x1="1311.7" y1="1063.35" x2="1568.2" y2="1063.35" stroke="#FFFFFF" stroke-width="1.2"/>
<line x1="1309.1" y1="1063.35" x2="1311.7" y2="1063.35" stroke="#333333" stroke-width="1"/>
<line x1="1497.85" y1="1248.8" x2="1497.85" y2="1251.4" stroke="#333333" stroke-width="1"/>
<text x="1305.2" y="1066.88" font-size="9.8" text-anchor="end" fill="#4D4D4D">0.75</text>
<text x="1497.85" y="1261.2" font-size="9.8" text-anchor="middle" fill="#4D4D4D">0.75</text>
<line x1="1556" y1="993.6" x2="1556" y2="1248.8" stroke="#FFFFFF" stroke-width="1.2"/>
<line x1="1311.7" y1="1005.3" x2="1568.2" y2="1005.3" stroke="#FFFFFF" stroke-width="1.2"/>
<line x1="1309.1" y1="1005.3" x2="1311.7" y2="1005.3" stroke="#333333" stroke-width="1"/>
<line x1="1556" y1="1248.8" x2="1556" y2="1251.4" stroke="#333333" stroke-width="1"/>
<text x="1305.2" y="1008.83" font-size="9.8" text-anchor="end" fill="#4D4D4D">1.00</text>
<text x="1556" y="1261.2" font-size="9.8" text-anchor="middle" fill="#4D4D4D">1.00</text>
<path d="M1323.4 1237.5 L1323.4 1195.28 L1333.51 1195.28 L1333.51 1131.95 L1353.74 1131.95 L1353.74 1047.52 L1363.85 1047.52 L1363.85 1026.41 L1444.76 1026.41 L1444.76 1005.3 L1556 1005.3" stroke="#000000" stroke-width="1.1" fill="none"/>
<circle cx="1363.85" cy="1026.41" r="2.6" fill="#000000"/>
<text x="1406.6" y="1175.7" font-size="19.4" fill="#000000">AUC=0.878</text>
<text x="1443.1" y="981.5" font-size="24.5" text-anchor="middle" fill="#000000">MYC_TARGETS</text>
<text x="1440" y="1273.8" font-size="12.1" text-anchor="middle" fill="#1A1A1A">1 - Specificity</text>
<text transform="translate(1279.6 1121) rotate(-90)" font-size="12.1" text-anchor="middle" fill="#1A1A1A">Sensitivity</text>
<rect x="1639.1" y="993.5" width="261.7" height="255.5" fill="#EBEBEB"/>
<line x1="1680.39" y1="993.5" x2="1680.39" y2="1249" stroke="#F7F7F7" stroke-width="0.6"/>
<line x1="1639.1" y1="1208.64" x2="1900.8" y2="1208.64" stroke="#F7F7F7" stroke-width="0.6"/>
<line x1="1739.96" y1="993.5" x2="1739.96" y2="1249" stroke="#F7F7F7" stroke-width="0.6"/>
<line x1="1639.1" y1="1150.51" x2="1900.8" y2="1150.51" stroke="#F7F7F7" stroke-width="0.6"/>
<line x1="1799.54" y1="993.5" x2="1799.54" y2="1249" stroke="#F7F7F7" stroke-width="0.6"/>
<line x1="1639.1" y1="1092.39" x2="1900.8" y2="1092.39" stroke="#F7F7F7" stroke-width="0.6"/>
<line x1="1859.11" y1="993.5" x2="1859.11" y2="1249" stroke="#F7F7F7" stroke-width="0.6"/>
<line x1="1639.1" y1="1034.26" x2="1900.8" y2="1034.26" stroke="#F7F7F7" stroke-width="0.6"/>
<line x1="1650.6" y1="993.5" x2="1650.6" y2="1249" stroke="#FFFFFF" stroke-width="1.2"/>
<line x1="1639.1" y1="1237.7" x2="1900.8" y2="1237.7" stroke="#FFFFFF" stroke-width="1.2"/>
<line x1="1636.5" y1="1237.7" x2="1639.1" y2="1237.7" stroke="#333333" stroke-width="1"/>
<line x1="1650.6" y1="1249" x2="1650.6" y2="1251.6" stroke="#333333" stroke-width="1"/>
<text x="1634" y="1240.72" font-size="8.4" text-anchor="end" fill="#4D4D4D">0.00</text>
<text x="1650.6" y="1259" font-size="8.4" text-anchor="middle" fill="#4D4D4D">0.00</text>
<line x1="1710.17" y1="993.5" x2="1710.17" y2="1249" stroke="#FFFFFF" stroke-width="1.2"/>
<line x1="1639.1" y1="1179.58" x2="1900.8" y2="1179.58" stroke="#FFFFFF" stroke-width="1.2"/>
<line x1="1636.5" y1="1179.58" x2="1639.1" y2="1179.58" stroke="#333333" stroke-width="1"/>
<line x1="1710.17" y1="1249" x2="1710.17" y2="1251.6" stroke="#333333" stroke-width="1"/>
<text x="1634" y="1182.6" font-size="8.4" text-anchor="end" fill="#4D4D4D">0.25</text>
<text x="1710.17" y="1259" font-size="8.4" text-anchor="middle" fill="#4D4D4D">0.25</text>
<line x1="1769.75" y1="993.5" x2="1769.75" y2="1249" stroke="#FFFFFF" stroke-width="1.2"/>
<line x1="1639.1" y1="1121.45" x2="1900.8" y2="1121.45" stroke="#FFFFFF" stroke-width="1.2"/>
<line x1="1636.5" y1="1121.45" x2="1639.1" y2="1121.45" stroke="#333333" stroke-width="1"/>
<line x1="1769.75" y1="1249" x2="1769.75" y2="1251.6" stroke="#333333" stroke-width="1"/>
<text x="1634" y="1124.47" font-size="8.4" text-anchor="end" fill="#4D4D4D">0.50</text>
<text x="1769.75" y="1259" font-size="8.4" text-anchor="middle" fill="#4D4D4D">0.50</text>
<line x1="1829.33" y1="993.5" x2="1829.33" y2="1249" stroke="#FFFFFF" stroke-width="1.2"/>
<line x1="1639.1" y1="1063.33" x2="1900.8" y2="1063.33" stroke="#FFFFFF" stroke-width="1.2"/>
<line x1="1636.5" y1="1063.33" x2="1639.1" y2="1063.33" stroke="#333333" stroke-width="1"/>
<line x1="1829.33" y1="1249" x2="1829.33" y2="1251.6" stroke="#333333" stroke-width="1"/>
<text x="1634" y="1066.35" font-size="8.4" text-anchor="end" fill="#4D4D4D">0.75</text>
<text x="1829.33" y="1259" font-size="8.4" text-anchor="middle" fill="#4D4D4D">0.75</text>
<line x1="1888.9" y1="993.5" x2="1888.9" y2="1249" stroke="#FFFFFF" stroke-width="1.2"/>
<line x1="1639.1" y1="1005.2" x2="1900.8" y2="1005.2" stroke="#FFFFFF" stroke-width="1.2"/>
<line x1="1636.5" y1="1005.2" x2="1639.1" y2="1005.2" stroke="#333333" stroke-width="1"/>
<line x1="1888.9" y1="1249" x2="1888.9" y2="1251.6" stroke="#333333" stroke-width="1"/>
<text x="1634" y="1008.22" font-size="8.4" text-anchor="end" fill="#4D4D4D">1.00</text>
<text x="1888.9" y="1259" font-size="8.4" text-anchor="middle" fill="#4D4D4D">1.00</text>
<path d="M1650.6 1237.7 L1650.6 1056.35 L1679.43 1056.35 L1679.43 1005.2 L1888.9 1005.2" stroke="#000000" stroke-width="1.1" fill="none"/>
<circle cx="1679.43" cy="1005.2" r="2.6" fill="#000000"/>
<text x="1727.2" y="1186.8" font-size="19.4" fill="#000000">AUC=0.973</text>
<text x="1774.3" y="982.2" font-size="24.5" text-anchor="middle" fill="#000000">HYPOXIA</text>
<text x="1769.5" y="1270" font-size="9.5" text-anchor="middle" fill="#1A1A1A">1 - Specificity</text>
<text transform="translate(1614 1121.9) rotate(-90)" font-size="9.5" text-anchor="middle" fill="#1A1A1A">Sensitivity</text>
<rect x="962.9" y="1368.7" width="250.4" height="251.1" fill="#EBEBEB"/>
<line x1="1002.4" y1="1368.7" x2="1002.4" y2="1619.8" stroke="#F7F7F7" stroke-width="0.6"/>
<line x1="962.9" y1="1580.05" x2="1213.3" y2="1580.05" stroke="#F7F7F7" stroke-width="0.6"/>
<line x1="1059.4" y1="1368.7" x2="1059.4" y2="1619.8" stroke="#F7F7F7" stroke-width="0.6"/>
<line x1="962.9" y1="1522.95" x2="1213.3" y2="1522.95" stroke="#F7F7F7" stroke-width="0.6"/>
<line x1="1116.4" y1="1368.7" x2="1116.4" y2="1619.8" stroke="#F7F7F7" stroke-width="0.6"/>
<line x1="962.9" y1="1465.85" x2="1213.3" y2="1465.85" stroke="#F7F7F7" stroke-width="0.6"/>
<line x1="1173.4" y1="1368.7" x2="1173.4" y2="1619.8" stroke="#F7F7F7" stroke-width="0.6"/>
<line x1="962.9" y1="1408.75" x2="1213.3" y2="1408.75" stroke="#F7F7F7" stroke-width="0.6"/>
<line x1="973.9" y1="1368.7" x2="973.9" y2="1619.8" stroke="#FFFFFF" stroke-width="1.2"/>
<line x1="962.9" y1="1608.6" x2="1213.3" y2="1608.6" stroke="#FFFFFF" stroke-width="1.2"/>
<line x1="960.3" y1="1608.6" x2="962.9" y2="1608.6" stroke="#333333" stroke-width="1"/>
<line x1="973.9" y1="1619.8" x2="973.9" y2="1622.4" stroke="#333333" stroke-width="1"/>
<text x="956.8" y="1612.13" font-size="9.8" text-anchor="end" fill="#4D4D4D">0.00</text>
<text x="973.9" y="1632.2" font-size="9.8" text-anchor="middle" fill="#4D4D4D">0.00</text>
<line x1="1030.9" y1="1368.7" x2="1030.9" y2="1619.8" stroke="#FFFFFF" stroke-width="1.2"/>
<line x1="962.9" y1="1551.5" x2="1213.3" y2="1551.5" stroke="#FFFFFF" stroke-width="1.2"/>
<line x1="960.3" y1="1551.5" x2="962.9" y2="1551.5" stroke="#333333" stroke-width="1"/>
<line x1="1030.9" y1="1619.8" x2="1030.9" y2="1622.4" stroke="#333333" stroke-width="1"/>
<text x="956.8" y="1555.03" font-size="9.8" text-anchor="end" fill="#4D4D4D">0.25</text>
<text x="1030.9" y="1632.2" font-size="9.8" text-anchor="middle" fill="#4D4D4D">0.25</text>
<line x1="1087.9" y1="1368.7" x2="1087.9" y2="1619.8" stroke="#FFFFFF" stroke-width="1.2"/>
<line x1="962.9" y1="1494.4" x2="1213.3" y2="1494.4" stroke="#FFFFFF" stroke-width="1.2"/>
<line x1="960.3" y1="1494.4" x2="962.9" y2="1494.4" stroke="#333333" stroke-width="1"/>
<line x1="1087.9" y1="1619.8" x2="1087.9" y2="1622.4" stroke="#333333" stroke-width="1"/>
<text x="956.8" y="1497.93" font-size="9.8" text-anchor="end" fill="#4D4D4D">0.50</text>
<text x="1087.9" y="1632.2" font-size="9.8" text-anchor="middle" fill="#4D4D4D">0.50</text>
<line x1="1144.9" y1="1368.7" x2="1144.9" y2="1619.8" stroke="#FFFFFF" stroke-width="1.2"/>
<line x1="962.9" y1="1437.3" x2="1213.3" y2="1437.3" stroke="#FFFFFF" stroke-width="1.2"/>
<line x1="960.3" y1="1437.3" x2="962.9" y2="1437.3" stroke="#333333" stroke-width="1"/>
<line x1="1144.9" y1="1619.8" x2="1144.9" y2="1622.4" stroke="#333333" stroke-width="1"/>
<text x="956.8" y="1440.83" font-size="9.8" text-anchor="end" fill="#4D4D4D">0.75</text>
<text x="1144.9" y="1632.2" font-size="9.8" text-anchor="middle" fill="#4D4D4D">0.75</text>
<line x1="1201.9" y1="1368.7" x2="1201.9" y2="1619.8" stroke="#FFFFFF" stroke-width="1.2"/>
<line x1="962.9" y1="1380.2" x2="1213.3" y2="1380.2" stroke="#FFFFFF" stroke-width="1.2"/>
<line x1="960.3" y1="1380.2" x2="962.9" y2="1380.2" stroke="#333333" stroke-width="1"/>
<line x1="1201.9" y1="1619.8" x2="1201.9" y2="1622.4" stroke="#333333" stroke-width="1"/>
<text x="956.8" y="1383.73" font-size="9.8" text-anchor="end" fill="#4D4D4D">1.00</text>
<text x="1201.9" y="1632.2" font-size="9.8" text-anchor="middle" fill="#4D4D4D">1.00</text>
<path d="M973.9 1608.6 L973.9 1539.09 L994.63 1539.09 L994.63 1419.92 L1015.35 1419.92 L1015.35 1390.13 L1098.26 1390.13 L1098.26 1380.2 L1201.9 1380.2" stroke="#000000" stroke-width="1.1" fill="none"/>
<circle cx="1015.35" cy="1390.13" r="2.6" fill="#000000"/>
<text x="1038.7" y="1569" font-size="19.4" fill="#000000">AUC=0.905</text>
<text x="1080.2" y="1359.7" font-size="24.5" text-anchor="middle" fill="#000000">VERHAAK_MESENCHYMAL</text>
<text x="1087.8" y="1645.8" font-size="12.1" text-anchor="middle" fill="#1A1A1A">1 - Specificity</text>
<text transform="translate(931.5 1494.3) rotate(-90)" font-size="12.1" text-anchor="middle" fill="#1A1A1A">Sensitivity</text>
<rect x="1309.5" y="1367.5" width="257.8" height="258.5" fill="#EBEBEB"/>
<line x1="1350.28" y1="1367.5" x2="1350.28" y2="1626" stroke="#F7F7F7" stroke-width="0.6"/>
<line x1="1309.5" y1="1584.99" x2="1567.3" y2="1584.99" stroke="#F7F7F7" stroke-width="0.6"/>
<line x1="1409.03" y1="1367.5" x2="1409.03" y2="1626" stroke="#F7F7F7" stroke-width="0.6"/>
<line x1="1309.5" y1="1526.16" x2="1567.3" y2="1526.16" stroke="#F7F7F7" stroke-width="0.6"/>
<line x1="1467.78" y1="1367.5" x2="1467.78" y2="1626" stroke="#F7F7F7" stroke-width="0.6"/>
<line x1="1309.5" y1="1467.34" x2="1567.3" y2="1467.34" stroke="#F7F7F7" stroke-width="0.6"/>
<line x1="1526.53" y1="1367.5" x2="1526.53" y2="1626" stroke="#F7F7F7" stroke-width="0.6"/>
<line x1="1309.5" y1="1408.51" x2="1567.3" y2="1408.51" stroke="#F7F7F7" stroke-width="0.6"/>
<line x1="1320.9" y1="1367.5" x2="1320.9" y2="1626" stroke="#FFFFFF" stroke-width="1.2"/>
<line x1="1309.5" y1="1614.4" x2="1567.3" y2="1614.4" stroke="#FFFFFF" stroke-width="1.2"/>
<line x1="1306.9" y1="1614.4" x2="1309.5" y2="1614.4" stroke="#333333" stroke-width="1"/>
<line x1="1320.9" y1="1626" x2="1320.9" y2="1628.6" stroke="#333333" stroke-width="1"/>
<text x="1304" y="1617.93" font-size="9.8" text-anchor="end" fill="#4D4D4D">0.00</text>
<text x="1320.9" y="1638.4" font-size="9.8" text-anchor="middle" fill="#4D4D4D">0.00</text>
<line x1="1379.65" y1="1367.5" x2="1379.65" y2="1626" stroke="#FFFFFF" stroke-width="1.2"/>
<line x1="1309.5" y1="1555.58" x2="1567.3" y2="1555.58" stroke="#FFFFFF" stroke-width="1.2"/>
<line x1="1306.9" y1="1555.58" x2="1309.5" y2="1555.58" stroke="#333333" stroke-width="1"/>
<line x1="1379.65" y1="1626" x2="1379.65" y2="1628.6" stroke="#333333" stroke-width="1"/>
<text x="1304" y="1559.1" font-size="9.8" text-anchor="end" fill="#4D4D4D">0.25</text>
<text x="1379.65" y="1638.4" font-size="9.8" text-anchor="middle" fill="#4D4D4D">0.25</text>
<line x1="1438.4" y1="1367.5" x2="1438.4" y2="1626" stroke="#FFFFFF" stroke-width="1.2"/>
<line x1="1309.5" y1="1496.75" x2="1567.3" y2="1496.75" stroke="#FFFFFF" stroke-width="1.2"/>
<line x1="1306.9" y1="1496.75" x2="1309.5" y2="1496.75" stroke="#333333" stroke-width="1"/>
<line x1="1438.4" y1="1626" x2="1438.4" y2="1628.6" stroke="#333333" stroke-width="1"/>
<text x="1304" y="1500.28" font-size="9.8" text-anchor="end" fill="#4D4D4D">0.50</text>
<text x="1438.4" y="1638.4" font-size="9.8" text-anchor="middle" fill="#4D4D4D">0.50</text>
<line x1="1497.15" y1="1367.5" x2="1497.15" y2="1626" stroke="#FFFFFF" stroke-width="1.2"/>
<line x1="1309.5" y1="1437.92" x2="1567.3" y2="1437.92" stroke="#FFFFFF" stroke-width="1.2"/>
<line x1="1306.9" y1="1437.92" x2="1309.5" y2="1437.92" stroke="#333333" stroke-width="1"/>
<line x1="1497.15" y1="1626" x2="1497.15" y2="1628.6" stroke="#333333" stroke-width="1"/>
<text x="1304" y="1441.45" font-size="9.8" text-anchor="end" fill="#4D4D4D">0.75</text>
<text x="1497.15" y="1638.4" font-size="9.8" text-anchor="middle" fill="#4D4D4D">0.75</text>
<line x1="1555.9" y1="1367.5" x2="1555.9" y2="1626" stroke="#FFFFFF" stroke-width="1.2"/>
<line x1="1309.5" y1="1379.1" x2="1567.3" y2="1379.1" stroke="#FFFFFF" stroke-width="1.2"/>
<line x1="1306.9" y1="1379.1" x2="1309.5" y2="1379.1" stroke="#333333" stroke-width="1"/>
<line x1="1555.9" y1="1626" x2="1555.9" y2="1628.6" stroke="#333333" stroke-width="1"/>
<text x="1304" y="1382.63" font-size="9.8" text-anchor="end" fill="#4D4D4D">1.00</text>
<text x="1555.9" y="1638.4" font-size="9.8" text-anchor="middle" fill="#4D4D4D">1.00</text>
<path d="M1320.9 1614.4 L1320.9 1571.62 L1331.12 1571.62 L1331.12 1550.23 L1341.33 1550.23 L1341.33 1443.27 L1382.2 1443.27 L1382.2 1421.88 L1423.07 1421.88 L1423.07 1400.49 L1515.03 1400.49 L1515.03 1379.1 L1555.9 1379.1" stroke="#000000" stroke-width="1.1" fill="none"/>
<circle cx="1341.33" cy="1443.27" r="2.6" fill="#000000"/>
<text x="1398.2" y="1572.7" font-size="19.4" fill="#000000">AUC=0.818</text>
<text x="1432.2" y="1359.7" font-size="24.5" text-anchor="middle" fill="#000000">VERHAAK_PRONEURAL</text>
<text x="1438.2" y="1652.4" font-size="12.1" text-anchor="middle" fill="#1A1A1A">1 - Specificity</text>
<text transform="translate(1276.8 1497.2) rotate(-90)" font-size="12.1" text-anchor="middle" fill="#1A1A1A">Sensitivity</text>
<rect x="1641" y="1368.1" width="265.8" height="260.3" fill="#EBEBEB"/>
<line x1="1682.68" y1="1368.1" x2="1682.68" y2="1628.4" stroke="#F7F7F7" stroke-width="0.6"/>
<line x1="1641" y1="1587.38" x2="1906.8" y2="1587.38" stroke="#F7F7F7" stroke-width="0.6"/>
<line x1="1743.22" y1="1368.1" x2="1743.22" y2="1628.4" stroke="#F7F7F7" stroke-width="0.6"/>
<line x1="1641" y1="1528.12" x2="1906.8" y2="1528.12" stroke="#F7F7F7" stroke-width="0.6"/>
<line x1="1803.78" y1="1368.1" x2="1803.78" y2="1628.4" stroke="#F7F7F7" stroke-width="0.6"/>
<line x1="1641" y1="1468.88" x2="1906.8" y2="1468.88" stroke="#F7F7F7" stroke-width="0.6"/>
<line x1="1864.32" y1="1368.1" x2="1864.32" y2="1628.4" stroke="#F7F7F7" stroke-width="0.6"/>
<line x1="1641" y1="1409.62" x2="1906.8" y2="1409.62" stroke="#F7F7F7" stroke-width="0.6"/>
<line x1="1652.4" y1="1368.1" x2="1652.4" y2="1628.4" stroke="#FFFFFF" stroke-width="1.2"/>
<line x1="1641" y1="1617" x2="1906.8" y2="1617" stroke="#FFFFFF" stroke-width="1.2"/>
<line x1="1638.4" y1="1617" x2="1641" y2="1617" stroke="#333333" stroke-width="1"/>
<line x1="1652.4" y1="1628.4" x2="1652.4" y2="1631" stroke="#333333" stroke-width="1"/>
<text x="1634.9" y="1620.1" font-size="8.6" text-anchor="end" fill="#4D4D4D">0.00</text>
<text x="1652.4" y="1639" font-size="8.6" text-anchor="middle" fill="#4D4D4D">0.00</text>
<line x1="1712.95" y1="1368.1" x2="1712.95" y2="1628.4" stroke="#FFFFFF" stroke-width="1.2"/>
<line x1="1641" y1="1557.75" x2="1906.8" y2="1557.75" stroke="#FFFFFF" stroke-width="1.2"/>
<line x1="1638.4" y1="1557.75" x2="1641" y2="1557.75" stroke="#333333" stroke-width="1"/>
<line x1="1712.95" y1="1628.4" x2="1712.95" y2="1631" stroke="#333333" stroke-width="1"/>
<text x="1634.9" y="1560.85" font-size="8.6" text-anchor="end" fill="#4D4D4D">0.25</text>
<text x="1712.95" y="1639" font-size="8.6" text-anchor="middle" fill="#4D4D4D">0.25</text>
<line x1="1773.5" y1="1368.1" x2="1773.5" y2="1628.4" stroke="#FFFFFF" stroke-width="1.2"/>
<line x1="1641" y1="1498.5" x2="1906.8" y2="1498.5" stroke="#FFFFFF" stroke-width="1.2"/>
<line x1="1638.4" y1="1498.5" x2="1641" y2="1498.5" stroke="#333333" stroke-width="1"/>
<line x1="1773.5" y1="1628.4" x2="1773.5" y2="1631" stroke="#333333" stroke-width="1"/>
<text x="1634.9" y="1501.6" font-size="8.6" text-anchor="end" fill="#4D4D4D">0.50</text>
<text x="1773.5" y="1639" font-size="8.6" text-anchor="middle" fill="#4D4D4D">0.50</text>
<line x1="1834.05" y1="1368.1" x2="1834.05" y2="1628.4" stroke="#FFFFFF" stroke-width="1.2"/>
<line x1="1641" y1="1439.25" x2="1906.8" y2="1439.25" stroke="#FFFFFF" stroke-width="1.2"/>
<line x1="1638.4" y1="1439.25" x2="1641" y2="1439.25" stroke="#333333" stroke-width="1"/>
<line x1="1834.05" y1="1628.4" x2="1834.05" y2="1631" stroke="#333333" stroke-width="1"/>
<text x="1634.9" y="1442.35" font-size="8.6" text-anchor="end" fill="#4D4D4D">0.75</text>
<text x="1834.05" y="1639" font-size="8.6" text-anchor="middle" fill="#4D4D4D">0.75</text>
<line x1="1894.6" y1="1368.1" x2="1894.6" y2="1628.4" stroke="#FFFFFF" stroke-width="1.2"/>
<line x1="1641" y1="1380" x2="1906.8" y2="1380" stroke="#FFFFFF" stroke-width="1.2"/>
<line x1="1638.4" y1="1380" x2="1641" y2="1380" stroke="#333333" stroke-width="1"/>
<line x1="1894.6" y1="1628.4" x2="1894.6" y2="1631" stroke="#333333" stroke-width="1"/>
<text x="1634.9" y="1383.1" font-size="8.6" text-anchor="end" fill="#4D4D4D">1.00</text>
<text x="1894.6" y="1639" font-size="8.6" text-anchor="middle" fill="#4D4D4D">1.00</text>
<path d="M1652.4 1617 L1652.4 1575.78 L1674.42 1575.78 L1674.42 1555.17 L1696.44 1555.17 L1696.44 1483.04 L1718.45 1483.04 L1718.45 1452.13 L1784.51 1452.13 L1784.51 1421.22 L1806.53 1421.22 L1806.53 1410.91 L1828.55 1410.91 L1828.55 1400.61 L1850.56 1400.61 L1850.56 1380 L1894.6 1380" stroke="#000000" stroke-width="1.1" fill="none"/>
<circle cx="1718.45" cy="1452.13" r="2.6" fill="#000000"/>
<text x="1745.7" y="1559.1" font-size="19.4" fill="#000000">AUC=0.700</text>
<text x="1778.2" y="1359.2" font-size="24.5" text-anchor="middle" fill="#000000">VERHAAK_CLASSICAL</text>
<text x="1773.6" y="1650.9" font-size="9.6" text-anchor="middle" fill="#1A1A1A">1 - Specificity</text>
<text transform="translate(1613.5 1498.3) rotate(-90)" font-size="9.6" text-anchor="middle" fill="#1A1A1A">Sensitivity</text>
<text x="1036.8" y="928.8" font-size="27.8" fill="#231F20" textLength="445" lengthAdjust="spacingAndGlyphs">Sample groups: Cluster 1, Cluster 2</text>
<line x1="948" y1="942.6" x2="1568.7" y2="942.6" stroke="#231F20" stroke-width="1.8"/>
<text x="1608.7" y="924.6" font-size="27.5" fill="#231F20">Sample groups: CT, PAN</text>
<line x1="1649.1" y1="942.8" x2="1904" y2="942.8" stroke="#231F20" stroke-width="1.8"/>
<text x="1195.7" y="1321" font-size="27.8" fill="#231F20" textLength="445" lengthAdjust="spacingAndGlyphs">Sample groups: Cluster 1, Cluster 2</text>
<line x1="961.2" y1="1328.2" x2="1903.6" y2="1328.2" stroke="#231F20" stroke-width="1.8"/>
<rect x="132.3" y="1794" width="369.1" height="296.3" fill="#FFFFFF"/>
<line x1="148.98" y1="1794" x2="148.98" y2="2090.3" stroke="#F2F2F2" stroke-width="0.7"/>
<line x1="283.22" y1="1794" x2="283.22" y2="2090.3" stroke="#F2F2F2" stroke-width="0.7"/>
<line x1="417.46" y1="1794" x2="417.46" y2="2090.3" stroke="#F2F2F2" stroke-width="0.7"/>
<line x1="132.3" y1="2047.28" x2="501.4" y2="2047.28" stroke="#F2F2F2" stroke-width="0.7"/>
<line x1="132.3" y1="1987.2" x2="501.4" y2="1987.2" stroke="#F2F2F2" stroke-width="0.7"/>
<line x1="132.3" y1="1927.12" x2="501.4" y2="1927.12" stroke="#F2F2F2" stroke-width="0.7"/>
<line x1="132.3" y1="1867.04" x2="501.4" y2="1867.04" stroke="#F2F2F2" stroke-width="0.7"/>
<line x1="132.3" y1="1806.96" x2="501.4" y2="1806.96" stroke="#F2F2F2" stroke-width="0.7"/>
<line x1="216.1" y1="1794" x2="216.1" y2="2090.3" stroke="#E5E5E5" stroke-width="1.1"/>
<line x1="350.34" y1="1794" x2="350.34" y2="2090.3" stroke="#E5E5E5" stroke-width="1.1"/>
<line x1="484.58" y1="1794" x2="484.58" y2="2090.3" stroke="#E5E5E5" stroke-width="1.1"/>
<line x1="132.3" y1="2077.32" x2="501.4" y2="2077.32" stroke="#E5E5E5" stroke-width="1.1"/>
<line x1="132.3" y1="2017.24" x2="501.4" y2="2017.24" stroke="#E5E5E5" stroke-width="1.1"/>
<line x1="132.3" y1="1957.16" x2="501.4" y2="1957.16" stroke="#E5E5E5" stroke-width="1.1"/>
<line x1="132.3" y1="1897.08" x2="501.4" y2="1897.08" stroke="#E5E5E5" stroke-width="1.1"/>
<line x1="132.3" y1="1837" x2="501.4" y2="1837" stroke="#E5E5E5" stroke-width="1.1"/>
<circle cx="281.5" cy="2056.47" r="2.5" fill="#F0776B"/>
<circle cx="275.12" cy="1985.48" r="2.5" fill="#F0776B"/>
<circle cx="275.62" cy="1993.62" r="2.5" fill="#F0776B"/>
<circle cx="224.31" cy="1938.4" r="2.5" fill="#F0776B"/>
<circle cx="312.19" cy="2006.26" r="2.5" fill="#F0776B"/>
<circle cx="333.39" cy="2065.94" r="2.5" fill="#F0776B"/>
<circle cx="288.35" cy="1920.42" r="2.5" fill="#F0776B"/>
<circle cx="193.75" cy="1911.86" r="2.5" fill="#F0776B"/>
<circle cx="242.46" cy="1910.12" r="2.5" fill="#F0776B"/>
<circle cx="266.85" cy="2037.95" r="2.5" fill="#F0776B"/>
<circle cx="291.39" cy="1969.53" r="2.5" fill="#F0776B"/>
<circle cx="268.92" cy="1934.94" r="2.5" fill="#F0776B"/>
<circle cx="335.04" cy="2037.46" r="2.5" fill="#F0776B"/>
<circle cx="251.47" cy="1928.67" r="2.5" fill="#F0776B"/>
<circle cx="221.37" cy="2021.41" r="2.5" fill="#F0776B"/>
<circle cx="316.73" cy="1950.73" r="2.5" fill="#F0776B"/>
<circle cx="316.82" cy="1909.1" r="2.5" fill="#F0776B"/>
<circle cx="324.55" cy="1964.38" r="2.5" fill="#F0776B"/>
<circle cx="261.56" cy="1912.81" r="2.5" fill="#F0776B"/>
<circle cx="308.37" cy="1933.81" r="2.5" fill="#F0776B"/>
<circle cx="253.6" cy="2065.78" r="2.5" fill="#F0776B"/>
<circle cx="227.24" cy="1930.77" r="2.5" fill="#F0776B"/>
<circle cx="220.1" cy="2028" r="2.5" fill="#F0776B"/>
<circle cx="281.44" cy="1960.57" r="2.5" fill="#F0776B"/>
<circle cx="302.64" cy="1917.76" r="2.5" fill="#F0776B"/>
<circle cx="227.05" cy="1956.18" r="2.5" fill="#F0776B"/>
<circle cx="245.88" cy="2067.4" r="2.5" fill="#F0776B"/>
<circle cx="250.1" cy="2047.46" r="2.5" fill="#F0776B"/>
<circle cx="261.17" cy="2040.6" r="2.5" fill="#F0776B"/>
<circle cx="244.47" cy="2022.77" r="2.5" fill="#F0776B"/>
<circle cx="249.14" cy="1912.84" r="2.5" fill="#F0776B"/>
<circle cx="284.32" cy="1930.34" r="2.5" fill="#F0776B"/>
<circle cx="258.4" cy="1961.54" r="2.5" fill="#F0776B"/>
<circle cx="272.16" cy="1983.08" r="2.5" fill="#F0776B"/>
<circle cx="235.2" cy="1920.07" r="2.5" fill="#F0776B"/>
<circle cx="313.19" cy="1931.17" r="2.5" fill="#F0776B"/>
<circle cx="303.57" cy="2060.23" r="2.5" fill="#F0776B"/>
<circle cx="329.45" cy="2046.86" r="2.5" fill="#F0776B"/>
<circle cx="264.51" cy="1915.29" r="2.5" fill="#F0776B"/>
<circle cx="330.99" cy="1929.76" r="2.5" fill="#F0776B"/>
<circle cx="244.31" cy="2033.82" r="2.5" fill="#F0776B"/>
<circle cx="248.79" cy="1922.34" r="2.5" fill="#F0776B"/>
<circle cx="221.19" cy="1928.51" r="2.5" fill="#F0776B"/>
<circle cx="317.44" cy="1990.61" r="2.5" fill="#F0776B"/>
<circle cx="325.42" cy="1925.58" r="2.5" fill="#F0776B"/>
<circle cx="183.31" cy="1960.29" r="2.5" fill="#F0776B"/>
<circle cx="234.39" cy="1947.99" r="2.5" fill="#F0776B"/>
<circle cx="228.91" cy="1946.98" r="2.5" fill="#F0776B"/>
<circle cx="333.18" cy="1998.94" r="2.5" fill="#F0776B"/>
<circle cx="284.53" cy="1918.68" r="2.5" fill="#F0776B"/>
<circle cx="331" cy="1909.72" r="2.5" fill="#F0776B"/>
<circle cx="271.98" cy="2013.88" r="2.5" fill="#F0776B"/>
<circle cx="335.49" cy="1912.98" r="2.5" fill="#F0776B"/>
<circle cx="303.27" cy="2050.95" r="2.5" fill="#F0776B"/>
<circle cx="299.18" cy="2027.19" r="2.5" fill="#F0776B"/>
<circle cx="255.96" cy="2004.58" r="2.5" fill="#F0776B"/>
<circle cx="319.74" cy="1955.6" r="2.5" fill="#F0776B"/>
<circle cx="318.8" cy="1982.75" r="2.5" fill="#F0776B"/>
<circle cx="259.71" cy="1984.59" r="2.5" fill="#F0776B"/>
<circle cx="222.6" cy="1995.48" r="2.5" fill="#F0776B"/>
<circle cx="320.81" cy="2013.41" r="2.5" fill="#F0776B"/>
<circle cx="303.03" cy="1984.27" r="2.5" fill="#F0776B"/>
<circle cx="315.72" cy="1913.63" r="2.5" fill="#F0776B"/>
<circle cx="216.4" cy="1988.11" r="2.5" fill="#F0776B"/>
<circle cx="241.02" cy="2007.26" r="2.5" fill="#F0776B"/>
<circle cx="288.22" cy="2055.61" r="2.5" fill="#F0776B"/>
<circle cx="214.13" cy="1938.07" r="2.5" fill="#F0776B"/>
<circle cx="237.63" cy="1921.71" r="2.5" fill="#F0776B"/>
<circle cx="293.81" cy="1959.66" r="2.5" fill="#F0776B"/>
<circle cx="252.9" cy="2000.72" r="2.5" fill="#F0776B"/>
<circle cx="265.67" cy="2029.94" r="2.5" fill="#F0776B"/>
<circle cx="320.87" cy="1950.4" r="2.5" fill="#F0776B"/>
<circle cx="251.62" cy="1918.27" r="2.5" fill="#F0776B"/>
<circle cx="315.56" cy="2039.34" r="2.5" fill="#F0776B"/>
<circle cx="329.43" cy="1934.75" r="2.5" fill="#F0776B"/>
<circle cx="268.1" cy="1934.53" r="2.5" fill="#F0776B"/>
<circle cx="263.59" cy="1992.82" r="2.5" fill="#F0776B"/>
<circle cx="251.48" cy="2037.21" r="2.5" fill="#F0776B"/>
<circle cx="268.32" cy="1912.93" r="2.5" fill="#F0776B"/>
<circle cx="319.95" cy="1910.73" r="2.5" fill="#F0776B"/>
<circle cx="282.83" cy="1939.2" r="2.5" fill="#F0776B"/>
<circle cx="215.09" cy="1918.24" r="2.5" fill="#F0776B"/>
<circle cx="215.78" cy="2035.13" r="2.5" fill="#F0776B"/>
<circle cx="230.05" cy="1911.05" r="2.5" fill="#F0776B"/>
<circle cx="267.59" cy="1993.64" r="2.5" fill="#F0776B"/>
<circle cx="311.91" cy="2064.46" r="2.5" fill="#F0776B"/>
<circle cx="237.23" cy="1965.26" r="2.5" fill="#F0776B"/>
<circle cx="214.07" cy="1964.76" r="2.5" fill="#F0776B"/>
<circle cx="234.74" cy="1934.16" r="2.5" fill="#F0776B"/>
<circle cx="298.39" cy="1973.18" r="2.5" fill="#F0776B"/>
<circle cx="305.63" cy="1951.83" r="2.5" fill="#F0776B"/>
<circle cx="324.06" cy="1913.9" r="2.5" fill="#F0776B"/>
<circle cx="301.47" cy="1917.66" r="2.5" fill="#F0776B"/>
<circle cx="289.58" cy="2053.19" r="2.5" fill="#F0776B"/>
<circle cx="282.61" cy="2046.21" r="2.5" fill="#F0776B"/>
<circle cx="328.73" cy="1963.31" r="2.5" fill="#F0776B"/>
<circle cx="237.91" cy="2012.11" r="2.5" fill="#F0776B"/>
<circle cx="291.55" cy="2011.22" r="2.5" fill="#F0776B"/>
<circle cx="323.29" cy="2069.66" r="2.5" fill="#F0776B"/>
<circle cx="278.7" cy="2026.65" r="2.5" fill="#F0776B"/>
<circle cx="324.52" cy="2040.92" r="2.5" fill="#F0776B"/>
<circle cx="222.91" cy="1959.49" r="2.5" fill="#F0776B"/>
<circle cx="307.11" cy="1967.38" r="2.5" fill="#F0776B"/>
<circle cx="312.13" cy="1912.17" r="2.5" fill="#F0776B"/>
<circle cx="233.98" cy="1942.93" r="2.5" fill="#F0776B"/>
<circle cx="230" cy="1919.51" r="2.5" fill="#F0776B"/>
<circle cx="301.62" cy="2037.4" r="2.5" fill="#F0776B"/>
<circle cx="328.91" cy="1968.27" r="2.5" fill="#F0776B"/>
<circle cx="223.31" cy="1927.66" r="2.5" fill="#F0776B"/>
<circle cx="248.39" cy="2013.54" r="2.5" fill="#F0776B"/>
<circle cx="276.96" cy="2038.21" r="2.5" fill="#F0776B"/>
<circle cx="251.03" cy="1949.91" r="2.5" fill="#F0776B"/>
<circle cx="323.36" cy="1926.08" r="2.5" fill="#F0776B"/>
<circle cx="331.7" cy="1973.86" r="2.5" fill="#F0776B"/>
<circle cx="237.43" cy="1975.97" r="2.5" fill="#F0776B"/>
<circle cx="287.08" cy="1910.01" r="2.5" fill="#F0776B"/>
<circle cx="276.13" cy="1952.95" r="2.5" fill="#F0776B"/>
<circle cx="281.88" cy="1968.01" r="2.5" fill="#F0776B"/>
<circle cx="220.84" cy="1976.48" r="2.5" fill="#F0776B"/>
<circle cx="330.28" cy="2056.29" r="2.5" fill="#F0776B"/>
<circle cx="270.86" cy="1917.38" r="2.5" fill="#F0776B"/>
<circle cx="312.94" cy="2051.04" r="2.5" fill="#F0776B"/>
<circle cx="251.71" cy="1924.13" r="2.5" fill="#F0776B"/>
<circle cx="326.39" cy="1917.62" r="2.5" fill="#F0776B"/>
<circle cx="215.54" cy="1924.43" r="2.5" fill="#F0776B"/>
<circle cx="297.13" cy="1941.06" r="2.5" fill="#F0776B"/>
<circle cx="288.87" cy="1915.38" r="2.5" fill="#F0776B"/>
<circle cx="227.83" cy="1971.41" r="2.5" fill="#F0776B"/>
<circle cx="237.03" cy="1974.96" r="2.5" fill="#F0776B"/>
<circle cx="258.9" cy="1954.99" r="2.5" fill="#F0776B"/>
<circle cx="232.36" cy="1925.61" r="2.5" fill="#F0776B"/>
<circle cx="291.17" cy="1974.83" r="2.5" fill="#F0776B"/>
<circle cx="287.88" cy="2041.14" r="2.5" fill="#F0776B"/>
<circle cx="303.73" cy="2030.93" r="2.5" fill="#F0776B"/>
<circle cx="251.54" cy="1940.04" r="2.5" fill="#F0776B"/>
<circle cx="239.54" cy="2073.92" r="2.5" fill="#F0776B"/>
<circle cx="229.19" cy="1929.88" r="2.5" fill="#F0776B"/>
<circle cx="244.62" cy="1914.71" r="2.5" fill="#F0776B"/>
<circle cx="264.53" cy="2026.47" r="2.5" fill="#F0776B"/>
<circle cx="262.22" cy="2004.6" r="2.5" fill="#F0776B"/>
<circle cx="180.56" cy="2004.03" r="2.5" fill="#F0776B"/>
<circle cx="331.69" cy="1916.31" r="2.5" fill="#F0776B"/>
<circle cx="305.87" cy="1970.06" r="2.5" fill="#F0776B"/>
<circle cx="235.96" cy="1912.63" r="2.5" fill="#F0776B"/>
<circle cx="217.34" cy="1978.84" r="2.5" fill="#F0776B"/>
<circle cx="282.6" cy="1919.3" r="2.5" fill="#F0776B"/>
<circle cx="237.79" cy="2037.46" r="2.5" fill="#F0776B"/>
<circle cx="326.59" cy="1914.56" r="2.5" fill="#F0776B"/>
<circle cx="329.62" cy="1963.03" r="2.5" fill="#F0776B"/>
<circle cx="252.89" cy="1963.86" r="2.5" fill="#F0776B"/>
<circle cx="265.57" cy="1988.05" r="2.5" fill="#F0776B"/>
<circle cx="200.7" cy="2038.35" r="2.5" fill="#F0776B"/>
<circle cx="268.5" cy="2015.73" r="2.5" fill="#F0776B"/>
<circle cx="236.71" cy="1921.22" r="2.5" fill="#F0776B"/>
<circle cx="299.3" cy="2042.03" r="2.5" fill="#F0776B"/>
<circle cx="262.43" cy="1987.79" r="2.5" fill="#F0776B"/>
<circle cx="333.45" cy="2029.69" r="2.5" fill="#F0776B"/>
<circle cx="324.68" cy="2016.79" r="2.5" fill="#F0776B"/>
<circle cx="312.81" cy="1953.75" r="2.5" fill="#F0776B"/>
<circle cx="320.81" cy="2006.54" r="2.5" fill="#F0776B"/>
<circle cx="306.74" cy="1953.77" r="2.5" fill="#F0776B"/>
<circle cx="221.41" cy="1943.92" r="2.5" fill="#F0776B"/>
<circle cx="214.05" cy="1946" r="2.5" fill="#F0776B"/>
<circle cx="289.39" cy="1928.97" r="2.5" fill="#F0776B"/>
<circle cx="294.56" cy="1943.35" r="2.5" fill="#F0776B"/>
<circle cx="282.7" cy="1975.46" r="2.5" fill="#F0776B"/>
<circle cx="335.56" cy="1996.04" r="2.5" fill="#F0776B"/>
<circle cx="306.31" cy="2069.57" r="2.5" fill="#F0776B"/>
<circle cx="288.33" cy="2015.61" r="2.5" fill="#F0776B"/>
<circle cx="262.07" cy="1911.27" r="2.5" fill="#F0776B"/>
<circle cx="258.89" cy="1914.83" r="2.5" fill="#F0776B"/>
<circle cx="323.98" cy="1978.54" r="2.5" fill="#F0776B"/>
<circle cx="331.54" cy="1981.85" r="2.5" fill="#F0776B"/>
<circle cx="291.11" cy="2030.71" r="2.5" fill="#F0776B"/>
<circle cx="286.14" cy="2019.92" r="2.5" fill="#F0776B"/>
<circle cx="326.99" cy="1920.68" r="2.5" fill="#F0776B"/>
<circle cx="233.52" cy="1968.79" r="2.5" fill="#F0776B"/>
<circle cx="277.45" cy="1987.46" r="2.5" fill="#F0776B"/>
<circle cx="247.84" cy="1998.57" r="2.5" fill="#F0776B"/>
<circle cx="247.57" cy="2011.01" r="2.5" fill="#F0776B"/>
<circle cx="214.47" cy="1930.59" r="2.5" fill="#F0776B"/>
<circle cx="231.98" cy="2018.94" r="2.5" fill="#F0776B"/>
<circle cx="322.99" cy="2017.62" r="2.5" fill="#F0776B"/>
<circle cx="334.19" cy="2061.18" r="2.5" fill="#F0776B"/>
<circle cx="323.97" cy="1957.61" r="2.5" fill="#F0776B"/>
<circle cx="332.28" cy="1930.43" r="2.5" fill="#F0776B"/>
<circle cx="327.87" cy="2012.27" r="2.5" fill="#F0776B"/>
<circle cx="332.97" cy="2032.28" r="2.5" fill="#F0776B"/>
<circle cx="226.88" cy="1992.53" r="2.5" fill="#F0776B"/>
<circle cx="237.76" cy="1911.37" r="2.5" fill="#F0776B"/>
<circle cx="228.01" cy="1959.81" r="2.5" fill="#F0776B"/>
<circle cx="268.7" cy="1932.8" r="2.5" fill="#F0776B"/>
<circle cx="264.27" cy="2023.9" r="2.5" fill="#F0776B"/>
<circle cx="335.28" cy="2063.09" r="2.5" fill="#F0776B"/>
<circle cx="242.03" cy="1916.17" r="2.5" fill="#F0776B"/>
<circle cx="309.08" cy="1992.67" r="2.5" fill="#F0776B"/>
<circle cx="246.09" cy="2004.56" r="2.5" fill="#F0776B"/>
<circle cx="285.42" cy="1994.25" r="2.5" fill="#F0776B"/>
<circle cx="236.06" cy="1931.1" r="2.5" fill="#F0776B"/>
<circle cx="325.22" cy="2046.09" r="2.5" fill="#F0776B"/>
<circle cx="220.21" cy="1933.97" r="2.5" fill="#F0776B"/>
<circle cx="289.31" cy="1915.17" r="2.5" fill="#F0776B"/>
<circle cx="221.65" cy="1913.84" r="2.5" fill="#F0776B"/>
<circle cx="280.38" cy="1993.86" r="2.5" fill="#F0776B"/>
<circle cx="271.52" cy="1926.36" r="2.5" fill="#F0776B"/>
<circle cx="304.23" cy="2037.09" r="2.5" fill="#F0776B"/>
<circle cx="227.46" cy="2030.64" r="2.5" fill="#F0776B"/>
<circle cx="307.17" cy="1926.66" r="2.5" fill="#F0776B"/>
<circle cx="244.44" cy="2030.79" r="2.5" fill="#F0776B"/>
<circle cx="293.03" cy="2071.73" r="2.5" fill="#F0776B"/>
<circle cx="280.13" cy="2017.15" r="2.5" fill="#F0776B"/>
<circle cx="265.27" cy="1948.06" r="2.5" fill="#F0776B"/>
<circle cx="320.24" cy="1913.22" r="2.5" fill="#F0776B"/>
<circle cx="282.05" cy="1966.93" r="2.5" fill="#F0776B"/>
<circle cx="249.45" cy="2023.37" r="2.5" fill="#F0776B"/>
<circle cx="238.94" cy="1999.96" r="2.5" fill="#F0776B"/>
<circle cx="250.06" cy="2012.74" r="2.5" fill="#F0776B"/>
<circle cx="247.49" cy="1918.93" r="2.5" fill="#F0776B"/>
<circle cx="301.92" cy="1947.63" r="2.5" fill="#F0776B"/>
<circle cx="299.86" cy="1982.09" r="2.5" fill="#F0776B"/>
<circle cx="328.2" cy="2053.97" r="2.5" fill="#F0776B"/>
<circle cx="311.38" cy="1938.6" r="2.5" fill="#F0776B"/>
<circle cx="261.83" cy="2058.9" r="2.5" fill="#F0776B"/>
<circle cx="243.24" cy="1946.91" r="2.5" fill="#F0776B"/>
<circle cx="257.37" cy="1952.16" r="2.5" fill="#F0776B"/>
<circle cx="236.69" cy="1981.07" r="2.5" fill="#F0776B"/>
<circle cx="279.14" cy="2036.61" r="2.5" fill="#F0776B"/>
<circle cx="234.43" cy="2019.85" r="2.5" fill="#F0776B"/>
<circle cx="247.31" cy="1909.76" r="2.5" fill="#F0776B"/>
<circle cx="279.58" cy="1981.75" r="2.5" fill="#F0776B"/>
<circle cx="292.73" cy="2029.58" r="2.5" fill="#F0776B"/>
<circle cx="279.91" cy="2026.07" r="2.5" fill="#F0776B"/>
<circle cx="222.78" cy="2015.25" r="2.5" fill="#F0776B"/>
<circle cx="223.15" cy="1994.45" r="2.5" fill="#F0776B"/>
<circle cx="304.35" cy="1997.37" r="2.5" fill="#F0776B"/>
<circle cx="239.82" cy="2021.21" r="2.5" fill="#F0776B"/>
<circle cx="306.67" cy="1951.96" r="2.5" fill="#F0776B"/>
<circle cx="331.68" cy="2002.02" r="2.5" fill="#F0776B"/>
<circle cx="278.75" cy="2011.9" r="2.5" fill="#F0776B"/>
<circle cx="325.13" cy="1954.55" r="2.5" fill="#F0776B"/>
<circle cx="294.64" cy="2040.41" r="2.5" fill="#F0776B"/>
<circle cx="315.16" cy="2048.32" r="2.5" fill="#F0776B"/>
<circle cx="291.39" cy="1973.8" r="2.5" fill="#F0776B"/>
<circle cx="311.28" cy="1956.32" r="2.5" fill="#F0776B"/>
<circle cx="230.7" cy="2016.12" r="2.5" fill="#F0776B"/>
<circle cx="258.87" cy="1921.5" r="2.5" fill="#F0776B"/>
<circle cx="264.94" cy="1936.82" r="2.5" fill="#F0776B"/>
<circle cx="220.02" cy="1939.11" r="2.5" fill="#F0776B"/>
<circle cx="292.34" cy="2023.47" r="2.5" fill="#F0776B"/>
<circle cx="220.4" cy="1962.47" r="2.5" fill="#F0776B"/>
<circle cx="324.43" cy="1910.45" r="2.5" fill="#F0776B"/>
<circle cx="235.41" cy="1927.17" r="2.5" fill="#F0776B"/>
<circle cx="300.84" cy="1986.88" r="2.5" fill="#F0776B"/>
<circle cx="235.47" cy="1935.33" r="2.5" fill="#F0776B"/>
<circle cx="305.79" cy="1939.58" r="2.5" fill="#F0776B"/>
<circle cx="313.11" cy="1966.01" r="2.5" fill="#F0776B"/>
<circle cx="321.75" cy="2054.18" r="2.5" fill="#F0776B"/>
<circle cx="279.97" cy="2064.12" r="2.5" fill="#F0776B"/>
<circle cx="239.89" cy="1911.22" r="2.5" fill="#F0776B"/>
<circle cx="311.18" cy="1950.49" r="2.5" fill="#F0776B"/>
<circle cx="276.1" cy="1934.45" r="2.5" fill="#F0776B"/>
<circle cx="293.51" cy="1929.66" r="2.5" fill="#F0776B"/>
<circle cx="191.51" cy="1948.42" r="2.5" fill="#F0776B"/>
<circle cx="300.36" cy="1989.03" r="2.5" fill="#F0776B"/>
<circle cx="232.02" cy="1941.02" r="2.5" fill="#F0776B"/>
<circle cx="319.51" cy="1972.42" r="2.5" fill="#F0776B"/>
<circle cx="334.73" cy="1933.38" r="2.5" fill="#F0776B"/>
<circle cx="231.25" cy="2022.28" r="2.5" fill="#F0776B"/>
<circle cx="205.55" cy="2038.78" r="2.5" fill="#F0776B"/>
<circle cx="222.87" cy="1933.83" r="2.5" fill="#F0776B"/>
<circle cx="224.68" cy="1966.11" r="2.5" fill="#F0776B"/>
<circle cx="330.11" cy="1985.34" r="2.5" fill="#F0776B"/>
<circle cx="250.03" cy="2026.34" r="2.5" fill="#F0776B"/>
<circle cx="325.35" cy="1914.2" r="2.5" fill="#F0776B"/>
<circle cx="238.34" cy="1977.32" r="2.5" fill="#F0776B"/>
<circle cx="232.1" cy="2035.64" r="2.5" fill="#F0776B"/>
<circle cx="250.91" cy="1913.04" r="2.5" fill="#F0776B"/>
<circle cx="270.13" cy="2010.71" r="2.5" fill="#F0776B"/>
<circle cx="297.14" cy="1915.45" r="2.5" fill="#F0776B"/>
<circle cx="269.46" cy="2066.45" r="2.5" fill="#F0776B"/>
<circle cx="293.07" cy="1909.38" r="2.5" fill="#F0776B"/>
<circle cx="299.95" cy="1929.64" r="2.5" fill="#F0776B"/>
<circle cx="269.01" cy="1909.32" r="2.5" fill="#F0776B"/>
<circle cx="310.94" cy="1925.9" r="2.5" fill="#F0776B"/>
<circle cx="248.41" cy="1949.1" r="2.5" fill="#F0776B"/>
<circle cx="249.37" cy="1943.28" r="2.5" fill="#F0776B"/>
<circle cx="294.63" cy="1932.06" r="2.5" fill="#F0776B"/>
<circle cx="302.59" cy="1942.11" r="2.5" fill="#F0776B"/>
<circle cx="281.87" cy="2012.49" r="2.5" fill="#F0776B"/>
<circle cx="314.31" cy="1914.31" r="2.5" fill="#F0776B"/>
<circle cx="224.34" cy="2003.08" r="2.5" fill="#F0776B"/>
<circle cx="234.84" cy="1953.22" r="2.5" fill="#F0776B"/>
<circle cx="285.55" cy="1914.14" r="2.5" fill="#F0776B"/>
<circle cx="232.04" cy="1917.11" r="2.5" fill="#F0776B"/>
<circle cx="275.58" cy="1997.02" r="2.5" fill="#F0776B"/>
<circle cx="313.6" cy="1950.64" r="2.5" fill="#F0776B"/>
<circle cx="263.37" cy="1909.49" r="2.5" fill="#F0776B"/>
<circle cx="298.71" cy="2070.01" r="2.5" fill="#F0776B"/>
<circle cx="293.84" cy="1989.51" r="2.5" fill="#F0776B"/>
<circle cx="185.8" cy="1944" r="2.5" fill="#F0776B"/>
<circle cx="221.87" cy="1897.25" r="2.5" fill="#6A96D6"/>
<circle cx="306.31" cy="1897.63" r="2.5" fill="#6A96D6"/>
<circle cx="227.99" cy="1906" r="2.5" fill="#6A96D6"/>
<circle cx="250.8" cy="1879.41" r="2.5" fill="#6A96D6"/>
<circle cx="226.04" cy="1899.84" r="2.5" fill="#6A96D6"/>
<circle cx="293.42" cy="1869.52" r="2.5" fill="#6A96D6"/>
<circle cx="232.55" cy="1890.84" r="2.5" fill="#6A96D6"/>
<circle cx="219.17" cy="1902.51" r="2.5" fill="#6A96D6"/>
<circle cx="277.1" cy="1905.07" r="2.5" fill="#6A96D6"/>
<circle cx="251.81" cy="1897.42" r="2.5" fill="#6A96D6"/>
<circle cx="223.96" cy="1901.74" r="2.5" fill="#6A96D6"/>
<circle cx="273.22" cy="1907.86" r="2.5" fill="#6A96D6"/>
<circle cx="275.21" cy="1906.37" r="2.5" fill="#6A96D6"/>
<circle cx="305.41" cy="1878.94" r="2.5" fill="#6A96D6"/>
<circle cx="223.79" cy="1903.94" r="2.5" fill="#6A96D6"/>
<circle cx="237.68" cy="1898.92" r="2.5" fill="#6A96D6"/>
<circle cx="306.97" cy="1902.24" r="2.5" fill="#6A96D6"/>
<circle cx="213.15" cy="1893.09" r="2.5" fill="#6A96D6"/>
<circle cx="325.32" cy="1890.29" r="2.5" fill="#6A96D6"/>
<circle cx="288.23" cy="1901.57" r="2.5" fill="#6A96D6"/>
<circle cx="254.22" cy="1888.2" r="2.5" fill="#6A96D6"/>
<circle cx="185.21" cy="1895.48" r="2.5" fill="#6A96D6"/>
<circle cx="226.18" cy="1895.54" r="2.5" fill="#6A96D6"/>
<circle cx="270.44" cy="1897.35" r="2.5" fill="#6A96D6"/>
<circle cx="276.11" cy="1899.33" r="2.5" fill="#6A96D6"/>
<circle cx="199.45" cy="1891.87" r="2.5" fill="#6A96D6"/>
<circle cx="322.07" cy="1896.51" r="2.5" fill="#6A96D6"/>
<circle cx="282.66" cy="1899.94" r="2.5" fill="#6A96D6"/>
<circle cx="298.43" cy="1908.92" r="2.5" fill="#6A96D6"/>
<circle cx="307.85" cy="1893.16" r="2.5" fill="#6A96D6"/>
<circle cx="257.43" cy="1892.76" r="2.5" fill="#6A96D6"/>
<circle cx="271.17" cy="1901.9" r="2.5" fill="#6A96D6"/>
<circle cx="260.16" cy="1899.08" r="2.5" fill="#6A96D6"/>
<circle cx="294.61" cy="1902.22" r="2.5" fill="#6A96D6"/>
<circle cx="295.37" cy="1890.22" r="2.5" fill="#6A96D6"/>
<circle cx="279.09" cy="1895.83" r="2.5" fill="#6A96D6"/>
<circle cx="224.01" cy="1893.66" r="2.5" fill="#6A96D6"/>
<circle cx="215.49" cy="1903.75" r="2.5" fill="#6A96D6"/>
<circle cx="271.2" cy="1908.29" r="2.5" fill="#6A96D6"/>
<circle cx="237.09" cy="1897.31" r="2.5" fill="#6A96D6"/>
<circle cx="316.43" cy="1889.09" r="2.5" fill="#6A96D6"/>
<circle cx="258.89" cy="1904.82" r="2.5" fill="#6A96D6"/>
<circle cx="235.44" cy="1908.72" r="2.5" fill="#6A96D6"/>
<circle cx="220.97" cy="1891.23" r="2.5" fill="#6A96D6"/>
<circle cx="223.93" cy="1876.1" r="2.5" fill="#6A96D6"/>
<circle cx="186.55" cy="1901.16" r="2.5" fill="#6A96D6"/>
<circle cx="247.53" cy="1881.99" r="2.5" fill="#6A96D6"/>
<circle cx="256.05" cy="1897.84" r="2.5" fill="#6A96D6"/>
<circle cx="278.16" cy="1905.76" r="2.5" fill="#6A96D6"/>
<circle cx="245.55" cy="1908.11" r="2.5" fill="#6A96D6"/>
<circle cx="319.09" cy="1893.62" r="2.5" fill="#6A96D6"/>
<circle cx="244.08" cy="1906.87" r="2.5" fill="#6A96D6"/>
<circle cx="314.73" cy="1900.25" r="2.5" fill="#6A96D6"/>
<circle cx="264.89" cy="1884.26" r="2.5" fill="#6A96D6"/>
<circle cx="312.72" cy="1899.82" r="2.5" fill="#6A96D6"/>
<circle cx="231.88" cy="1908.83" r="2.5" fill="#6A96D6"/>
<circle cx="215.26" cy="1891.63" r="2.5" fill="#6A96D6"/>
<circle cx="368.96" cy="1945.59" r="2.5" fill="#22AE48"/>
<circle cx="389.6" cy="2015.56" r="2.5" fill="#22AE48"/>
<circle cx="375.04" cy="1921.31" r="2.5" fill="#22AE48"/>
<circle cx="362.21" cy="1966.79" r="2.5" fill="#22AE48"/>
<circle cx="408.51" cy="1915.19" r="2.5" fill="#22AE48"/>
<circle cx="341.54" cy="2015.05" r="2.5" fill="#22AE48"/>
<circle cx="364.13" cy="1929.02" r="2.5" fill="#22AE48"/>
<circle cx="346.83" cy="2006.23" r="2.5" fill="#22AE48"/>
<circle cx="358.34" cy="2030.81" r="2.5" fill="#22AE48"/>
<circle cx="369.94" cy="2049.94" r="2.5" fill="#22AE48"/>
<circle cx="370.99" cy="1992.29" r="2.5" fill="#22AE48"/>
<circle cx="340.5" cy="2058.76" r="2.5" fill="#22AE48"/>
<circle cx="363.94" cy="2006.7" r="2.5" fill="#22AE48"/>
<circle cx="344.64" cy="1916.31" r="2.5" fill="#22AE48"/>
<circle cx="382.31" cy="2070.68" r="2.5" fill="#22AE48"/>
<circle cx="373.67" cy="1981.62" r="2.5" fill="#22AE48"/>
<circle cx="351.38" cy="1912.06" r="2.5" fill="#22AE48"/>
<circle cx="358.27" cy="1936.48" r="2.5" fill="#22AE48"/>
<circle cx="352.37" cy="2033.36" r="2.5" fill="#22AE48"/>
<circle cx="359.45" cy="2023.89" r="2.5" fill="#22AE48"/>
<circle cx="350.66" cy="1935.77" r="2.5" fill="#22AE48"/>
<circle cx="344.3" cy="1927.7" r="2.5" fill="#22AE48"/>
<circle cx="376.85" cy="2052.55" r="2.5" fill="#22AE48"/>
<circle cx="345.32" cy="1969.58" r="2.5" fill="#22AE48"/>
<circle cx="337.56" cy="2022.88" r="2.5" fill="#22AE48"/>
<circle cx="392.45" cy="1976.18" r="2.5" fill="#22AE48"/>
<circle cx="386.06" cy="1926.86" r="2.5" fill="#22AE48"/>
<circle cx="380.44" cy="1952.81" r="2.5" fill="#22AE48"/>
<circle cx="352.9" cy="2005.03" r="2.5" fill="#22AE48"/>
<circle cx="344.91" cy="1977.18" r="2.5" fill="#22AE48"/>
<circle cx="374.94" cy="2041.91" r="2.5" fill="#22AE48"/>
<circle cx="352.6" cy="2063.98" r="2.5" fill="#22AE48"/>
<circle cx="372.69" cy="1926.1" r="2.5" fill="#22AE48"/>
<circle cx="340.5" cy="1995.63" r="2.5" fill="#22AE48"/>
<circle cx="355.94" cy="1934.29" r="2.5" fill="#22AE48"/>
<circle cx="388.56" cy="2030.02" r="2.5" fill="#22AE48"/>
<circle cx="357.2" cy="2030.93" r="2.5" fill="#22AE48"/>
<circle cx="340.21" cy="1932.34" r="2.5" fill="#22AE48"/>
<circle cx="374.11" cy="1990.49" r="2.5" fill="#22AE48"/>
<circle cx="345.56" cy="1993.56" r="2.5" fill="#22AE48"/>
<circle cx="336.97" cy="2015.86" r="2.5" fill="#22AE48"/>
<circle cx="395.65" cy="1926.88" r="2.5" fill="#22AE48"/>
<circle cx="365.76" cy="1923.34" r="2.5" fill="#22AE48"/>
<circle cx="374.4" cy="1965.02" r="2.5" fill="#22AE48"/>
<circle cx="341.12" cy="1966.2" r="2.5" fill="#22AE48"/>
<circle cx="341.6" cy="1914.55" r="2.5" fill="#22AE48"/>
<circle cx="394.4" cy="2054.69" r="2.5" fill="#22AE48"/>
<circle cx="373.53" cy="2031.03" r="2.5" fill="#22AE48"/>
<circle cx="353.84" cy="1934.66" r="2.5" fill="#22AE48"/>
<circle cx="353.79" cy="1911.8" r="2.5" fill="#22AE48"/>
<circle cx="359.02" cy="1945.8" r="2.5" fill="#22AE48"/>
<circle cx="365.39" cy="1938.45" r="2.5" fill="#22AE48"/>
<circle cx="364.06" cy="1992.07" r="2.5" fill="#22AE48"/>
<circle cx="387.64" cy="1925.8" r="2.5" fill="#22AE48"/>
<circle cx="368.43" cy="1937.03" r="2.5" fill="#22AE48"/>
<circle cx="363.41" cy="2038.96" r="2.5" fill="#22AE48"/>
<circle cx="378.56" cy="2030.05" r="2.5" fill="#22AE48"/>
<circle cx="367.63" cy="1953.57" r="2.5" fill="#22AE48"/>
<circle cx="349.33" cy="1931.68" r="2.5" fill="#22AE48"/>
<circle cx="346.21" cy="1974.38" r="2.5" fill="#22AE48"/>
<circle cx="338.66" cy="2024.99" r="2.5" fill="#22AE48"/>
<circle cx="354.85" cy="1968.51" r="2.5" fill="#22AE48"/>
<circle cx="338.48" cy="2021.77" r="2.5" fill="#22AE48"/>
<circle cx="360.1" cy="2051.11" r="2.5" fill="#22AE48"/>
<circle cx="342.75" cy="1922.1" r="2.5" fill="#22AE48"/>
<circle cx="358.11" cy="1963.32" r="2.5" fill="#22AE48"/>
<circle cx="353.81" cy="1914.94" r="2.5" fill="#22AE48"/>
<circle cx="441.8" cy="2025.39" r="2.5" fill="#22AE48"/>
<circle cx="359.85" cy="2019.63" r="2.5" fill="#22AE48"/>
<circle cx="340.02" cy="1985.39" r="2.5" fill="#22AE48"/>
<circle cx="361.34" cy="1935.17" r="2.5" fill="#22AE48"/>
<circle cx="409.54" cy="1953.51" r="2.5" fill="#22AE48"/>
<circle cx="354.81" cy="1949.28" r="2.5" fill="#22AE48"/>
<circle cx="380.88" cy="1911.59" r="2.5" fill="#22AE48"/>
<circle cx="346.98" cy="1904.29" r="2.5" fill="#BDBDBD"/>
<circle cx="370.48" cy="1904.29" r="2.5" fill="#BDBDBD"/>
<circle cx="387.26" cy="1879.06" r="2.5" fill="#BDBDBD"/>
<line x1="336.8" y1="1794" x2="336.8" y2="2090.3" stroke="#1A1A1A" stroke-width="1.7" stroke-dasharray="5.5 5.5"/>
<line x1="132.3" y1="1909.3" x2="501.4" y2="1909.3" stroke="#1A1A1A" stroke-width="1.7" stroke-dasharray="5.5 5.5"/>
<rect x="132.3" y="1794" width="369.1" height="296.3" fill="none" stroke="#CCCCCC" stroke-width="1"/>
<text x="125.8" y="2081.72" font-size="12.2" text-anchor="end" fill="#4D4D4D">5000</text>
<text x="125.8" y="2021.64" font-size="12.2" text-anchor="end" fill="#4D4D4D">6000</text>
<text x="125.8" y="1961.56" font-size="12.2" text-anchor="end" fill="#4D4D4D">7000</text>
<text x="125.8" y="1901.48" font-size="12.2" text-anchor="end" fill="#4D4D4D">8000</text>
<text x="125.8" y="1841.4" font-size="12.2" text-anchor="end" fill="#4D4D4D">9000</text>
<text x="216.1" y="2104.9" font-size="12.2" text-anchor="middle" fill="#4D4D4D">2000</text>
<text x="350.34" y="2104.9" font-size="12.2" text-anchor="middle" fill="#4D4D4D">4000</text>
<text x="484.58" y="2104.9" font-size="12.2" text-anchor="middle" fill="#4D4D4D">6000</text>
<text x="321" y="2133" font-size="20.3" text-anchor="middle" fill="#231F20" textLength="284" lengthAdjust="spacingAndGlyphs">KRAS_targets (ssGSEA score)</text>
<text transform="translate(79.2 1940.5) rotate(-90)" font-size="19.8" text-anchor="middle" fill="#231F20" textLength="251" lengthAdjust="spacingAndGlyphs">MYC_targets (ssGSEA score)</text>
<text x="159.5" y="1830.5" font-size="13.6" fill="#231F20">13.13%</text>
<text x="432" y="1830.5" font-size="13.6" fill="#231F20">0.69%</text>
<text x="159" y="2069.7" font-size="13.6" fill="#231F20">69.12%</text>
<text x="428.6" y="2069.7" font-size="13.6" fill="#231F20">17.05%</text>
<text x="182.3" y="1715.7" font-size="21.5" fill="#231F20">GBM_G983−C</text>
<text x="340.5" y="1715.7" font-size="18.2" fill="#231F20">No. cells=434</text>
<rect x="158.1" y="1726.4" width="310.4" height="63.9" fill="#FFFFFF" stroke="#B0B0B0" stroke-width="1"/>
<text x="319.4" y="1744.2" font-size="20" text-anchor="middle" fill="#231F20">cell group</text>
<circle cx="169.7" cy="1760.2" r="2.8" fill="#F0776B"/>
<text x="184.3" y="1765.3" font-size="14.5" fill="#231F20">Central group</text>
<circle cx="169.7" cy="1777.9" r="2.8" fill="#22AE48"/>
<text x="184.3" y="1782.7" font-size="14.5" fill="#231F20">KRAS_targets high</text>
<circle cx="331.5" cy="1761.6" r="2.8" fill="#6A96D6"/>
<text x="345.5" y="1766.7" font-size="14.5" fill="#231F20">MYC_targets high</text>
<circle cx="331.5" cy="1778.5" r="2.8" fill="#BDBDBD"/>
<text x="345.5" y="1783.6" font-size="14.5" fill="#231F20">Other</text>
<line x1="834.2" y1="1743.3" x2="834.2" y2="2092.3" stroke="#F2F2F2" stroke-width="0.7"/>
<line x1="966.4" y1="1743.3" x2="966.4" y2="2092.3" stroke="#F2F2F2" stroke-width="0.7"/>
<line x1="1098.6" y1="1743.3" x2="1098.6" y2="2092.3" stroke="#F2F2F2" stroke-width="0.7"/>
<line x1="734.7" y1="2031" x2="1188.3" y2="2031" stroke="#F2F2F2" stroke-width="0.7"/>
<line x1="734.7" y1="1939.4" x2="1188.3" y2="1939.4" stroke="#F2F2F2" stroke-width="0.7"/>
<line x1="734.7" y1="1847.8" x2="1188.3" y2="1847.8" stroke="#F2F2F2" stroke-width="0.7"/>
<line x1="734.7" y1="1756.2" x2="1188.3" y2="1756.2" stroke="#F2F2F2" stroke-width="0.7"/>
<line x1="768.1" y1="1743.3" x2="768.1" y2="2092.3" stroke="#E5E5E5" stroke-width="1.1"/>
<line x1="900.3" y1="1743.3" x2="900.3" y2="2092.3" stroke="#E5E5E5" stroke-width="1.1"/>
<line x1="1032.5" y1="1743.3" x2="1032.5" y2="2092.3" stroke="#E5E5E5" stroke-width="1.1"/>
<line x1="1164.7" y1="1743.3" x2="1164.7" y2="2092.3" stroke="#E5E5E5" stroke-width="1.1"/>
<line x1="734.7" y1="2076.8" x2="1188.3" y2="2076.8" stroke="#E5E5E5" stroke-width="1.1"/>
<line x1="734.7" y1="1985.2" x2="1188.3" y2="1985.2" stroke="#E5E5E5" stroke-width="1.1"/>
<line x1="734.7" y1="1893.6" x2="1188.3" y2="1893.6" stroke="#E5E5E5" stroke-width="1.1"/>
<line x1="734.7" y1="1802" x2="1188.3" y2="1802" stroke="#E5E5E5" stroke-width="1.1"/>
<path d="M754.22 2056.62 C758.82 2044.18 772.89 2011.17 781.82 1981.95 C790.75 1952.73 800.22 1909.98 807.79 1881.3 C815.37 1852.62 821.32 1828.81 827.27 1809.87 C833.23 1790.93 838.8 1776.16 843.51 1767.66 C848.21 1759.17 852 1759.44 855.52 1758.9 C859.04 1758.35 861.74 1760.79 864.61 1764.42 C867.48 1768.04 869.75 1771.99 872.73 1780.65 C875.7 1789.31 879.22 1803.92 882.47 1816.36 C885.71 1828.81 888.42 1845.04 892.21 1855.32 C896 1865.61 900.6 1870.48 905.19 1878.05 C909.79 1885.63 914.94 1892.66 919.81 1900.78 C924.68 1908.9 929.82 1915.93 934.42 1926.75 C939.02 1937.58 943.07 1953.81 947.4 1965.71 C951.73 1977.62 956.06 1990.61 960.39 1998.18 C964.72 2005.76 968.51 2008.73 973.38 2011.17 C978.25 2013.6 983.66 2012.9 989.61 2012.79 C995.56 2012.68 1003.14 2009.98 1009.09 2010.52 C1015.04 2011.06 1019.37 2011.6 1025.32 2016.04 C1031.28 2020.48 1037.77 2031.73 1044.81 2037.14 C1051.84 2042.55 1059.42 2046.72 1067.53 2048.51 C1075.65 2050.29 1084.85 2048.4 1093.51 2047.86 C1102.16 2047.32 1110.28 2046.5 1119.48 2045.26 C1128.68 2044.02 1140.58 2039.58 1148.7 2040.39 C1156.82 2041.2 1164.94 2048.51 1168.18 2050.13 L1168.18 2076.8 L754.22 2076.8 Z" stroke="none" stroke-width="1" fill="#F0776B" fill-opacity="0.28"/>
<path d="M754.22 2056.62 C758.82 2044.18 772.89 2011.17 781.82 1981.95 C790.75 1952.73 800.22 1909.98 807.79 1881.3 C815.37 1852.62 821.32 1828.81 827.27 1809.87 C833.23 1790.93 838.8 1776.16 843.51 1767.66 C848.21 1759.17 852 1759.44 855.52 1758.9 C859.04 1758.35 861.74 1760.79 864.61 1764.42 C867.48 1768.04 869.75 1771.99 872.73 1780.65 C875.7 1789.31 879.22 1803.92 882.47 1816.36 C885.71 1828.81 888.42 1845.04 892.21 1855.32 C896 1865.61 900.6 1870.48 905.19 1878.05 C909.79 1885.63 914.94 1892.66 919.81 1900.78 C924.68 1908.9 929.82 1915.93 934.42 1926.75 C939.02 1937.58 943.07 1953.81 947.4 1965.71 C951.73 1977.62 956.06 1990.61 960.39 1998.18 C964.72 2005.76 968.51 2008.73 973.38 2011.17 C978.25 2013.6 983.66 2012.9 989.61 2012.79 C995.56 2012.68 1003.14 2009.98 1009.09 2010.52 C1015.04 2011.06 1019.37 2011.6 1025.32 2016.04 C1031.28 2020.48 1037.77 2031.73 1044.81 2037.14 C1051.84 2042.55 1059.42 2046.72 1067.53 2048.51 C1075.65 2050.29 1084.85 2048.4 1093.51 2047.86 C1102.16 2047.32 1110.28 2046.5 1119.48 2045.26 C1128.68 2044.02 1140.58 2039.58 1148.7 2040.39 C1156.82 2041.2 1164.94 2048.51 1168.18 2050.13" stroke="#F0776B" stroke-width="1.6" fill="none"/>
<path d="M754.22 2067.99 C758.82 2063.93 772.89 2057.98 781.82 2043.64 C790.75 2029.3 800.22 2003.59 807.79 1981.95 C815.37 1960.3 820.78 1937.03 827.27 1913.77 C833.77 1890.5 840.26 1861.28 846.75 1842.34 C853.25 1823.4 860.01 1809.44 866.23 1800.13 C872.46 1790.82 878.14 1788.23 884.09 1786.49 C890.04 1784.76 895.73 1788.55 901.95 1789.74 C908.17 1790.93 915.48 1791.09 921.43 1793.64 C927.38 1796.18 932.79 1798.51 937.66 1805 C942.53 1811.49 946.32 1819.88 950.65 1832.6 C954.98 1845.31 959.31 1863.98 963.64 1881.3 C967.97 1898.61 972.29 1919.18 976.62 1936.49 C980.95 1953.81 984.74 1970.58 989.61 1985.19 C994.48 1999.81 999.89 2012.25 1005.84 2024.16 C1011.8 2036.06 1018.29 2048.51 1025.32 2056.62 C1032.36 2064.74 1038.85 2069.5 1048.05 2072.86 C1057.25 2076.21 1069.7 2076.48 1080.52 2076.75 C1091.34 2077.02 1103.25 2075.94 1112.99 2074.48 C1122.73 2073.02 1132.47 2069.45 1138.96 2067.99 C1145.45 2066.53 1147.08 2065.71 1151.95 2065.71 C1156.82 2065.71 1165.48 2067.61 1168.18 2067.99 L1168.18 2076.8 L754.22 2076.8 Z" stroke="none" stroke-width="1" fill="#22AE48" fill-opacity="0.28"/>
<path d="M754.22 2067.99 C758.82 2063.93 772.89 2057.98 781.82 2043.64 C790.75 2029.3 800.22 2003.59 807.79 1981.95 C815.37 1960.3 820.78 1937.03 827.27 1913.77 C833.77 1890.5 840.26 1861.28 846.75 1842.34 C853.25 1823.4 860.01 1809.44 866.23 1800.13 C872.46 1790.82 878.14 1788.23 884.09 1786.49 C890.04 1784.76 895.73 1788.55 901.95 1789.74 C908.17 1790.93 915.48 1791.09 921.43 1793.64 C927.38 1796.18 932.79 1798.51 937.66 1805 C942.53 1811.49 946.32 1819.88 950.65 1832.6 C954.98 1845.31 959.31 1863.98 963.64 1881.3 C967.97 1898.61 972.29 1919.18 976.62 1936.49 C980.95 1953.81 984.74 1970.58 989.61 1985.19 C994.48 1999.81 999.89 2012.25 1005.84 2024.16 C1011.8 2036.06 1018.29 2048.51 1025.32 2056.62 C1032.36 2064.74 1038.85 2069.5 1048.05 2072.86 C1057.25 2076.21 1069.7 2076.48 1080.52 2076.75 C1091.34 2077.02 1103.25 2075.94 1112.99 2074.48 C1122.73 2073.02 1132.47 2069.45 1138.96 2067.99 C1145.45 2066.53 1147.08 2065.71 1151.95 2065.71 C1156.82 2065.71 1165.48 2067.61 1168.18 2067.99" stroke="#22AE48" stroke-width="1.6" fill="none"/>
<path d="M754.22 2076.75 C758.82 2076.21 772.89 2076.32 781.82 2073.51 C790.75 2070.69 799.13 2065.66 807.79 2059.87 C816.45 2054.08 825.11 2046.34 833.77 2038.77 C842.42 2031.19 851.08 2023.89 859.74 2014.42 C868.4 2004.95 877.06 1993.85 885.71 1981.95 C894.37 1970.04 903.57 1954.08 911.69 1942.99 C919.81 1931.89 927.92 1920.91 934.42 1915.39 C940.91 1909.87 945.24 1909.6 950.65 1909.87 C956.06 1910.14 962.01 1914.2 966.88 1917.01 C971.75 1919.83 975.54 1924.86 979.87 1926.75 C984.2 1928.65 988.53 1929.73 992.86 1928.38 C997.19 1927.02 1001.52 1923.24 1005.84 1918.64 C1010.17 1914.04 1013.42 1908.9 1018.83 1900.78 C1024.24 1892.66 1031.01 1878.59 1038.31 1869.94 C1045.62 1861.28 1055.09 1851 1062.66 1848.83 C1070.24 1846.67 1077 1850.45 1083.77 1856.95 C1090.53 1863.44 1096.21 1872.37 1103.25 1887.79 C1110.28 1903.21 1118.4 1929.46 1125.97 1949.48 C1133.55 1969.5 1141.67 1992.5 1148.7 2007.92 C1155.74 2023.34 1164.94 2036.33 1168.18 2042.01 L1168.18 2076.8 L754.22 2076.8 Z" stroke="none" stroke-width="1" fill="#6A96D6" fill-opacity="0.28"/>
<path d="M754.22 2076.75 C758.82 2076.21 772.89 2076.32 781.82 2073.51 C790.75 2070.69 799.13 2065.66 807.79 2059.87 C816.45 2054.08 825.11 2046.34 833.77 2038.77 C842.42 2031.19 851.08 2023.89 859.74 2014.42 C868.4 2004.95 877.06 1993.85 885.71 1981.95 C894.37 1970.04 903.57 1954.08 911.69 1942.99 C919.81 1931.89 927.92 1920.91 934.42 1915.39 C940.91 1909.87 945.24 1909.6 950.65 1909.87 C956.06 1910.14 962.01 1914.2 966.88 1917.01 C971.75 1919.83 975.54 1924.86 979.87 1926.75 C984.2 1928.65 988.53 1929.73 992.86 1928.38 C997.19 1927.02 1001.52 1923.24 1005.84 1918.64 C1010.17 1914.04 1013.42 1908.9 1018.83 1900.78 C1024.24 1892.66 1031.01 1878.59 1038.31 1869.94 C1045.62 1861.28 1055.09 1851 1062.66 1848.83 C1070.24 1846.67 1077 1850.45 1083.77 1856.95 C1090.53 1863.44 1096.21 1872.37 1103.25 1887.79 C1110.28 1903.21 1118.4 1929.46 1125.97 1949.48 C1133.55 1969.5 1141.67 1992.5 1148.7 2007.92 C1155.74 2023.34 1164.94 2036.33 1168.18 2042.01" stroke="#6A96D6" stroke-width="1.6" fill="none"/>
<line x1="900.3" y1="1745.3" x2="900.3" y2="2092.3" stroke="#F0776B" stroke-width="1.6" stroke-dasharray="6.5 6.5"/>
<line x1="902.2" y1="1745.3" x2="902.2" y2="2092.3" stroke="#22AE48" stroke-width="1.6" stroke-dasharray="6.5 6.5"/>
<line x1="1015" y1="1745.3" x2="1015" y2="2092.3" stroke="#6A96D6" stroke-width="1.6" stroke-dasharray="6.5 6.5"/>
<rect x="734.7" y="1743.3" width="453.6" height="349" fill="none" stroke="#BDBDBD" stroke-width="1.2"/>
<line x1="768.1" y1="2092.3" x2="768.1" y2="2095.3" stroke="#333" stroke-width="1"/>
<text x="768.1" y="2111.2" font-size="14.6" text-anchor="middle" fill="#4D4D4D">−1000</text>
<line x1="900.3" y1="2092.3" x2="900.3" y2="2095.3" stroke="#333" stroke-width="1"/>
<text x="900.3" y="2111.2" font-size="14.6" text-anchor="middle" fill="#4D4D4D">0</text>
<line x1="1032.5" y1="2092.3" x2="1032.5" y2="2095.3" stroke="#333" stroke-width="1"/>
<text x="1032.5" y="2111.2" font-size="14.6" text-anchor="middle" fill="#4D4D4D">1000</text>
<line x1="1164.7" y1="2092.3" x2="1164.7" y2="2095.3" stroke="#333" stroke-width="1"/>
<text x="1164.7" y="2111.2" font-size="14.6" text-anchor="middle" fill="#4D4D4D">2000</text>
<line x1="731.7" y1="2076.8" x2="734.7" y2="2076.8" stroke="#333" stroke-width="1"/>
<text x="725" y="2082" font-size="14.6" text-anchor="end" fill="#4D4D4D">0.00000</text>
<line x1="731.7" y1="1985.2" x2="734.7" y2="1985.2" stroke="#333" stroke-width="1"/>
<text x="725" y="1990.4" font-size="14.6" text-anchor="end" fill="#4D4D4D">0.00025</text>
<line x1="731.7" y1="1893.6" x2="734.7" y2="1893.6" stroke="#333" stroke-width="1"/>
<text x="725" y="1898.8" font-size="14.6" text-anchor="end" fill="#4D4D4D">0.00050</text>
<line x1="731.7" y1="1802" x2="734.7" y2="1802" stroke="#333" stroke-width="1"/>
<text x="725" y="1807.2" font-size="14.6" text-anchor="end" fill="#4D4D4D">0.00075</text>
<text x="952.3" y="2137.8" font-size="24" text-anchor="middle" fill="#111" textLength="157.5" lengthAdjust="spacingAndGlyphs">ssGSEA score</text>
<text transform="translate(659 1931.6) rotate(-90)" font-size="27.3" text-anchor="middle" fill="#111">Density</text>
<text x="960.4" y="1718.3" font-size="24.7" text-anchor="middle" fill="#111" textLength="362.5" lengthAdjust="spacingAndGlyphs">HALLMARK_MITOTIC SPINDLE</text>
<rect x="1044.8" y="1744.9" width="136.4" height="94.2" fill="#FFFFFF"/>
<text x="1048" y="1760.5" font-size="14.1" fill="#231F20">cell group</text>
<rect x="1048.7" y="1769.9" width="20.5" height="20.5" fill="#F0776B" stroke="#F0776B" stroke-width="1.2" fill-opacity="0.28"/>
<line x1="1058.95" y1="1770.9" x2="1058.95" y2="1789.4" stroke="#F0776B" stroke-width="1.2" stroke-dasharray="4 3"/>
<text x="1077.3" y="1783.9" font-size="11.6" fill="#231F20">Central_group</text>
<rect x="1048.7" y="1792.5" width="20.5" height="20.5" fill="#22AE48" stroke="#22AE48" stroke-width="1.2" fill-opacity="0.28"/>
<line x1="1058.95" y1="1793.5" x2="1058.95" y2="1812" stroke="#22AE48" stroke-width="1.2" stroke-dasharray="4 3"/>
<text x="1077.3" y="1806.5" font-size="11.6" fill="#231F20">KRAS_targets high</text>
<rect x="1048.7" y="1815.1" width="20.5" height="20.5" fill="#6A96D6" stroke="#6A96D6" stroke-width="1.2" fill-opacity="0.28"/>
<line x1="1058.95" y1="1816.1" x2="1058.95" y2="1834.6" stroke="#6A96D6" stroke-width="1.2" stroke-dasharray="4 3"/>
<text x="1077.3" y="1829.1" font-size="11.6" fill="#231F20">MYC_targets high</text>
<line x1="1516.9" y1="1740.6" x2="1516.9" y2="2091.5" stroke="#F2F2F2" stroke-width="0.7"/>
<line x1="1615.3" y1="1740.6" x2="1615.3" y2="2091.5" stroke="#F2F2F2" stroke-width="0.7"/>
<line x1="1713.7" y1="1740.6" x2="1713.7" y2="2091.5" stroke="#F2F2F2" stroke-width="0.7"/>
<line x1="1812.1" y1="1740.6" x2="1812.1" y2="2091.5" stroke="#F2F2F2" stroke-width="0.7"/>
<line x1="1453" y1="2020.35" x2="1917.2" y2="2020.35" stroke="#F2F2F2" stroke-width="0.7"/>
<line x1="1453" y1="1908.45" x2="1917.2" y2="1908.45" stroke="#F2F2F2" stroke-width="0.7"/>
<line x1="1453" y1="1796.55" x2="1917.2" y2="1796.55" stroke="#F2F2F2" stroke-width="0.7"/>
<line x1="1467.7" y1="1740.6" x2="1467.7" y2="2091.5" stroke="#E5E5E5" stroke-width="1.1"/>
<line x1="1566.1" y1="1740.6" x2="1566.1" y2="2091.5" stroke="#E5E5E5" stroke-width="1.1"/>
<line x1="1664.5" y1="1740.6" x2="1664.5" y2="2091.5" stroke="#E5E5E5" stroke-width="1.1"/>
<line x1="1762.9" y1="1740.6" x2="1762.9" y2="2091.5" stroke="#E5E5E5" stroke-width="1.1"/>
<line x1="1861.3" y1="1740.6" x2="1861.3" y2="2091.5" stroke="#E5E5E5" stroke-width="1.1"/>
<line x1="1453" y1="2076.3" x2="1917.2" y2="2076.3" stroke="#E5E5E5" stroke-width="1.1"/>
<line x1="1453" y1="1964.4" x2="1917.2" y2="1964.4" stroke="#E5E5E5" stroke-width="1.1"/>
<line x1="1453" y1="1852.5" x2="1917.2" y2="1852.5" stroke="#E5E5E5" stroke-width="1.1"/>
<line x1="1453" y1="1740.6" x2="1917.2" y2="1740.6" stroke="#E5E5E5" stroke-width="1.1"/>
<path d="M1473.25 2068 C1476.86 2066.5 1487.68 2063.79 1494.9 2058.98 C1502.12 2054.17 1509.34 2046.35 1516.56 2039.13 C1523.78 2031.91 1531 2023.79 1538.22 2015.67 C1545.43 2007.55 1551.45 2003.03 1559.87 1990.4 C1568.29 1977.77 1579.72 1954.91 1588.75 1939.87 C1597.77 1924.83 1606.19 1911.6 1614.01 1900.17 C1621.83 1888.74 1628.45 1878.69 1635.67 1871.29 C1642.89 1863.9 1650.71 1857.28 1657.32 1855.77 C1663.94 1854.27 1668.75 1856.07 1675.37 1862.27 C1681.99 1868.47 1689.21 1882.72 1697.03 1892.95 C1704.85 1903.18 1714.47 1914.61 1722.29 1923.63 C1730.11 1932.65 1736.13 1937.16 1743.95 1947.09 C1751.77 1957.02 1760.19 1971.75 1769.21 1983.18 C1778.24 1994.61 1789.06 2006.04 1798.09 2015.67 C1807.11 2025.29 1815.53 2033.71 1823.35 2040.93 C1831.17 2048.15 1837.19 2053.87 1845.01 2058.98 C1852.83 2064.09 1861.73 2068.9 1870.27 2071.61 C1878.82 2074.32 1891.93 2074.62 1896.26 2075.22 L1896.26 2076.3 L1473.25 2076.3 Z" stroke="none" stroke-width="1" fill="#F0776B" fill-opacity="0.28"/>
<path d="M1473.25 2068 C1476.86 2066.5 1487.68 2063.79 1494.9 2058.98 C1502.12 2054.17 1509.34 2046.35 1516.56 2039.13 C1523.78 2031.91 1531 2023.79 1538.22 2015.67 C1545.43 2007.55 1551.45 2003.03 1559.87 1990.4 C1568.29 1977.77 1579.72 1954.91 1588.75 1939.87 C1597.77 1924.83 1606.19 1911.6 1614.01 1900.17 C1621.83 1888.74 1628.45 1878.69 1635.67 1871.29 C1642.89 1863.9 1650.71 1857.28 1657.32 1855.77 C1663.94 1854.27 1668.75 1856.07 1675.37 1862.27 C1681.99 1868.47 1689.21 1882.72 1697.03 1892.95 C1704.85 1903.18 1714.47 1914.61 1722.29 1923.63 C1730.11 1932.65 1736.13 1937.16 1743.95 1947.09 C1751.77 1957.02 1760.19 1971.75 1769.21 1983.18 C1778.24 1994.61 1789.06 2006.04 1798.09 2015.67 C1807.11 2025.29 1815.53 2033.71 1823.35 2040.93 C1831.17 2048.15 1837.19 2053.87 1845.01 2058.98 C1852.83 2064.09 1861.73 2068.9 1870.27 2071.61 C1878.82 2074.32 1891.93 2074.62 1896.26 2075.22" stroke="#F0776B" stroke-width="1.6" fill="none"/>
<path d="M1473.25 2076.3 C1486.48 2076.3 1532.2 2076.42 1552.65 2076.3 C1573.11 2076.18 1585.14 2076.36 1595.96 2075.58 C1606.79 2074.8 1611 2074.38 1617.62 2071.61 C1624.24 2068.84 1630.25 2065.3 1635.67 2058.98 C1641.08 2052.66 1645.29 2045.75 1650.1 2033.71 C1654.92 2021.68 1659.73 2004.84 1664.54 1986.79 C1669.35 1968.75 1674.17 1944.08 1678.98 1925.43 C1683.79 1906.79 1688.6 1887.84 1693.42 1874.9 C1698.23 1861.97 1703.04 1853.67 1707.85 1847.83 C1712.67 1842 1717.48 1840.49 1722.29 1839.89 C1727.1 1839.29 1731.31 1841.1 1736.73 1844.22 C1742.14 1847.35 1748.76 1853.25 1754.78 1858.66 C1760.79 1864.08 1766.81 1871.29 1772.82 1876.71 C1778.84 1882.12 1784.85 1889.52 1790.87 1891.15 C1796.88 1892.77 1804.1 1887.06 1808.92 1886.45 C1813.73 1885.85 1814.93 1884.05 1819.74 1887.54 C1824.56 1891.03 1831.17 1896.26 1837.79 1907.39 C1844.41 1918.52 1852.83 1940.47 1859.45 1954.31 C1866.06 1968.14 1871.36 1979.27 1877.49 1990.4 C1883.63 2001.53 1893.13 2015.97 1896.26 2021.08 L1896.26 2076.3 L1473.25 2076.3 Z" stroke="none" stroke-width="1" fill="#22AE48" fill-opacity="0.28"/>
<path d="M1473.25 2076.3 C1486.48 2076.3 1532.2 2076.42 1552.65 2076.3 C1573.11 2076.18 1585.14 2076.36 1595.96 2075.58 C1606.79 2074.8 1611 2074.38 1617.62 2071.61 C1624.24 2068.84 1630.25 2065.3 1635.67 2058.98 C1641.08 2052.66 1645.29 2045.75 1650.1 2033.71 C1654.92 2021.68 1659.73 2004.84 1664.54 1986.79 C1669.35 1968.75 1674.17 1944.08 1678.98 1925.43 C1683.79 1906.79 1688.6 1887.84 1693.42 1874.9 C1698.23 1861.97 1703.04 1853.67 1707.85 1847.83 C1712.67 1842 1717.48 1840.49 1722.29 1839.89 C1727.1 1839.29 1731.31 1841.1 1736.73 1844.22 C1742.14 1847.35 1748.76 1853.25 1754.78 1858.66 C1760.79 1864.08 1766.81 1871.29 1772.82 1876.71 C1778.84 1882.12 1784.85 1889.52 1790.87 1891.15 C1796.88 1892.77 1804.1 1887.06 1808.92 1886.45 C1813.73 1885.85 1814.93 1884.05 1819.74 1887.54 C1824.56 1891.03 1831.17 1896.26 1837.79 1907.39 C1844.41 1918.52 1852.83 1940.47 1859.45 1954.31 C1866.06 1968.14 1871.36 1979.27 1877.49 1990.4 C1883.63 2001.53 1893.13 2015.97 1896.26 2021.08" stroke="#22AE48" stroke-width="1.6" fill="none"/>
<path d="M1473.25 2073.42 C1476.86 2070.41 1487.68 2066.8 1494.9 2055.37 C1502.12 2043.94 1509.94 2022.89 1516.56 2004.84 C1523.18 1986.79 1528.59 1961.23 1534.61 1947.09 C1540.62 1932.95 1546.94 1927.84 1552.65 1920.02 C1558.37 1912.2 1563.48 1910.09 1568.89 1900.17 C1574.31 1890.24 1579.42 1877.31 1585.14 1860.47 C1590.85 1843.62 1597.77 1815.05 1603.18 1799.11 C1608.6 1783.17 1614.01 1772.04 1617.62 1764.82 C1621.23 1757.6 1622.13 1756.4 1624.84 1755.8 C1627.55 1755.19 1630.25 1755.8 1633.86 1761.21 C1637.47 1766.62 1641.98 1775.35 1646.5 1788.28 C1651.01 1801.21 1656.12 1819.56 1660.93 1838.81 C1665.75 1858.06 1670.56 1884.53 1675.37 1903.78 C1680.18 1923.03 1684.99 1940.47 1689.81 1954.31 C1694.62 1968.14 1698.83 1978.37 1704.24 1986.79 C1709.66 1995.21 1716.28 1999.73 1722.29 2004.84 C1728.31 2009.95 1734.32 2012.36 1740.34 2017.47 C1746.35 2022.59 1751.77 2030.41 1758.38 2035.52 C1765 2040.63 1771.02 2044.54 1780.04 2048.15 C1789.06 2051.76 1803.5 2054.89 1812.52 2057.17 C1821.55 2059.46 1825.76 2059.28 1834.18 2061.87 C1842.6 2064.45 1852.71 2070.29 1863.05 2072.69 C1873.4 2075.1 1890.73 2075.7 1896.26 2076.3 L1896.26 2076.3 L1473.25 2076.3 Z" stroke="none" stroke-width="1" fill="#6A96D6" fill-opacity="0.28"/>
<path d="M1473.25 2073.42 C1476.86 2070.41 1487.68 2066.8 1494.9 2055.37 C1502.12 2043.94 1509.94 2022.89 1516.56 2004.84 C1523.18 1986.79 1528.59 1961.23 1534.61 1947.09 C1540.62 1932.95 1546.94 1927.84 1552.65 1920.02 C1558.37 1912.2 1563.48 1910.09 1568.89 1900.17 C1574.31 1890.24 1579.42 1877.31 1585.14 1860.47 C1590.85 1843.62 1597.77 1815.05 1603.18 1799.11 C1608.6 1783.17 1614.01 1772.04 1617.62 1764.82 C1621.23 1757.6 1622.13 1756.4 1624.84 1755.8 C1627.55 1755.19 1630.25 1755.8 1633.86 1761.21 C1637.47 1766.62 1641.98 1775.35 1646.5 1788.28 C1651.01 1801.21 1656.12 1819.56 1660.93 1838.81 C1665.75 1858.06 1670.56 1884.53 1675.37 1903.78 C1680.18 1923.03 1684.99 1940.47 1689.81 1954.31 C1694.62 1968.14 1698.83 1978.37 1704.24 1986.79 C1709.66 1995.21 1716.28 1999.73 1722.29 2004.84 C1728.31 2009.95 1734.32 2012.36 1740.34 2017.47 C1746.35 2022.59 1751.77 2030.41 1758.38 2035.52 C1765 2040.63 1771.02 2044.54 1780.04 2048.15 C1789.06 2051.76 1803.5 2054.89 1812.52 2057.17 C1821.55 2059.46 1825.76 2059.28 1834.18 2061.87 C1842.6 2064.45 1852.71 2070.29 1863.05 2072.69 C1873.4 2075.1 1890.73 2075.7 1896.26 2076.3" stroke="#6A96D6" stroke-width="1.6" fill="none"/>
<line x1="1627.7" y1="1742.6" x2="1627.7" y2="2091.5" stroke="#6A96D6" stroke-width="1.6" stroke-dasharray="6.5 6.5"/>
<line x1="1664.5" y1="1742.6" x2="1664.5" y2="2091.5" stroke="#F0776B" stroke-width="1.6" stroke-dasharray="6.5 6.5"/>
<line x1="1768.5" y1="1742.6" x2="1768.5" y2="2091.5" stroke="#22AE48" stroke-width="1.6" stroke-dasharray="6.5 6.5"/>
<rect x="1453" y="1740.6" width="464.2" height="350.9" fill="none" stroke="#BDBDBD" stroke-width="1.2"/>
<line x1="1467.7" y1="2091.5" x2="1467.7" y2="2094.5" stroke="#333" stroke-width="1"/>
<text x="1467.7" y="2111.3" font-size="14.6" text-anchor="middle" fill="#4D4D4D">−1000</text>
<line x1="1566.1" y1="2091.5" x2="1566.1" y2="2094.5" stroke="#333" stroke-width="1"/>
<text x="1566.1" y="2111.3" font-size="14.6" text-anchor="middle" fill="#4D4D4D">−500</text>
<line x1="1664.5" y1="2091.5" x2="1664.5" y2="2094.5" stroke="#333" stroke-width="1"/>
<text x="1664.5" y="2111.3" font-size="14.6" text-anchor="middle" fill="#4D4D4D">0</text>
<line x1="1762.9" y1="2091.5" x2="1762.9" y2="2094.5" stroke="#333" stroke-width="1"/>
<text x="1762.9" y="2111.3" font-size="14.6" text-anchor="middle" fill="#4D4D4D">500</text>
<line x1="1861.3" y1="2091.5" x2="1861.3" y2="2094.5" stroke="#333" stroke-width="1"/>
<text x="1861.3" y="2111.3" font-size="14.6" text-anchor="middle" fill="#4D4D4D">1000</text>
<line x1="1450" y1="2076.3" x2="1453" y2="2076.3" stroke="#333" stroke-width="1"/>
<text x="1443.7" y="2081.5" font-size="14.6" text-anchor="end" fill="#4D4D4D">0.0000</text>
<line x1="1450" y1="1964.4" x2="1453" y2="1964.4" stroke="#333" stroke-width="1"/>
<text x="1443.7" y="1969.6" font-size="14.6" text-anchor="end" fill="#4D4D4D">0.0005</text>
<line x1="1450" y1="1852.5" x2="1453" y2="1852.5" stroke="#333" stroke-width="1"/>
<text x="1443.7" y="1857.7" font-size="14.6" text-anchor="end" fill="#4D4D4D">0.0010</text>
<line x1="1450" y1="1740.6" x2="1453" y2="1740.6" stroke="#333" stroke-width="1"/>
<text x="1443.7" y="1745.8" font-size="14.6" text-anchor="end" fill="#4D4D4D">0.0015</text>
<text x="1688" y="2136.6" font-size="24" text-anchor="middle" fill="#111" textLength="157.5" lengthAdjust="spacingAndGlyphs">ssGSEA score</text>
<text transform="translate(1383.5 1909.9) rotate(-90)" font-size="27.3" text-anchor="middle" fill="#111">Density</text>
<text x="1672.6" y="1721.5" font-size="24.7" text-anchor="middle" fill="#111" textLength="262.5" lengthAdjust="spacingAndGlyphs">WU_CELL MIGRATION</text>
<rect x="1772.8" y="1741.4" width="140.8" height="93.8" fill="#FFFFFF"/>
<text x="1780" y="1754" font-size="14.1" fill="#231F20">cell group</text>
<rect x="1780.7" y="1763.4" width="21" height="21" fill="#F0776B" stroke="#F0776B" stroke-width="1.2" fill-opacity="0.28"/>
<line x1="1791.2" y1="1764.4" x2="1791.2" y2="1783.4" stroke="#F0776B" stroke-width="1.2" stroke-dasharray="4 3"/>
<text x="1809.3" y="1777.4" font-size="11.6" fill="#231F20">Central_group</text>
<rect x="1780.7" y="1786" width="21" height="21" fill="#22AE48" stroke="#22AE48" stroke-width="1.2" fill-opacity="0.28"/>
<line x1="1791.2" y1="1787" x2="1791.2" y2="1806" stroke="#22AE48" stroke-width="1.2" stroke-dasharray="4 3"/>
<text x="1809.3" y="1800" font-size="11.6" fill="#231F20">KRAS_targets high</text>
<rect x="1780.7" y="1808.6" width="21" height="21" fill="#6A96D6" stroke="#6A96D6" stroke-width="1.2" fill-opacity="0.28"/>
<line x1="1791.2" y1="1809.6" x2="1791.2" y2="1828.6" stroke="#6A96D6" stroke-width="1.2" stroke-dasharray="4 3"/>
<text x="1809.3" y="1822.6" font-size="11.6" fill="#231F20">MYC_targets high</text>
<text x="-4.5" y="64.6" font-size="60" font-weight="bold" fill="#231F20">a</text>
<text x="438" y="64.5" font-size="54" font-weight="bold" fill="#231F20">b</text>
<text x="437" y="508.5" font-size="54" font-weight="bold" fill="#231F20">c</text>
<text x="1051" y="64.5" font-size="54" font-weight="bold" fill="#231F20">d</text>
<text x="1474.5" y="64.7" font-size="60" font-weight="bold" fill="#231F20">e</text>
<text x="18" y="951.5" font-size="54" font-weight="bold" fill="#231F20">f</text>
<text x="854" y="942" font-size="60" font-weight="bold" fill="#231F20">g</text>
<text x="-2" y="1726.5" font-size="54" font-weight="bold" fill="#231F20">h</text>
<text x="631.5" y="1726.5" font-size="54" font-weight="bold" fill="#231F20">i</text>
<text x="1308" y="1726.5" font-size="54" font-weight="bold" fill="#231F20">j</text>
</svg>
</body></html>
